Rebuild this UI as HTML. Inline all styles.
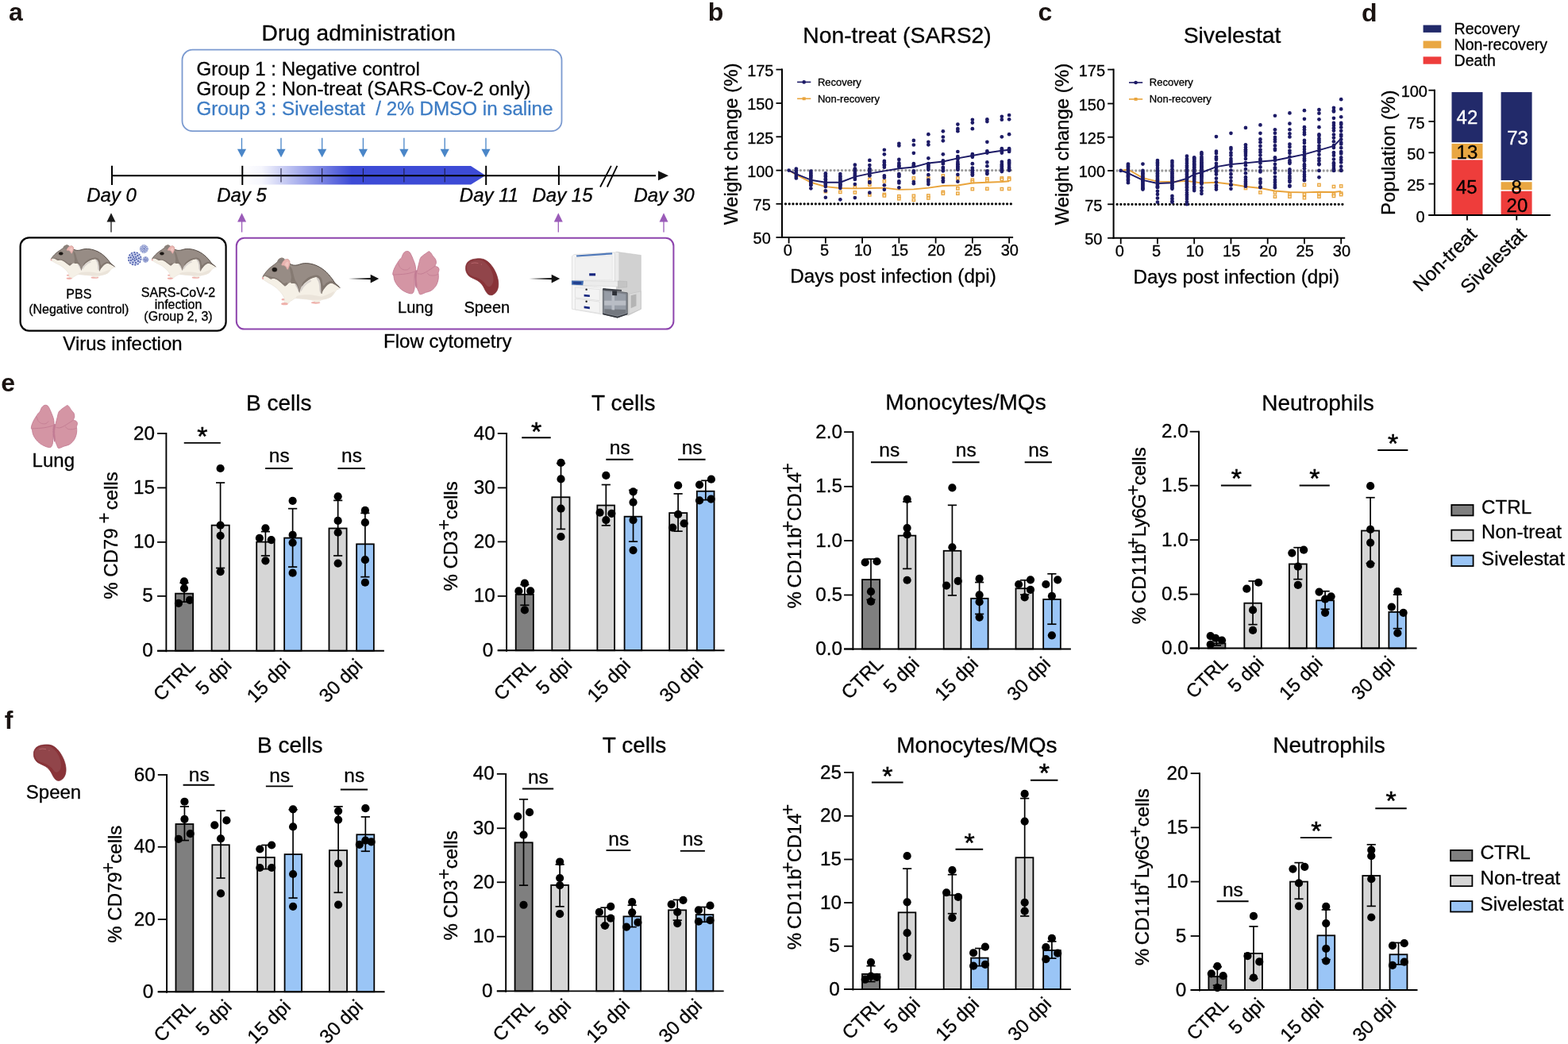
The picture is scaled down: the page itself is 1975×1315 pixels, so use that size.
<!DOCTYPE html>
<html lang="en"><head><meta charset="utf-8"><title>Figure</title>
<style>
html,body{margin:0;padding:0;background:#fff;}
body{width:1975px;height:1315px;overflow:hidden;}
svg{display:block;font-family:'Liberation Sans', Arial, Helvetica, sans-serif;}
</style></head>
<body>
<svg width="1975" height="1315" viewBox="0 0 1975 1315">
<rect width="1975" height="1315" fill="#fff"/>
<g id="panel_a">
<text x="11" y="25.7" font-size="32" font-weight="bold" fill="#1a1311">a</text>
<text x="451.8" y="50.5" font-size="28.2" text-anchor="middle" stroke="#000" stroke-width="0.3">Drug administration</text>
<rect x="229.5" y="62.7" width="478" height="102.5" fill="#fff" stroke="#7b9ad0" stroke-width="1.8" rx="13"/>
<text x="247.5" y="95" font-size="24.1" stroke="#000" stroke-width="0.3">Group 1 : Negative control</text>
<text x="247.5" y="119.5" font-size="24.2" stroke="#000" stroke-width="0.3">Group 2 : Non-treat (SARS-Cov-2 only)</text>
<text x="247.5" y="144.5" font-size="24.2" fill="#3d7cc4" stroke="#3d7cc4" stroke-width="0.3" xml:space="preserve" style="white-space:pre">Group 3 : Sivelestat  / 2% DMSO in saline</text>
<line x1="304.5" y1="173.8" x2="304.5" y2="189" stroke="#4a86c8" stroke-width="1.3"/>
<polygon points="298.9,187.8 310.1,187.8 304.5,198.3" fill="#4a86c8"/>
<line x1="354" y1="173.8" x2="354" y2="189" stroke="#4a86c8" stroke-width="1.3"/>
<polygon points="348.4,187.8 359.6,187.8 354,198.3" fill="#4a86c8"/>
<line x1="405.7" y1="173.8" x2="405.7" y2="189" stroke="#4a86c8" stroke-width="1.3"/>
<polygon points="400.1,187.8 411.3,187.8 405.7,198.3" fill="#4a86c8"/>
<line x1="457.4" y1="173.8" x2="457.4" y2="189" stroke="#4a86c8" stroke-width="1.3"/>
<polygon points="451.8,187.8 463,187.8 457.4,198.3" fill="#4a86c8"/>
<line x1="508.9" y1="173.8" x2="508.9" y2="189" stroke="#4a86c8" stroke-width="1.3"/>
<polygon points="503.3,187.8 514.5,187.8 508.9,198.3" fill="#4a86c8"/>
<line x1="560.2" y1="173.8" x2="560.2" y2="189" stroke="#4a86c8" stroke-width="1.3"/>
<polygon points="554.6,187.8 565.8,187.8 560.2,198.3" fill="#4a86c8"/>
<line x1="612" y1="173.8" x2="612" y2="189" stroke="#4a86c8" stroke-width="1.3"/>
<polygon points="606.4,187.8 617.6,187.8 612,198.3" fill="#4a86c8"/>
<defs><linearGradient id="gb" x1="0" x2="1" y1="0" y2="0"><stop offset="0" stop-color="#3d4bd6" stop-opacity="0"/><stop offset="0.08" stop-color="#3d4bd6" stop-opacity="0.05"/><stop offset="0.45" stop-color="#3d4bd6" stop-opacity="1"/><stop offset="1" stop-color="#3d4bd6" stop-opacity="1"/></linearGradient></defs>
<polygon points="305,209 593,209 611.5,221 593,232.6 305,232.6" fill="url(#gb)"/>
<line x1="140.2" y1="221.2" x2="826" y2="221.2" stroke="#000" stroke-width="2"/>
<polygon points="829,215.3 842,221.2 829,227.2" fill="#111"/>
<line x1="141" y1="208.8" x2="141" y2="233" stroke="#000" stroke-width="2"/>
<line x1="305.3" y1="208.8" x2="305.3" y2="233" stroke="#000" stroke-width="2"/>
<line x1="612.2" y1="208.8" x2="612.2" y2="233" stroke="#000" stroke-width="2"/>
<line x1="703.9" y1="208.8" x2="703.9" y2="233" stroke="#000" stroke-width="2"/>
<line x1="354" y1="212" x2="354" y2="229.5" stroke="#1a1a3a" stroke-width="1"/>
<line x1="405.7" y1="212" x2="405.7" y2="229.5" stroke="#1a1a3a" stroke-width="1"/>
<line x1="457.4" y1="212" x2="457.4" y2="229.5" stroke="#1a1a3a" stroke-width="1"/>
<line x1="508.9" y1="212" x2="508.9" y2="229.5" stroke="#1a1a3a" stroke-width="1"/>
<line x1="560.2" y1="212" x2="560.2" y2="229.5" stroke="#1a1a3a" stroke-width="1"/>
<line x1="756" y1="235.5" x2="769.8" y2="208.8" stroke="#000" stroke-width="1.8"/>
<line x1="764.8" y1="235.5" x2="777.4" y2="208.8" stroke="#000" stroke-width="1.8"/>
<text x="140.5" y="254" font-size="24" text-anchor="middle" font-style="italic" stroke="#000" stroke-width="0.3">Day 0</text>
<text x="304.5" y="254" font-size="24" text-anchor="middle" font-style="italic" stroke="#000" stroke-width="0.3">Day 5</text>
<text x="616" y="254" font-size="24" text-anchor="middle" font-style="italic" stroke="#000" stroke-width="0.3">Day 11</text>
<text x="708.5" y="254" font-size="24" text-anchor="middle" font-style="italic" stroke="#000" stroke-width="0.3">Day 15</text>
<text x="836.5" y="254" font-size="24" text-anchor="middle" font-style="italic" stroke="#000" stroke-width="0.3">Day 30</text>
<line x1="140" y1="278" x2="140" y2="292.5" stroke="#1a1a1a" stroke-width="1.3"/>
<polygon points="134.5,279.5 145.5,279.5 140,268.3" fill="#1a1a1a"/>
<line x1="304.6" y1="278" x2="304.6" y2="292.5" stroke="#9a5bb8" stroke-width="1.3"/>
<polygon points="299.1,279.5 310.1,279.5 304.6,268.3" fill="#9a5bb8"/>
<line x1="703.3" y1="278" x2="703.3" y2="292.5" stroke="#9a5bb8" stroke-width="1.3"/>
<polygon points="697.8,279.5 708.8,279.5 703.3,268.3" fill="#9a5bb8"/>
<line x1="836" y1="278" x2="836" y2="292.5" stroke="#9a5bb8" stroke-width="1.3"/>
<polygon points="830.5,279.5 841.5,279.5 836,268.3" fill="#9a5bb8"/>
<rect x="25.6" y="299.4" width="259" height="117.2" fill="#fff" stroke="#000" stroke-width="2.2" rx="11"/>
<rect x="297.8" y="299.8" width="550.6" height="114.8" fill="#fff" stroke="#8d44ad" stroke-width="2" rx="10"/>
<ellipse cx="85.75" cy="346.76" rx="1.9" ry="0.89" fill="#efb1ab"/>
<ellipse cx="119.34" cy="349.69" rx="4.76" ry="1.07" fill="#efb1ab"/>
<path d="M63.7,327.13 C63.89,326.6 64.74,325.4 65.45,324.47 C66.17,323.53 67.41,321.98 68.46,320.91 C69.51,319.85 71.27,318.29 72.47,317.36 C73.67,316.43 75.43,315.43 76.48,314.7 C77.53,313.96 78.89,313.14 79.49,312.47 C80.09,311.81 79.97,310.82 80.49,310.25 C81.02,309.69 82.25,308.93 83,308.7 C83.75,308.47 84.83,308.5 85.5,308.7 C86.18,308.9 86.76,309.87 87.51,310.03 C88.26,310.2 89.8,309.61 90.52,309.81 C91.23,310.01 91.91,310.73 92.27,311.36 C92.63,312 92.28,313.43 92.92,314.03 C93.56,314.63 95.39,315.19 96.53,315.36 C97.67,315.53 99.19,315.37 100.54,315.14 C101.89,314.91 104.05,314.04 105.55,313.81 C107.06,313.57 109.06,313.52 110.57,313.59 C112.07,313.65 114.07,313.92 115.58,314.25 C117.08,314.58 119.09,315.21 120.59,315.81 C122.09,316.41 124.1,317.35 125.6,318.25 C127.11,319.15 129.26,320.67 130.62,321.8 C131.97,322.93 133.57,324.67 134.63,325.8 C135.68,326.93 136.88,328.42 137.63,329.35 C138.39,330.28 138.89,331.28 139.64,332.02 C140.39,332.75 141.93,333.64 142.65,334.24 C143.36,334.84 144.25,335.61 144.4,336.01 C144.55,336.41 144.06,336.63 143.65,336.9 C143.23,337.17 142.17,337.46 141.64,337.79 C141.12,338.12 140.74,338.45 140.14,339.12 C139.54,339.79 138.31,341.5 137.63,342.23 C136.96,342.96 136.53,343.47 135.63,344.01 C134.73,344.54 132.82,345.38 131.62,345.78 C130.42,346.18 128.66,346.4 127.61,346.67 C126.56,346.94 125.35,347.21 124.6,347.56 C123.85,347.91 123.42,348.75 122.6,348.98 C121.77,349.21 119.95,349.29 119.09,349.11 C118.22,348.93 117.66,348.09 116.83,347.78 C116,347.47 114.51,347.19 113.57,347.03 C112.63,346.86 111.77,346.79 110.57,346.67 C109.36,346.55 107.06,346.36 105.55,346.23 C104.05,346.09 101.67,345.85 100.54,345.78 C99.41,345.72 98.79,345.58 98.04,345.78 C97.28,345.98 96.28,346.7 95.53,347.11 C94.78,347.53 93.66,348.07 93.02,348.54 C92.38,349 91.91,349.92 91.27,350.22 C90.63,350.53 89.39,350.75 88.76,350.58 C88.14,350.41 87.39,349.77 87.11,349.11 C86.83,348.46 87.15,347.13 86.91,346.23 C86.67,345.33 86.17,344.12 85.5,343.12 C84.84,342.12 83.47,340.56 82.5,339.56 C81.52,338.57 80.12,337.32 78.99,336.46 C77.86,335.59 76.26,334.52 74.98,333.79 C73.7,333.06 71.74,332.24 70.47,331.57 C69.19,330.91 67.4,329.88 66.46,329.35 C65.52,328.82 64.61,328.35 64.2,328.02 C63.79,327.69 63.51,327.66 63.7,327.13Z" fill="#f5f0e6" stroke="#e3dbd0" stroke-width="0.5"/>
<ellipse cx="87.11" cy="350.76" rx="3.51" ry="1.15" fill="#efb1ab"/>
<path d="M99.54,344.01 C100.37,343.49 102.88,342.9 105.55,342.67 C108.23,342.45 112.24,342.45 115.58,342.67 C118.92,342.9 122.6,344.23 125.6,344.01 C128.61,343.78 131.45,342.08 133.62,341.34 C135.8,340.6 138.3,339.12 138.64,339.56 C138.97,340.01 136.8,342.97 135.63,344.01 C134.46,345.04 132.95,345.34 131.62,345.78 C130.28,346.23 129.45,346.43 127.61,346.67 C125.77,346.91 123.43,347.2 120.59,347.2 C117.75,347.2 113.91,346.91 110.57,346.67 C107.22,346.43 102.38,346.23 100.54,345.78 C98.7,345.34 98.7,344.52 99.54,344.01Z" fill="#ebe4da"/>
<path d="M98.04,332.02 C98.37,331.72 99.79,331.79 100.54,332.46 C101.29,333.13 102.13,334.68 102.55,336.01 C102.96,337.34 103.21,339.86 103.05,340.45 C102.88,341.05 102.05,340.23 101.54,339.56 C101.04,338.9 100.54,337.34 100.04,336.46 C99.54,335.57 98.87,334.98 98.54,334.24 C98.2,333.5 97.7,332.31 98.04,332.02Z" fill="#cfc9c6"/>
<path d="M103.55,338.23 C103.72,337.42 104.55,335.42 105.55,334.24 C106.56,333.05 108.23,332.02 109.56,331.13 C110.9,330.24 112.74,329.05 113.57,328.91 C114.41,328.76 115.08,329.65 114.58,330.24 C114.07,330.83 111.82,331.57 110.57,332.46 C109.31,333.35 108.06,334.46 107.06,335.57 C106.05,336.68 105.14,338.68 104.55,339.12 C103.97,339.56 103.38,339.05 103.55,338.23Z" fill="#d9d3cf"/>
<path d="M120.09,326.69 C120.17,326.24 121.84,326.91 122.6,327.57 C123.35,328.24 124.14,329.28 124.6,330.68 C125.06,332.09 125.19,334.24 125.35,336.01 C125.52,337.79 125.9,340.75 125.6,341.34 C125.31,341.93 124.02,340.75 123.6,339.56 C123.18,338.38 123.35,335.79 123.1,334.24 C122.85,332.68 122.6,331.5 122.09,330.24 C121.59,328.98 120.01,327.13 120.09,326.69Z" fill="#cfc9c6"/>
<path d="M63.7,327.13 C63.81,326.83 64.74,325.4 65.45,324.47 C66.17,323.53 67.41,321.98 68.46,320.91 C69.51,319.85 71.27,318.29 72.47,317.36 C73.67,316.43 75.43,315.43 76.48,314.7 C77.53,313.96 78.89,313.14 79.49,312.47 C80.09,311.81 79.97,310.82 80.49,310.25 C81.02,309.69 82.25,308.93 83,308.7 C83.75,308.47 84.83,308.5 85.5,308.7 C86.18,308.9 86.76,309.87 87.51,310.03 C88.26,310.2 89.8,309.61 90.52,309.81 C91.23,310.01 91.91,310.73 92.27,311.36 C92.63,312 92.28,313.43 92.92,314.03 C93.56,314.63 95.39,315.19 96.53,315.36 C97.67,315.53 99.19,315.37 100.54,315.14 C101.89,314.91 104.05,314.04 105.55,313.81 C107.06,313.57 109.06,313.52 110.57,313.59 C112.07,313.65 114.07,313.92 115.58,314.25 C117.08,314.58 119.09,315.21 120.59,315.81 C122.09,316.41 124.1,317.35 125.6,318.25 C127.11,319.15 129.26,320.67 130.62,321.8 C131.97,322.93 133.57,324.67 134.63,325.8 C135.68,326.93 136.88,328.42 137.63,329.35 C138.39,330.28 138.89,331.28 139.64,332.02 C140.39,332.75 141.93,333.64 142.65,334.24 C143.36,334.84 144.14,335.75 144.4,336.01 C144.66,336.28 144.66,336.15 144.4,336.01 C144.14,335.88 143.36,335.52 142.65,335.12 C141.93,334.72 140.54,333.81 139.64,333.35 C138.74,332.88 137.46,332.22 136.63,332.02 C135.8,331.82 134.95,331.75 134.12,332.02 C133.3,332.28 131.94,333.13 131.12,333.79 C130.29,334.46 129.29,335.66 128.61,336.46 C127.93,337.26 127.09,338.35 126.61,339.12 C126.12,339.89 125.63,341.76 125.4,341.56 C125.18,341.36 125.18,338.89 125.1,337.79 C125.02,336.69 125,335.37 124.85,334.24 C124.7,333.1 124.44,331.24 124.1,330.24 C123.76,329.24 123.2,328.17 122.6,327.57 C121.99,326.97 120.92,326.38 120.09,326.24 C119.26,326.11 118.06,326.42 117.08,326.69 C116.1,326.95 114.55,327.55 113.57,328.02 C112.6,328.48 111.47,329.2 110.57,329.79 C109.66,330.39 108.39,331.28 107.56,332.02 C106.73,332.75 105.65,333.81 105.05,334.68 C104.45,335.55 103.92,336.91 103.55,337.79 C103.17,338.67 102.81,340.68 102.55,340.54 C102.28,340.41 102.1,337.91 101.79,336.9 C101.49,335.89 100.95,334.52 100.54,333.79 C100.13,333.06 99.64,332.41 99.04,332.02 C98.44,331.62 97.36,331.26 96.53,331.13 C95.7,330.99 94.43,330.93 93.52,331.13 C92.62,331.33 91.34,331.96 90.52,332.46 C89.69,332.96 88.61,334.26 88.01,334.46 C87.41,334.66 87.18,334.22 86.51,333.79 C85.83,333.36 84.4,332.24 83.5,331.57 C82.6,330.91 81.32,329.88 80.49,329.35 C79.66,328.82 78.74,328.28 77.99,328.02 C77.23,327.75 76.23,327.57 75.48,327.57 C74.73,327.57 73.72,328.15 72.97,328.02 C72.22,327.89 71.14,327.02 70.47,326.69 C69.79,326.35 69.14,325.96 68.46,325.8 C67.79,325.63 66.52,325.48 65.96,325.58 C65.39,325.68 65.04,326.23 64.7,326.46 C64.36,326.7 63.59,327.43 63.7,327.13Z" fill="#978c85"/>
<path d="M92.27,316.03 C92.6,315.73 94.32,317.73 95.03,319.14 C95.74,320.54 96.03,322.84 96.53,324.47 C97.03,326.09 97.37,327.57 98.04,328.91 C98.7,330.24 99.87,331.13 100.54,332.46 C101.21,333.79 101.71,335.57 102.05,336.9 C102.38,338.23 102.8,340.75 102.55,340.45 C102.3,340.16 101.21,336.46 100.54,335.12 C99.87,333.79 99.37,332.98 98.54,332.46 C97.7,331.94 96.36,332.16 95.53,332.02 C94.69,331.87 93.77,332.53 93.52,331.57 C93.27,330.61 94.11,328.02 94.03,326.24 C93.94,324.47 93.32,322.62 93.02,320.91 C92.73,319.21 91.94,316.32 92.27,316.03Z" fill="#857a72"/>
<path d="M105.05,334.68 C105.39,334.68 106.64,332.83 107.56,332.02 C108.48,331.2 109.56,330.46 110.57,329.79 C111.57,329.13 112.49,328.54 113.57,328.02 C114.66,327.5 116,326.98 117.08,326.69 C118.17,326.39 119.17,326.09 120.09,326.24 C121.01,326.39 121.93,326.91 122.6,327.57 C123.26,328.24 123.72,329.13 124.1,330.24 C124.48,331.35 124.63,332.35 124.85,334.24 C125.07,336.12 125.11,340.75 125.4,341.56 C125.7,342.38 126.07,339.97 126.61,339.12 C127.14,338.27 127.86,337.34 128.61,336.46 C129.36,335.57 130.2,334.53 131.12,333.79 C132.04,333.05 133.21,332.31 134.12,332.02 C135.04,331.72 135.71,331.79 136.63,332.02 C137.55,332.24 138.34,332.68 139.64,333.35 C140.93,334.01 144.32,336.16 144.4,336.01 C144.48,335.86 141.27,333.42 140.14,332.46 C139.01,331.5 138.55,330.68 137.63,330.24 C136.71,329.79 135.8,329.57 134.63,329.79 C133.46,330.02 131.79,330.83 130.62,331.57 C129.45,332.31 128.28,334.09 127.61,334.24 C126.94,334.38 126.94,333.5 126.61,332.46 C126.27,331.42 126.19,329.2 125.6,328.02 C125.02,326.83 124.02,325.95 123.1,325.35 C122.18,324.76 121.18,324.54 120.09,324.47 C119,324.39 117.83,324.61 116.58,324.91 C115.33,325.21 113.91,325.58 112.57,326.24 C111.23,326.91 109.73,327.94 108.56,328.91 C107.39,329.87 106.14,331.05 105.55,332.02 C104.97,332.98 104.72,334.68 105.05,334.68Z" fill="#82776f"/>
<path d="M64.7,326.46 C64.45,326.61 65.33,325.69 65.96,325.58 C66.58,325.46 67.71,325.61 68.46,325.8 C69.21,325.98 69.71,326.32 70.47,326.69 C71.22,327.06 72.14,327.87 72.97,328.02 C73.81,328.17 74.64,327.57 75.48,327.57 C76.31,327.57 77.15,327.72 77.99,328.02 C78.82,328.31 79.57,328.76 80.49,329.35 C81.41,329.94 82.5,330.83 83.5,331.57 C84.5,332.31 85.75,333.31 86.51,333.79 C87.26,334.27 87.34,334.68 88.01,334.46 C88.68,334.24 90.27,333.01 90.52,332.46 C90.77,331.9 90.18,331.2 89.51,331.13 C88.85,331.05 87.51,332.24 86.51,332.02 C85.5,331.79 84.5,330.5 83.5,329.79 C82.5,329.09 81.49,328.31 80.49,327.8 C79.49,327.28 78.49,326.95 77.48,326.69 C76.48,326.43 75.65,326.46 74.48,326.24 C73.31,326.02 71.64,325.61 70.47,325.35 C69.3,325.09 68.42,324.5 67.46,324.69 C66.5,324.87 64.95,326.32 64.7,326.46Z" fill="#857a72"/>
<path d="M64.7,325.58 C64.83,325.39 64.83,325.24 65.45,324.47 C66.08,323.69 67.29,322.1 68.46,320.91 C69.63,319.73 71.14,318.4 72.47,317.36 C73.81,316.32 75.31,315.51 76.48,314.7 C77.65,313.88 78.99,312.84 79.49,312.47" fill="none" stroke="#5b524d" stroke-width="0.8" stroke-linecap="round"/>
<path d="M92.92,314.25 C93.52,314.44 95.26,315.21 96.53,315.36 C97.8,315.51 99.04,315.4 100.54,315.14 C102.05,314.88 103.88,314.07 105.55,313.81 C107.22,313.55 108.9,313.51 110.57,313.59 C112.24,313.66 113.91,313.88 115.58,314.25 C117.25,314.62 118.92,315.14 120.59,315.81 C122.26,316.47 123.93,317.25 125.6,318.25 C127.27,319.25 129.11,320.54 130.62,321.8 C132.12,323.06 133.46,324.54 134.63,325.8 C135.8,327.06 136.8,328.31 137.63,329.35 C138.47,330.39 138.8,331.2 139.64,332.02 C140.47,332.83 141.85,333.57 142.65,334.24 C143.44,334.9 144.11,335.72 144.4,336.01" fill="none" stroke="#554c47" stroke-width="1" stroke-linecap="round"/>
<path d="M79.49,312.47 C79.32,312.03 79.91,310.88 80.49,310.25 C81.08,309.63 82.16,308.96 83,308.7 C83.83,308.44 84.84,308.51 85.5,308.7 C86.17,308.89 87.01,309.29 87.01,309.81 C87.01,310.33 86.01,311.11 85.5,311.81 C85,312.51 84.67,313.84 84,314.03 C83.33,314.21 82.25,313.18 81.49,312.92 C80.74,312.66 79.66,312.92 79.49,312.47Z" fill="#8a807b"/>
<path d="M84,315.14 C83.83,314.55 84.84,312.88 85.5,312.03 C86.17,311.18 87.17,310.4 88.01,310.03 C88.85,309.66 89.81,309.59 90.52,309.81 C91.23,310.03 91.89,310.77 92.27,311.36 C92.65,311.96 92.81,312.59 92.77,313.36 C92.73,314.14 92.4,315.07 92.02,316.03 C91.64,316.99 90.93,318.69 90.52,319.14 C90.1,319.58 89.85,319.06 89.51,318.69 C89.18,318.32 89.01,317.43 88.51,316.92 C88.01,316.4 87.26,315.88 86.51,315.58 C85.75,315.29 84.17,315.73 84,315.14Z" fill="#e9b4b0" stroke="#d79c9b" stroke-width="0.4"/>
<path d="M87.51,314.7 C87.43,314.03 88.47,312.92 89.01,312.47 C89.56,312.03 90.39,311.73 90.77,312.03 C91.14,312.33 91.31,313.44 91.27,314.25 C91.23,315.07 90.81,316.55 90.52,316.92 C90.22,317.29 90.02,316.84 89.51,316.47 C89.01,316.1 87.59,315.36 87.51,314.7Z" fill="#f0c6c1"/>
<ellipse cx="76.73" cy="319.36" rx="2.91" ry="2.31" fill="#6d635d"/>
<ellipse cx="76.73" cy="319.36" rx="2.51" ry="1.95" fill="#1c1815"/>
<ellipse cx="64.6" cy="327.35" rx="0.9" ry="1.07" fill="#e9a9a9"/>
<ellipse cx="212.95" cy="346.76" rx="1.9" ry="0.89" fill="#efb1ab"/>
<ellipse cx="246.54" cy="349.69" rx="4.76" ry="1.07" fill="#efb1ab"/>
<path d="M190.9,327.13 C191.09,326.6 191.94,325.4 192.65,324.47 C193.37,323.53 194.61,321.98 195.66,320.91 C196.71,319.85 198.47,318.29 199.67,317.36 C200.87,316.43 202.63,315.43 203.68,314.7 C204.73,313.96 206.09,313.14 206.69,312.47 C207.29,311.81 207.17,310.82 207.69,310.25 C208.22,309.69 209.45,308.93 210.2,308.7 C210.95,308.47 212.03,308.5 212.7,308.7 C213.38,308.9 213.96,309.87 214.71,310.03 C215.46,310.2 217,309.61 217.72,309.81 C218.43,310.01 219.11,310.73 219.47,311.36 C219.83,312 219.48,313.43 220.12,314.03 C220.76,314.63 222.59,315.19 223.73,315.36 C224.87,315.53 226.39,315.37 227.74,315.14 C229.09,314.91 231.25,314.04 232.75,313.81 C234.26,313.57 236.26,313.52 237.77,313.59 C239.27,313.65 241.27,313.92 242.78,314.25 C244.28,314.58 246.29,315.21 247.79,315.81 C249.29,316.41 251.3,317.35 252.8,318.25 C254.31,319.15 256.46,320.67 257.82,321.8 C259.17,322.93 260.77,324.67 261.83,325.8 C262.88,326.93 264.08,328.42 264.83,329.35 C265.59,330.28 266.09,331.28 266.84,332.02 C267.59,332.75 269.13,333.64 269.85,334.24 C270.56,334.84 271.45,335.61 271.6,336.01 C271.75,336.41 271.26,336.63 270.85,336.9 C270.43,337.17 269.37,337.46 268.84,337.79 C268.32,338.12 267.94,338.45 267.34,339.12 C266.74,339.79 265.51,341.5 264.83,342.23 C264.16,342.96 263.73,343.47 262.83,344.01 C261.93,344.54 260.02,345.38 258.82,345.78 C257.62,346.18 255.86,346.4 254.81,346.67 C253.76,346.94 252.55,347.21 251.8,347.56 C251.05,347.91 250.62,348.75 249.8,348.98 C248.97,349.21 247.15,349.29 246.29,349.11 C245.42,348.93 244.86,348.09 244.03,347.78 C243.2,347.47 241.71,347.19 240.77,347.03 C239.83,346.86 238.97,346.79 237.77,346.67 C236.56,346.55 234.26,346.36 232.75,346.23 C231.25,346.09 228.87,345.85 227.74,345.78 C226.61,345.72 225.99,345.58 225.24,345.78 C224.48,345.98 223.48,346.7 222.73,347.11 C221.98,347.53 220.86,348.07 220.22,348.54 C219.58,349 219.11,349.92 218.47,350.22 C217.83,350.53 216.59,350.75 215.96,350.58 C215.34,350.41 214.59,349.77 214.31,349.11 C214.03,348.46 214.35,347.13 214.11,346.23 C213.87,345.33 213.37,344.12 212.7,343.12 C212.04,342.12 210.67,340.56 209.7,339.56 C208.72,338.57 207.32,337.32 206.19,336.46 C205.06,335.59 203.46,334.52 202.18,333.79 C200.9,333.06 198.94,332.24 197.67,331.57 C196.39,330.91 194.6,329.88 193.66,329.35 C192.72,328.82 191.81,328.35 191.4,328.02 C190.99,327.69 190.71,327.66 190.9,327.13Z" fill="#f5f0e6" stroke="#e3dbd0" stroke-width="0.5"/>
<ellipse cx="214.31" cy="350.76" rx="3.51" ry="1.15" fill="#efb1ab"/>
<path d="M226.74,344.01 C227.57,343.49 230.08,342.9 232.75,342.67 C235.43,342.45 239.44,342.45 242.78,342.67 C246.12,342.9 249.8,344.23 252.8,344.01 C255.81,343.78 258.65,342.08 260.82,341.34 C263,340.6 265.5,339.12 265.84,339.56 C266.17,340.01 264,342.97 262.83,344.01 C261.66,345.04 260.15,345.34 258.82,345.78 C257.48,346.23 256.65,346.43 254.81,346.67 C252.97,346.91 250.63,347.2 247.79,347.2 C244.95,347.2 241.11,346.91 237.77,346.67 C234.42,346.43 229.58,346.23 227.74,345.78 C225.9,345.34 225.9,344.52 226.74,344.01Z" fill="#ebe4da"/>
<path d="M225.24,332.02 C225.57,331.72 226.99,331.79 227.74,332.46 C228.49,333.13 229.33,334.68 229.75,336.01 C230.16,337.34 230.41,339.86 230.25,340.45 C230.08,341.05 229.25,340.23 228.74,339.56 C228.24,338.9 227.74,337.34 227.24,336.46 C226.74,335.57 226.07,334.98 225.74,334.24 C225.4,333.5 224.9,332.31 225.24,332.02Z" fill="#cfc9c6"/>
<path d="M230.75,338.23 C230.92,337.42 231.75,335.42 232.75,334.24 C233.76,333.05 235.43,332.02 236.76,331.13 C238.1,330.24 239.94,329.05 240.77,328.91 C241.61,328.76 242.28,329.65 241.78,330.24 C241.27,330.83 239.02,331.57 237.77,332.46 C236.51,333.35 235.26,334.46 234.26,335.57 C233.25,336.68 232.34,338.68 231.75,339.12 C231.17,339.56 230.58,339.05 230.75,338.23Z" fill="#d9d3cf"/>
<path d="M247.29,326.69 C247.37,326.24 249.04,326.91 249.8,327.57 C250.55,328.24 251.34,329.28 251.8,330.68 C252.26,332.09 252.39,334.24 252.55,336.01 C252.72,337.79 253.1,340.75 252.8,341.34 C252.51,341.93 251.22,340.75 250.8,339.56 C250.38,338.38 250.55,335.79 250.3,334.24 C250.05,332.68 249.8,331.5 249.29,330.24 C248.79,328.98 247.21,327.13 247.29,326.69Z" fill="#cfc9c6"/>
<path d="M190.9,327.13 C191.01,326.83 191.94,325.4 192.65,324.47 C193.37,323.53 194.61,321.98 195.66,320.91 C196.71,319.85 198.47,318.29 199.67,317.36 C200.87,316.43 202.63,315.43 203.68,314.7 C204.73,313.96 206.09,313.14 206.69,312.47 C207.29,311.81 207.17,310.82 207.69,310.25 C208.22,309.69 209.45,308.93 210.2,308.7 C210.95,308.47 212.03,308.5 212.7,308.7 C213.38,308.9 213.96,309.87 214.71,310.03 C215.46,310.2 217,309.61 217.72,309.81 C218.43,310.01 219.11,310.73 219.47,311.36 C219.83,312 219.48,313.43 220.12,314.03 C220.76,314.63 222.59,315.19 223.73,315.36 C224.87,315.53 226.39,315.37 227.74,315.14 C229.09,314.91 231.25,314.04 232.75,313.81 C234.26,313.57 236.26,313.52 237.77,313.59 C239.27,313.65 241.27,313.92 242.78,314.25 C244.28,314.58 246.29,315.21 247.79,315.81 C249.29,316.41 251.3,317.35 252.8,318.25 C254.31,319.15 256.46,320.67 257.82,321.8 C259.17,322.93 260.77,324.67 261.83,325.8 C262.88,326.93 264.08,328.42 264.83,329.35 C265.59,330.28 266.09,331.28 266.84,332.02 C267.59,332.75 269.13,333.64 269.85,334.24 C270.56,334.84 271.34,335.75 271.6,336.01 C271.86,336.28 271.86,336.15 271.6,336.01 C271.34,335.88 270.56,335.52 269.85,335.12 C269.13,334.72 267.74,333.81 266.84,333.35 C265.94,332.88 264.66,332.22 263.83,332.02 C263,331.82 262.15,331.75 261.32,332.02 C260.5,332.28 259.14,333.13 258.32,333.79 C257.49,334.46 256.49,335.66 255.81,336.46 C255.13,337.26 254.29,338.35 253.81,339.12 C253.32,339.89 252.83,341.76 252.6,341.56 C252.38,341.36 252.38,338.89 252.3,337.79 C252.22,336.69 252.2,335.37 252.05,334.24 C251.9,333.1 251.64,331.24 251.3,330.24 C250.96,329.24 250.4,328.17 249.8,327.57 C249.19,326.97 248.12,326.38 247.29,326.24 C246.46,326.11 245.26,326.42 244.28,326.69 C243.3,326.95 241.75,327.55 240.77,328.02 C239.8,328.48 238.67,329.2 237.77,329.79 C236.86,330.39 235.59,331.28 234.76,332.02 C233.93,332.75 232.85,333.81 232.25,334.68 C231.65,335.55 231.12,336.91 230.75,337.79 C230.37,338.67 230.01,340.68 229.75,340.54 C229.48,340.41 229.3,337.91 228.99,336.9 C228.69,335.89 228.15,334.52 227.74,333.79 C227.33,333.06 226.84,332.41 226.24,332.02 C225.64,331.62 224.56,331.26 223.73,331.13 C222.9,330.99 221.63,330.93 220.72,331.13 C219.82,331.33 218.54,331.96 217.72,332.46 C216.89,332.96 215.81,334.26 215.21,334.46 C214.61,334.66 214.38,334.22 213.71,333.79 C213.03,333.36 211.6,332.24 210.7,331.57 C209.8,330.91 208.52,329.88 207.69,329.35 C206.86,328.82 205.94,328.28 205.19,328.02 C204.43,327.75 203.43,327.57 202.68,327.57 C201.93,327.57 200.92,328.15 200.17,328.02 C199.42,327.89 198.34,327.02 197.67,326.69 C196.99,326.35 196.34,325.96 195.66,325.8 C194.99,325.63 193.72,325.48 193.16,325.58 C192.59,325.68 192.24,326.23 191.9,326.46 C191.56,326.7 190.79,327.43 190.9,327.13Z" fill="#978c85"/>
<path d="M219.47,316.03 C219.8,315.73 221.52,317.73 222.23,319.14 C222.94,320.54 223.23,322.84 223.73,324.47 C224.23,326.09 224.57,327.57 225.24,328.91 C225.9,330.24 227.07,331.13 227.74,332.46 C228.41,333.79 228.91,335.57 229.25,336.9 C229.58,338.23 230,340.75 229.75,340.45 C229.5,340.16 228.41,336.46 227.74,335.12 C227.07,333.79 226.57,332.98 225.74,332.46 C224.9,331.94 223.56,332.16 222.73,332.02 C221.89,331.87 220.97,332.53 220.72,331.57 C220.47,330.61 221.31,328.02 221.23,326.24 C221.14,324.47 220.52,322.62 220.22,320.91 C219.93,319.21 219.14,316.32 219.47,316.03Z" fill="#857a72"/>
<path d="M232.25,334.68 C232.59,334.68 233.84,332.83 234.76,332.02 C235.68,331.2 236.76,330.46 237.77,329.79 C238.77,329.13 239.69,328.54 240.77,328.02 C241.86,327.5 243.2,326.98 244.28,326.69 C245.37,326.39 246.37,326.09 247.29,326.24 C248.21,326.39 249.13,326.91 249.8,327.57 C250.46,328.24 250.92,329.13 251.3,330.24 C251.68,331.35 251.83,332.35 252.05,334.24 C252.27,336.12 252.31,340.75 252.6,341.56 C252.9,342.38 253.27,339.97 253.81,339.12 C254.34,338.27 255.06,337.34 255.81,336.46 C256.56,335.57 257.4,334.53 258.32,333.79 C259.24,333.05 260.41,332.31 261.32,332.02 C262.24,331.72 262.91,331.79 263.83,332.02 C264.75,332.24 265.54,332.68 266.84,333.35 C268.13,334.01 271.52,336.16 271.6,336.01 C271.68,335.86 268.47,333.42 267.34,332.46 C266.21,331.5 265.75,330.68 264.83,330.24 C263.91,329.79 263,329.57 261.83,329.79 C260.66,330.02 258.99,330.83 257.82,331.57 C256.65,332.31 255.48,334.09 254.81,334.24 C254.14,334.38 254.14,333.5 253.81,332.46 C253.47,331.42 253.39,329.2 252.8,328.02 C252.22,326.83 251.22,325.95 250.3,325.35 C249.38,324.76 248.38,324.54 247.29,324.47 C246.2,324.39 245.03,324.61 243.78,324.91 C242.53,325.21 241.11,325.58 239.77,326.24 C238.43,326.91 236.93,327.94 235.76,328.91 C234.59,329.87 233.34,331.05 232.75,332.02 C232.17,332.98 231.92,334.68 232.25,334.68Z" fill="#82776f"/>
<path d="M191.9,326.46 C191.65,326.61 192.53,325.69 193.16,325.58 C193.78,325.46 194.91,325.61 195.66,325.8 C196.41,325.98 196.91,326.32 197.67,326.69 C198.42,327.06 199.34,327.87 200.17,328.02 C201.01,328.17 201.84,327.57 202.68,327.57 C203.51,327.57 204.35,327.72 205.19,328.02 C206.02,328.31 206.77,328.76 207.69,329.35 C208.61,329.94 209.7,330.83 210.7,331.57 C211.7,332.31 212.95,333.31 213.71,333.79 C214.46,334.27 214.54,334.68 215.21,334.46 C215.88,334.24 217.47,333.01 217.72,332.46 C217.97,331.9 217.38,331.2 216.71,331.13 C216.05,331.05 214.71,332.24 213.71,332.02 C212.7,331.79 211.7,330.5 210.7,329.79 C209.7,329.09 208.69,328.31 207.69,327.8 C206.69,327.28 205.69,326.95 204.68,326.69 C203.68,326.43 202.85,326.46 201.68,326.24 C200.51,326.02 198.84,325.61 197.67,325.35 C196.5,325.09 195.62,324.5 194.66,324.69 C193.7,324.87 192.15,326.32 191.9,326.46Z" fill="#857a72"/>
<path d="M191.9,325.58 C192.03,325.39 192.03,325.24 192.65,324.47 C193.28,323.69 194.49,322.1 195.66,320.91 C196.83,319.73 198.34,318.4 199.67,317.36 C201.01,316.32 202.51,315.51 203.68,314.7 C204.85,313.88 206.19,312.84 206.69,312.47" fill="none" stroke="#5b524d" stroke-width="0.8" stroke-linecap="round"/>
<path d="M220.12,314.25 C220.72,314.44 222.46,315.21 223.73,315.36 C225,315.51 226.24,315.4 227.74,315.14 C229.25,314.88 231.08,314.07 232.75,313.81 C234.42,313.55 236.1,313.51 237.77,313.59 C239.44,313.66 241.11,313.88 242.78,314.25 C244.45,314.62 246.12,315.14 247.79,315.81 C249.46,316.47 251.13,317.25 252.8,318.25 C254.47,319.25 256.31,320.54 257.82,321.8 C259.32,323.06 260.66,324.54 261.83,325.8 C263,327.06 264,328.31 264.83,329.35 C265.67,330.39 266,331.2 266.84,332.02 C267.67,332.83 269.05,333.57 269.85,334.24 C270.64,334.9 271.31,335.72 271.6,336.01" fill="none" stroke="#554c47" stroke-width="1" stroke-linecap="round"/>
<path d="M206.69,312.47 C206.52,312.03 207.11,310.88 207.69,310.25 C208.28,309.63 209.36,308.96 210.2,308.7 C211.03,308.44 212.04,308.51 212.7,308.7 C213.37,308.89 214.21,309.29 214.21,309.81 C214.21,310.33 213.21,311.11 212.7,311.81 C212.2,312.51 211.87,313.84 211.2,314.03 C210.53,314.21 209.45,313.18 208.69,312.92 C207.94,312.66 206.86,312.92 206.69,312.47Z" fill="#8a807b"/>
<path d="M211.2,315.14 C211.03,314.55 212.04,312.88 212.7,312.03 C213.37,311.18 214.37,310.4 215.21,310.03 C216.05,309.66 217.01,309.59 217.72,309.81 C218.43,310.03 219.09,310.77 219.47,311.36 C219.85,311.96 220.01,312.59 219.97,313.36 C219.93,314.14 219.6,315.07 219.22,316.03 C218.84,316.99 218.13,318.69 217.72,319.14 C217.3,319.58 217.05,319.06 216.71,318.69 C216.38,318.32 216.21,317.43 215.71,316.92 C215.21,316.4 214.46,315.88 213.71,315.58 C212.95,315.29 211.37,315.73 211.2,315.14Z" fill="#e9b4b0" stroke="#d79c9b" stroke-width="0.4"/>
<path d="M214.71,314.7 C214.63,314.03 215.67,312.92 216.21,312.47 C216.76,312.03 217.59,311.73 217.97,312.03 C218.34,312.33 218.51,313.44 218.47,314.25 C218.43,315.07 218.01,316.55 217.72,316.92 C217.42,317.29 217.22,316.84 216.71,316.47 C216.21,316.1 214.79,315.36 214.71,314.7Z" fill="#f0c6c1"/>
<ellipse cx="203.93" cy="319.36" rx="2.91" ry="2.31" fill="#6d635d"/>
<ellipse cx="203.93" cy="319.36" rx="2.51" ry="1.95" fill="#1c1815"/>
<ellipse cx="191.8" cy="327.35" rx="0.9" ry="1.07" fill="#e9a9a9"/>
<circle cx="169.7" cy="325.8" r="8.5" fill="#c9d0ec"/>
<circle cx="169.7" cy="325.8" r="7.91" fill="none" stroke="#4457a8" stroke-width="1.53" stroke-dasharray="1.87 1.7"/>
<circle cx="173.99" cy="328.86" r="1.02" fill="#3f51a3"/>
<circle cx="171.02" cy="330.9" r="1.02" fill="#3f51a3"/>
<circle cx="167.43" cy="330.56" r="1.02" fill="#3f51a3"/>
<circle cx="164.9" cy="327.98" r="1.02" fill="#3f51a3"/>
<circle cx="164.62" cy="324.39" r="1.02" fill="#3f51a3"/>
<circle cx="166.72" cy="321.46" r="1.02" fill="#3f51a3"/>
<circle cx="170.21" cy="320.55" r="1.02" fill="#3f51a3"/>
<circle cx="173.46" cy="322.11" r="1.02" fill="#3f51a3"/>
<circle cx="174.95" cy="325.39" r="1.02" fill="#3f51a3"/>
<circle cx="172.14" cy="326.55" r="1.02" fill="#3f51a3"/>
<circle cx="169.74" cy="328.35" r="1.02" fill="#3f51a3"/>
<circle cx="167.29" cy="326.62" r="1.02" fill="#3f51a3"/>
<circle cx="168.17" cy="323.76" r="1.02" fill="#3f51a3"/>
<circle cx="171.17" cy="323.72" r="1.02" fill="#3f51a3"/>
<circle cx="169.7" cy="325.8" r="0.85" fill="#3f51a3"/>
<circle cx="181.3" cy="313.5" r="5.2" fill="#c9d0ec"/>
<circle cx="181.3" cy="313.5" r="4.84" fill="none" stroke="#4457a8" stroke-width="0.94" stroke-dasharray="1.14 1.04"/>
<circle cx="183.92" cy="315.37" r="0.62" fill="#3f51a3"/>
<circle cx="182.11" cy="316.62" r="0.62" fill="#3f51a3"/>
<circle cx="179.91" cy="316.41" r="0.62" fill="#3f51a3"/>
<circle cx="178.37" cy="314.84" r="0.62" fill="#3f51a3"/>
<circle cx="178.19" cy="312.64" r="0.62" fill="#3f51a3"/>
<circle cx="179.47" cy="310.84" r="0.62" fill="#3f51a3"/>
<circle cx="181.61" cy="310.29" r="0.62" fill="#3f51a3"/>
<circle cx="183.6" cy="311.24" r="0.62" fill="#3f51a3"/>
<circle cx="184.51" cy="313.25" r="0.62" fill="#3f51a3"/>
<circle cx="182.79" cy="313.96" r="0.62" fill="#3f51a3"/>
<circle cx="181.32" cy="315.06" r="0.62" fill="#3f51a3"/>
<circle cx="179.82" cy="314" r="0.62" fill="#3f51a3"/>
<circle cx="180.37" cy="312.25" r="0.62" fill="#3f51a3"/>
<circle cx="182.2" cy="312.23" r="0.62" fill="#3f51a3"/>
<circle cx="181.3" cy="313.5" r="0.52" fill="#3f51a3"/>
<circle cx="183.4" cy="326.9" r="3.7" fill="#c9d0ec"/>
<circle cx="183.4" cy="326.9" r="3.44" fill="none" stroke="#4457a8" stroke-width="0.67" stroke-dasharray="0.81 0.74"/>
<circle cx="185.27" cy="328.23" r="0.5" fill="#3f51a3"/>
<circle cx="183.97" cy="329.12" r="0.5" fill="#3f51a3"/>
<circle cx="182.41" cy="328.97" r="0.5" fill="#3f51a3"/>
<circle cx="181.31" cy="327.85" r="0.5" fill="#3f51a3"/>
<circle cx="181.19" cy="326.29" r="0.5" fill="#3f51a3"/>
<circle cx="182.1" cy="325.01" r="0.5" fill="#3f51a3"/>
<circle cx="183.62" cy="324.62" r="0.5" fill="#3f51a3"/>
<circle cx="185.04" cy="325.29" r="0.5" fill="#3f51a3"/>
<circle cx="185.69" cy="326.72" r="0.5" fill="#3f51a3"/>
<circle cx="184.46" cy="327.23" r="0.5" fill="#3f51a3"/>
<circle cx="183.42" cy="328.01" r="0.5" fill="#3f51a3"/>
<circle cx="182.35" cy="327.26" r="0.5" fill="#3f51a3"/>
<circle cx="182.73" cy="326.01" r="0.5" fill="#3f51a3"/>
<circle cx="184.04" cy="325.99" r="0.5" fill="#3f51a3"/>
<circle cx="183.4" cy="326.9" r="0.4" fill="#3f51a3"/>
<text x="99.3" y="375.8" font-size="16" text-anchor="middle" stroke="#000" stroke-width="0.3">PBS</text>
<text x="99.3" y="395.3" font-size="16" text-anchor="middle" stroke="#000" stroke-width="0.3">(Negative control)</text>
<text x="224.5" y="373.7" font-size="16" text-anchor="middle" stroke="#000" stroke-width="0.3">SARS-CoV-2</text>
<text x="224.5" y="388.5" font-size="16" text-anchor="middle" stroke="#000" stroke-width="0.3">infection</text>
<text x="224.5" y="403.8" font-size="16" text-anchor="middle" stroke="#000" stroke-width="0.3">(Group 2, 3)</text>
<text x="154.5" y="440.5" font-size="24" text-anchor="middle" stroke="#000" stroke-width="0.3">Virus infection</text>
<text x="563.8" y="438" font-size="24" text-anchor="middle" stroke="#000" stroke-width="0.3">Flow cytometry</text>
<ellipse cx="356.78" cy="377.17" rx="2.31" ry="1.22" fill="#efb1ab"/>
<ellipse cx="397.57" cy="381.18" rx="5.78" ry="1.46" fill="#efb1ab"/>
<path d="M330,350.26 C330.23,349.53 331.26,347.89 332.13,346.61 C333,345.33 334.5,343.2 335.78,341.74 C337.06,340.28 339.19,338.15 340.65,336.87 C342.11,335.59 344.24,334.22 345.52,333.22 C346.8,332.21 348.44,331.09 349.17,330.17 C349.9,329.26 349.75,327.91 350.39,327.13 C351.03,326.35 352.52,325.32 353.43,325 C354.35,324.68 355.66,324.73 356.48,325 C357.3,325.27 358,326.6 358.91,326.83 C359.83,327.05 361.7,326.25 362.57,326.52 C363.43,326.8 364.26,327.78 364.7,328.65 C365.13,329.52 364.71,331.48 365.49,332.3 C366.26,333.13 368.48,333.9 369.87,334.13 C371.26,334.36 373.1,334.15 374.74,333.83 C376.38,333.51 379,332.32 380.83,332 C382.65,331.68 385.09,331.6 386.91,331.7 C388.74,331.79 391.17,332.15 393,332.61 C394.83,333.07 397.26,333.92 399.09,334.74 C400.91,335.56 403.35,336.85 405.17,338.09 C407,339.32 409.62,341.4 411.26,342.96 C412.9,344.51 414.85,346.88 416.13,348.43 C417.41,349.99 418.87,352.03 419.78,353.3 C420.7,354.58 421.3,355.95 422.22,356.96 C423.13,357.96 425,359.18 425.87,360 C426.74,360.82 427.82,361.89 428,362.43 C428.18,362.98 427.59,363.29 427.09,363.65 C426.58,364.02 425.29,364.41 424.65,364.87 C424.01,365.33 423.56,365.78 422.83,366.7 C422.1,367.61 420.6,369.95 419.78,370.96 C418.96,371.96 418.44,372.66 417.35,373.39 C416.25,374.12 413.94,375.28 412.48,375.83 C411.02,376.37 408.89,376.68 407.61,377.04 C406.33,377.41 404.87,377.79 403.96,378.26 C403.04,378.74 402.53,379.89 401.52,380.21 C400.52,380.53 398.31,380.64 397.26,380.39 C396.21,380.14 395.53,378.99 394.52,378.57 C393.52,378.14 391.71,377.76 390.57,377.53 C389.42,377.3 388.37,377.21 386.91,377.04 C385.45,376.88 382.65,376.62 380.83,376.43 C379,376.25 376.11,375.92 374.74,375.83 C373.37,375.73 372.61,375.55 371.7,375.83 C370.78,376.1 369.57,377.09 368.65,377.65 C367.74,378.22 366.38,378.96 365.61,379.6 C364.83,380.24 364.25,381.49 363.48,381.91 C362.7,382.33 361.19,382.63 360.43,382.4 C359.68,382.17 358.76,381.29 358.43,380.39 C358.09,379.5 358.47,377.67 358.18,376.43 C357.89,375.2 357.28,373.54 356.48,372.17 C355.67,370.8 354.01,368.67 352.83,367.3 C351.64,365.93 349.93,364.23 348.57,363.04 C347.2,361.86 345.25,360.4 343.7,359.39 C342.14,358.39 339.77,357.26 338.22,356.35 C336.67,355.43 334.49,354.03 333.35,353.3 C332.21,352.57 331.11,351.93 330.61,351.48 C330.11,351.02 329.77,350.99 330,350.26Z" fill="#f5f0e6" stroke="#e3dbd0" stroke-width="0.5"/>
<ellipse cx="358.43" cy="382.64" rx="4.26" ry="1.58" fill="#efb1ab"/>
<path d="M373.52,373.39 C374.54,372.68 377.58,371.87 380.83,371.57 C384.07,371.26 388.94,371.26 393,371.57 C397.06,371.87 401.52,373.7 405.17,373.39 C408.83,373.09 412.28,370.75 414.91,369.74 C417.55,368.72 420.59,366.7 421,367.3 C421.41,367.91 418.77,371.97 417.35,373.39 C415.93,374.81 414.1,375.22 412.48,375.83 C410.86,376.43 409.84,376.72 407.61,377.04 C405.38,377.37 402.54,377.77 399.09,377.77 C395.64,377.77 390.97,377.37 386.91,377.04 C382.86,376.72 376.97,376.43 374.74,375.83 C372.51,375.22 372.51,374.1 373.52,373.39Z" fill="#ebe4da"/>
<path d="M371.7,356.96 C372.1,356.55 373.83,356.65 374.74,357.57 C375.65,358.48 376.67,360.61 377.17,362.43 C377.68,364.26 377.99,367.71 377.78,368.52 C377.58,369.33 376.57,368.22 375.96,367.3 C375.35,366.39 374.74,364.26 374.13,363.04 C373.52,361.83 372.71,361.01 372.3,360 C371.9,358.99 371.29,357.36 371.7,356.96Z" fill="#cfc9c6"/>
<path d="M378.39,365.48 C378.59,364.36 379.61,361.62 380.83,360 C382.04,358.38 384.07,356.96 385.7,355.74 C387.32,354.52 389.55,352.9 390.57,352.7 C391.58,352.49 392.39,353.71 391.78,354.52 C391.17,355.33 388.43,356.35 386.91,357.57 C385.39,358.78 383.87,360.3 382.65,361.83 C381.43,363.35 380.32,366.09 379.61,366.7 C378.9,367.3 378.19,366.59 378.39,365.48Z" fill="#d9d3cf"/>
<path d="M398.48,349.65 C398.58,349.04 400.61,349.96 401.52,350.87 C402.43,351.78 403.4,353.2 403.96,355.13 C404.51,357.06 404.67,360 404.87,362.43 C405.07,364.87 405.53,368.93 405.17,369.74 C404.82,370.55 403.25,368.93 402.74,367.3 C402.23,365.68 402.43,362.13 402.13,360 C401.83,357.87 401.52,356.25 400.91,354.52 C400.3,352.8 398.38,350.26 398.48,349.65Z" fill="#cfc9c6"/>
<path d="M330,350.26 C330.14,349.85 331.26,347.89 332.13,346.61 C333,345.33 334.5,343.2 335.78,341.74 C337.06,340.28 339.19,338.15 340.65,336.87 C342.11,335.59 344.24,334.22 345.52,333.22 C346.8,332.21 348.44,331.09 349.17,330.17 C349.9,329.26 349.75,327.91 350.39,327.13 C351.03,326.35 352.52,325.32 353.43,325 C354.35,324.68 355.66,324.73 356.48,325 C357.3,325.27 358,326.6 358.91,326.83 C359.83,327.05 361.7,326.25 362.57,326.52 C363.43,326.8 364.26,327.78 364.7,328.65 C365.13,329.52 364.71,331.48 365.49,332.3 C366.26,333.13 368.48,333.9 369.87,334.13 C371.26,334.36 373.1,334.15 374.74,333.83 C376.38,333.51 379,332.32 380.83,332 C382.65,331.68 385.09,331.6 386.91,331.7 C388.74,331.79 391.17,332.15 393,332.61 C394.83,333.07 397.26,333.92 399.09,334.74 C400.91,335.56 403.35,336.85 405.17,338.09 C407,339.32 409.62,341.4 411.26,342.96 C412.9,344.51 414.85,346.88 416.13,348.43 C417.41,349.99 418.87,352.03 419.78,353.3 C420.7,354.58 421.3,355.95 422.22,356.96 C423.13,357.96 425,359.18 425.87,360 C426.74,360.82 427.68,362.07 428,362.43 C428.32,362.8 428.32,362.62 428,362.43 C427.68,362.25 426.74,361.77 425.87,361.22 C425,360.67 423.31,359.42 422.22,358.78 C421.12,358.14 419.57,357.23 418.57,356.96 C417.56,356.68 416.53,356.59 415.52,356.96 C414.52,357.32 412.87,358.48 411.87,359.39 C410.87,360.3 409.65,361.95 408.83,363.04 C408,364.14 406.98,365.65 406.39,366.7 C405.81,367.75 405.2,370.32 404.93,370.04 C404.66,369.77 404.67,366.38 404.57,364.87 C404.46,363.36 404.44,361.55 404.26,360 C404.08,358.45 403.76,355.89 403.35,354.52 C402.94,353.15 402.25,351.69 401.52,350.87 C400.79,350.05 399.48,349.23 398.48,349.04 C397.47,348.86 396.01,349.29 394.83,349.65 C393.64,350.02 391.75,350.84 390.57,351.48 C389.38,352.12 388.01,353.09 386.91,353.91 C385.82,354.73 384.27,355.95 383.26,356.96 C382.26,357.96 380.95,359.42 380.22,360.61 C379.49,361.8 378.85,363.66 378.39,364.87 C377.93,366.07 377.49,368.83 377.17,368.64 C376.85,368.46 376.63,365.04 376.26,363.65 C375.9,362.26 375.24,360.4 374.74,359.39 C374.24,358.39 373.64,357.5 372.91,356.96 C372.18,356.41 370.87,355.92 369.87,355.74 C368.87,355.56 367.31,355.47 366.22,355.74 C365.12,356.01 363.57,356.88 362.57,357.57 C361.56,358.25 360.25,360.03 359.52,360.3 C358.79,360.58 358.52,359.98 357.7,359.39 C356.87,358.8 355.14,357.26 354.04,356.35 C352.95,355.43 351.4,354.03 350.39,353.3 C349.39,352.57 348.26,351.84 347.35,351.48 C346.43,351.11 345.22,350.87 344.3,350.87 C343.39,350.87 342.17,351.66 341.26,351.48 C340.35,351.3 339.04,350.11 338.22,349.65 C337.4,349.2 336.6,348.66 335.78,348.43 C334.96,348.21 333.42,347.99 332.74,348.13 C332.05,348.27 331.63,349.03 331.22,349.35 C330.81,349.67 329.86,350.67 330,350.26Z" fill="#978c85"/>
<path d="M364.7,335.04 C365.1,334.64 367.18,337.38 368.04,339.3 C368.91,341.23 369.26,344.38 369.87,346.61 C370.48,348.84 370.88,350.87 371.7,352.7 C372.51,354.52 373.93,355.74 374.74,357.57 C375.55,359.39 376.16,361.83 376.57,363.65 C376.97,365.48 377.48,368.93 377.17,368.52 C376.87,368.12 375.55,363.04 374.74,361.22 C373.93,359.39 373.32,358.28 372.3,357.57 C371.29,356.86 369.67,357.16 368.65,356.96 C367.64,356.75 366.52,357.67 366.22,356.35 C365.91,355.03 366.93,351.48 366.83,349.04 C366.72,346.61 365.96,344.07 365.61,341.74 C365.25,339.41 364.29,335.45 364.7,335.04Z" fill="#857a72"/>
<path d="M380.22,360.61 C380.62,360.61 382.14,358.07 383.26,356.96 C384.38,355.84 385.7,354.83 386.91,353.91 C388.13,353 389.25,352.19 390.57,351.48 C391.88,350.77 393.51,350.06 394.83,349.65 C396.14,349.25 397.36,348.84 398.48,349.04 C399.59,349.25 400.71,349.96 401.52,350.87 C402.33,351.78 402.89,353 403.35,354.52 C403.8,356.04 404,357.41 404.26,360 C404.52,362.59 404.58,368.93 404.93,370.04 C405.29,371.16 405.74,367.86 406.39,366.7 C407.04,365.53 407.91,364.26 408.83,363.04 C409.74,361.83 410.75,360.41 411.87,359.39 C412.99,358.38 414.41,357.36 415.52,356.96 C416.64,356.55 417.45,356.65 418.57,356.96 C419.68,357.26 420.64,357.87 422.22,358.78 C423.79,359.7 427.9,362.64 428,362.43 C428.1,362.23 424.2,358.88 422.83,357.57 C421.46,356.25 420.9,355.13 419.78,354.52 C418.67,353.91 417.55,353.61 416.13,353.91 C414.71,354.22 412.68,355.33 411.26,356.35 C409.84,357.36 408.42,359.8 407.61,360 C406.8,360.2 406.8,358.99 406.39,357.57 C405.99,356.14 405.88,353.1 405.17,351.48 C404.46,349.86 403.25,348.64 402.13,347.83 C401.01,347.01 399.8,346.71 398.48,346.61 C397.16,346.51 395.74,346.81 394.22,347.22 C392.7,347.62 390.97,348.13 389.35,349.04 C387.72,349.96 385.9,351.38 384.48,352.7 C383.06,354.01 381.54,355.64 380.83,356.96 C380.12,358.28 379.81,360.61 380.22,360.61Z" fill="#82776f"/>
<path d="M331.22,349.35 C330.91,349.55 331.98,348.28 332.74,348.13 C333.5,347.98 334.87,348.18 335.78,348.43 C336.7,348.69 337.3,349.14 338.22,349.65 C339.13,350.16 340.25,351.28 341.26,351.48 C342.28,351.68 343.29,350.87 344.3,350.87 C345.32,350.87 346.33,351.07 347.35,351.48 C348.36,351.88 349.28,352.49 350.39,353.3 C351.51,354.12 352.83,355.33 354.04,356.35 C355.26,357.36 356.78,358.73 357.7,359.39 C358.61,360.05 358.71,360.61 359.52,360.3 C360.33,360 362.26,358.33 362.57,357.57 C362.87,356.8 362.16,355.84 361.35,355.74 C360.54,355.64 358.91,357.26 357.7,356.96 C356.48,356.65 355.26,354.88 354.04,353.91 C352.83,352.95 351.61,351.88 350.39,351.17 C349.17,350.46 347.96,350.01 346.74,349.65 C345.52,349.3 344.51,349.35 343.09,349.04 C341.67,348.74 339.64,348.18 338.22,347.83 C336.8,347.47 335.73,346.66 334.57,346.91 C333.4,347.17 331.52,349.14 331.22,349.35Z" fill="#857a72"/>
<path d="M331.22,348.13 C331.37,347.88 331.37,347.67 332.13,346.61 C332.89,345.54 334.36,343.36 335.78,341.74 C337.2,340.12 339.03,338.29 340.65,336.87 C342.28,335.45 344.1,334.33 345.52,333.22 C346.94,332.1 348.57,330.68 349.17,330.17" fill="none" stroke="#5b524d" stroke-width="0.8" stroke-linecap="round"/>
<path d="M365.49,332.61 C366.22,332.86 368.33,333.93 369.87,334.13 C371.41,334.33 372.91,334.18 374.74,333.83 C376.57,333.47 378.8,332.36 380.83,332 C382.86,331.64 384.88,331.59 386.91,331.7 C388.94,331.8 390.97,332.1 393,332.61 C395.03,333.12 397.06,333.83 399.09,334.74 C401.12,335.65 403.14,336.72 405.17,338.09 C407.2,339.46 409.43,341.23 411.26,342.96 C413.09,344.68 414.71,346.71 416.13,348.43 C417.55,350.16 418.77,351.88 419.78,353.3 C420.8,354.72 421.2,355.84 422.22,356.96 C423.23,358.07 424.91,359.09 425.87,360 C426.83,360.91 427.64,362.03 428,362.43" fill="none" stroke="#554c47" stroke-width="1" stroke-linecap="round"/>
<path d="M349.17,330.17 C348.97,329.57 349.68,327.99 350.39,327.13 C351.1,326.27 352.42,325.36 353.43,325 C354.45,324.64 355.67,324.75 356.48,325 C357.29,325.25 358.3,325.81 358.3,326.52 C358.3,327.23 357.09,328.3 356.48,329.26 C355.87,330.22 355.46,332.05 354.65,332.3 C353.84,332.56 352.52,331.14 351.61,330.78 C350.7,330.43 349.38,330.78 349.17,330.17Z" fill="#8a807b"/>
<path d="M354.65,333.83 C354.45,333.01 355.67,330.73 356.48,329.57 C357.29,328.4 358.51,327.33 359.52,326.83 C360.54,326.32 361.7,326.22 362.57,326.52 C363.43,326.83 364.24,327.84 364.7,328.65 C365.15,329.46 365.36,330.33 365.3,331.39 C365.25,332.46 364.85,333.72 364.39,335.04 C363.93,336.36 363.07,338.7 362.57,339.3 C362.06,339.91 361.75,339.2 361.35,338.7 C360.94,338.19 360.74,336.97 360.13,336.26 C359.52,335.55 358.61,334.84 357.7,334.43 C356.78,334.03 354.86,334.64 354.65,333.83Z" fill="#e9b4b0" stroke="#d79c9b" stroke-width="0.4"/>
<path d="M358.91,333.22 C358.81,332.3 360.08,330.78 360.74,330.17 C361.4,329.57 362.41,329.16 362.87,329.57 C363.33,329.97 363.53,331.49 363.48,332.61 C363.43,333.72 362.92,335.75 362.57,336.26 C362.21,336.77 361.96,336.16 361.35,335.65 C360.74,335.14 359.01,334.13 358.91,333.22Z" fill="#f0c6c1"/>
<ellipse cx="345.83" cy="339.61" rx="3.53" ry="3.17" fill="#6d635d"/>
<ellipse cx="345.83" cy="339.61" rx="3.04" ry="2.68" fill="#1c1815"/>
<ellipse cx="331.1" cy="350.57" rx="1.1" ry="1.46" fill="#e9a9a9"/>
<polygon points="439,351 468.2,350 468.2,352.2" fill="#111"/>
<polygon points="466.7,345.8 477.2,351.1 466.7,356.5" fill="#111"/>
<polygon points="666.5,351 696.2,350 696.2,352.2" fill="#111"/>
<polygon points="694.7,345.8 705.2,351.1 694.7,356.5" fill="#111"/>
<path d="M522.27,340.82 C522.91,339.99 525.31,339.99 525.86,340.82 C526.41,341.65 525.68,343.94 525.56,345.78 C525.43,347.63 525.14,349.6 525.1,351.89 C525.06,354.18 525.45,357.68 525.33,359.53 C525.2,361.37 524.73,362.96 524.33,362.96 C523.94,362.96 523.32,361.37 522.96,359.53 C522.6,357.68 522.35,354.18 522.2,351.89 C522.04,349.6 522.03,347.63 522.04,345.78 C522.06,343.94 521.64,341.65 522.27,340.82Z" fill="#c07a93"/>
<path d="M512.73,316.38 C513.75,316.38 514.89,316.7 515.78,317.53 C516.67,318.35 517.31,319.82 518.07,321.35 C518.84,322.87 519.6,324.78 520.36,326.69 C521.13,328.6 522.12,330.89 522.65,332.8 C523.19,334.71 523.47,336.62 523.57,338.15 C523.67,339.67 523.48,340.69 523.27,341.96 C523.05,343.24 522.48,344.13 522.27,345.78 C522.07,347.44 522.04,349.85 522.04,351.89 C522.04,353.93 522.3,355.96 522.27,358 C522.25,360.04 522.21,362.33 521.89,364.11 C521.57,365.89 521.13,367.74 520.36,368.69 C519.6,369.65 518.71,369.9 517.31,369.84 C515.91,369.77 513.87,369.14 511.96,368.31 C510.05,367.48 507.76,366.34 505.85,364.87 C503.95,363.41 501.97,361.44 500.51,359.53 C499.05,357.62 497.86,355.45 497.07,353.42 C496.28,351.38 496.16,348.58 495.77,347.31 C495.39,346.04 494.86,346.67 494.78,345.78 C494.71,344.89 494.87,343.49 495.32,341.96 C495.76,340.44 496.59,338.4 497.45,336.62 C498.32,334.84 499.43,332.99 500.51,331.27 C501.59,329.55 503.05,327.45 503.95,326.31 C504.84,325.16 505.28,325.35 505.85,324.4 C506.43,323.45 506.75,321.73 507.38,320.58 C508.02,319.44 508.78,318.23 509.67,317.53 C510.56,316.83 511.71,316.38 512.73,316.38Z" fill="#d495a4" stroke="#c47d94" stroke-width="0.9"/>
<path d="M540.22,316.76 C541.11,316.7 541.62,317.27 542.51,318.29 C543.4,319.31 544.55,321.47 545.56,322.87 C546.58,324.27 547.98,325.29 548.62,326.69 C549.25,328.09 549.45,329.87 549.38,331.27 C549.32,332.67 547.85,334.2 548.24,335.09 C548.62,335.98 550.87,335.85 551.67,336.62 C552.47,337.38 552.98,338.53 553.05,339.67 C553.11,340.82 552.18,342.35 552.05,343.49 C551.93,344.64 552.28,345.15 552.28,346.55 C552.28,347.95 552.41,349.98 552.05,351.89 C551.7,353.8 550.97,356.22 550.15,358 C549.32,359.78 548.36,361.18 547.09,362.58 C545.82,363.98 544.29,365.45 542.51,366.4 C540.73,367.35 538.18,367.67 536.4,368.31 C534.62,368.95 533.09,369.84 531.82,370.22 C530.55,370.6 529.53,371.11 528.76,370.6 C528,370.09 527.81,368.5 527.24,367.16 C526.66,365.83 525.71,364.11 525.33,362.58 C524.95,361.05 525.14,359.78 524.95,358 C524.75,356.22 524.25,353.93 524.18,351.89 C524.12,349.85 524.31,347.82 524.56,345.78 C524.82,343.75 525.2,341.96 525.71,339.67 C526.22,337.38 526.98,334.45 527.62,332.04 C528.25,329.62 528.57,326.95 529.53,325.16 C530.48,323.38 532.07,322.43 533.35,321.35 C534.62,320.26 536.02,319.44 537.16,318.67 C538.31,317.91 539.33,316.83 540.22,316.76Z" fill="#d495a4" stroke="#c47d94" stroke-width="0.9"/>
<path d="M501.65,331.27 C502,332.16 502.63,335.22 503.72,336.62 C504.8,338.02 506.52,339.16 508.15,339.67 C509.77,340.18 512.09,340.18 513.49,339.67 C514.89,339.16 516.04,337.13 516.55,336.62" fill="none" stroke="#c27c92" stroke-width="0.8"/>
<path d="M495.01,346.16 C495.93,346.1 498.45,345.91 500.51,345.78 C502.57,345.65 504.96,345.65 507.38,345.4 C509.8,345.15 512.41,344.83 515.02,344.25 C517.63,343.68 521.7,342.35 523.04,341.96" fill="none" stroke="#c27c92" stroke-width="0.9"/>
<path d="M526.09,344.64 C526.92,344.7 529.34,345.34 531.05,345.02 C532.77,344.7 534.49,343.75 536.4,342.73 C538.31,341.71 540.54,340.18 542.51,338.91 C544.48,337.64 547.28,335.73 548.24,335.09" fill="none" stroke="#c27c92" stroke-width="0.9"/>
<path d="M537.93,343.49 C538.44,344 539.45,345.97 540.98,346.55 C542.51,347.12 545.25,347.12 547.09,346.93 C548.94,346.74 551.23,345.65 552.05,345.4" fill="none" stroke="#c27c92" stroke-width="0.8"/>
<path d="M586.59,338.08 C586.61,336.99 586.52,335.58 586.97,334.23 C587.42,332.88 588.13,331.17 589.28,329.99 C590.44,328.81 592.11,327.82 593.9,327.14 C595.7,326.46 598.01,326.11 600.07,325.91 C602.12,325.7 604.3,325.61 606.23,325.91 C608.16,326.2 609.82,326.68 611.62,327.68 C613.42,328.68 615.35,330.18 617.01,331.92 C618.68,333.65 620.29,335.9 621.64,338.08 C622.99,340.26 624.18,342.7 625.1,345.01 C626.03,347.32 626.73,349.76 627.18,351.95 C627.63,354.13 627.83,356.18 627.8,358.11 C627.77,360.04 627.54,361.83 627.03,363.5 C626.52,365.17 625.75,366.84 624.72,368.12 C623.69,369.41 622.15,370.63 620.87,371.21 C619.58,371.78 618.17,371.85 617.01,371.59 C615.86,371.33 614.9,370.63 613.93,369.67 C612.97,368.7 612.07,367.23 611.24,365.81 C610.4,364.4 609.82,362.67 608.93,361.19 C608.03,359.71 607.06,358.24 605.84,356.95 C604.62,355.67 603.21,354.51 601.61,353.49 C600,352.46 597.95,351.69 596.21,350.79 C594.48,349.89 592.56,349.19 591.21,348.09 C589.86,347 588.86,345.46 588.13,344.24 C587.39,343.02 587.07,341.8 586.82,340.78 C586.56,339.75 586.56,339.17 586.59,338.08Z" fill="#893338" stroke="#7a2a30" stroke-width="0.7"/>
<path d="M587.89,337.69 C587.77,335.92 587.96,334.29 588.9,332.84 C589.83,331.39 591.59,329.89 593.52,328.99 C595.44,328.09 598.2,327.6 600.45,327.45 C602.7,327.29 604.95,327.32 607,328.07 C609.05,328.81 611.04,330.31 612.78,331.92 C614.51,333.52 616.12,335.51 617.4,337.69 C618.68,339.88 619.8,342.64 620.48,345.01 C621.16,347.39 621.44,350.02 621.48,351.95 C621.52,353.87 621.17,355.26 620.71,356.57 C620.25,357.88 619.56,359.06 618.71,359.8 C617.86,360.55 616.66,361.14 615.63,361.04 C614.6,360.93 613.57,360.11 612.55,359.19 C611.52,358.26 610.75,356.72 609.47,355.49 C608.18,354.26 606.51,352.82 604.84,351.79 C603.17,350.77 601.3,350.1 599.45,349.33 C597.6,348.56 595.38,348.15 593.75,347.17 C592.12,346.19 590.64,345.05 589.67,343.47 C588.69,341.89 588.02,339.47 587.89,337.69Z" fill="#91454a"/>
<path d="M594.06,331.76 C594.67,331.63 596.43,331.03 597.76,330.99 C599.08,330.95 601.29,331.44 601.99,331.53" fill="none" stroke="#bd6a70" stroke-width="0.9" stroke-linecap="round"/>
<circle cx="606.38" cy="333.07" r="0.7" fill="#b05d63"/>
<text x="523.3" y="393.6" font-size="20" text-anchor="middle" stroke="#000" stroke-width="0.3">Lung</text>
<text x="613.3" y="393.6" font-size="20" text-anchor="middle" stroke="#000" stroke-width="0.3">Speen</text>
<polygon points="776.41,317.24 807.35,321.46 807.35,389.25 791.55,397.15 776.41,395.84" fill="#d1d1d1" stroke="#bdbdbd" stroke-width="0.5" />
<polygon points="772.46,318.16 777.07,317.24 779.7,318.16 779.7,357.66 772.46,358.98" fill="#ebebeb" stroke="#cfcfcf" stroke-width="0.5" />
<polygon points="720.46,322.77 723.09,320.53 772.46,317.9 774.43,319.48 774.43,355.68 720.46,355.68" fill="#f5f5f5" stroke="#c9c9c9" stroke-width="0.5" />
<polygon points="724.41,324.75 771.14,321.85 771.14,352.39 724.41,353.05" fill="#f1f1f1" stroke="#dedede" stroke-width="0.5" />
<polygon points="725.72,321.46 771.14,318.16 771.14,320.4 726.38,323.56" fill="#4f78b8" />
<polygon points="742.18,344.23 750.08,344.23 750.08,347.39 742.18,347.39" fill="#16267f" />
<polygon points="720.06,353.45 789.57,354.37 789.57,361.61 720.06,358.98" fill="#ececec" stroke="#c8c8c8" stroke-width="0.5" />
<polygon points="720.06,353.45 734.94,353.71 734.28,359.24 720.06,358.71" fill="#3f6bb0" />
<polygon points="721.77,354.76 732.31,355.03 732.04,357.92 721.77,357.66" fill="#24408f" />
<polygon points="778.38,353.97 789.57,354.5 789.57,361.87 778.38,362.4" fill="#c4c4c4" stroke="#b0b0b0" stroke-width="0.5" />
<polygon points="720.46,358.98 757.32,362.27 757.32,395.84 720.46,389.25" fill="#f6f6f6" stroke="#c9c9c9" stroke-width="0.5" />
<polygon points="724.41,361.87 755.34,364.51 755.34,378.72 724.41,374.77" fill="#f3f3f3" stroke="#cfcfcf" stroke-width="0.5" />
<polygon points="724.41,376.09 755.34,380.04 755.34,394.52 724.41,389.91" fill="#f3f3f3" stroke="#cfcfcf" stroke-width="0.5" />
<polygon points="735.6,370.82 742.84,371.48 742.84,374.12 735.6,373.46" fill="#16267f" />
<polygon points="735.6,385.57 742.84,386.62 742.84,389.25 735.6,388.2" fill="#16267f" />
<circle cx="738.63" cy="364.64" r="1.2" fill="#222"/>
<circle cx="738.63" cy="379.78" r="1.2" fill="#222"/>
<polygon points="792.21,370.17 807.35,366.87 807.35,389.25 792.21,395.84" fill="#d9d9d9" stroke="#bdbdbd" stroke-width="0.5" />
<polygon points="794.58,372.14 801.42,370.56 801.42,385.31 794.58,388.2" fill="#b4b4b4" />
<polygon points="759.29,364.24 790.23,368.85 790.23,395.84 777.73,400.05 759.29,395.84" fill="#80858d" stroke="#55595f" stroke-width="0.8" />
<polygon points="761.27,366.87 788.26,370.82 788.26,394.52 777.07,397.81 761.27,394.26" fill="#979da7" />
<polygon points="761.27,389.25 788.26,389.91 788.26,394.52 777.07,397.81 761.27,394.26" fill="#74787f" />
<polygon points="761.27,378.72 788.26,378.72 788.26,384.65 761.27,384.65" fill="#b9bdc5" />
<polygon points="770.48,366.87 774.04,367.53 774.04,390.57 770.48,390.31" fill="#b9bdc5" />
<polygon points="759.29,362.93 782.99,364.9 782.99,366.87 759.29,365.56" fill="#3c3f46" />
<polygon points="771.14,366.22 777.07,366.61 777.07,372.14 771.14,371.88" fill="#2e3138" />
<polygon points="759.29,394.52 777.73,398.73 790.23,394.78 790.23,396.1 777.73,400.44 759.29,396.1" fill="#33363c" />
</g>
<g id="panel_bcd">
<text x="891.7" y="25.5" font-size="32" font-weight="bold" fill="#1a1311">b</text>
<text x="1130" y="53.6" font-size="28.3" text-anchor="middle" stroke="#000" stroke-width="0.3">Non-treat (SARS2)</text>
<line x1="989.5" y1="214.6" x2="1274.1" y2="214.6" stroke="#9c9c9c" stroke-width="3.3" stroke-dasharray="0.01 4.72" stroke-linecap="round"/>
<line x1="989.5" y1="256.8" x2="1274.1" y2="256.8" stroke="#000" stroke-width="3.3" stroke-dasharray="0.01 4.72" stroke-linecap="round"/>
<rect x="1038.15" y="239.44" width="3.4" height="3.4" fill="#fbe9c8" stroke="#e9a43c" stroke-width="1.25"/>
<rect x="1056.65" y="240.2" width="3.4" height="3.4" fill="#fbe9c8" stroke="#e9a43c" stroke-width="1.25"/>
<rect x="1075.15" y="234.13" width="3.4" height="3.4" fill="#fbe9c8" stroke="#e9a43c" stroke-width="1.25"/>
<rect x="1075.15" y="240.66" width="3.4" height="3.4" fill="#fbe9c8" stroke="#e9a43c" stroke-width="1.25"/>
<rect x="1093.65" y="224.25" width="3.4" height="3.4" fill="#fbe9c8" stroke="#e9a43c" stroke-width="1.25"/>
<rect x="1093.65" y="231.09" width="3.4" height="3.4" fill="#fbe9c8" stroke="#e9a43c" stroke-width="1.25"/>
<rect x="1093.65" y="243.7" width="3.4" height="3.4" fill="#fbe9c8" stroke="#e9a43c" stroke-width="1.25"/>
<rect x="1112.15" y="226.53" width="3.4" height="3.4" fill="#fbe9c8" stroke="#e9a43c" stroke-width="1.25"/>
<rect x="1112.15" y="243.24" width="3.4" height="3.4" fill="#fbe9c8" stroke="#e9a43c" stroke-width="1.25"/>
<rect x="1112.15" y="244.76" width="3.4" height="3.4" fill="#fbe9c8" stroke="#e9a43c" stroke-width="1.25"/>
<rect x="1130.65" y="245.52" width="3.4" height="3.4" fill="#fbe9c8" stroke="#e9a43c" stroke-width="1.25"/>
<rect x="1130.65" y="248.56" width="3.4" height="3.4" fill="#fbe9c8" stroke="#e9a43c" stroke-width="1.25"/>
<rect x="1149.15" y="222.73" width="3.4" height="3.4" fill="#fbe9c8" stroke="#e9a43c" stroke-width="1.25"/>
<rect x="1149.15" y="245.06" width="3.4" height="3.4" fill="#fbe9c8" stroke="#e9a43c" stroke-width="1.25"/>
<rect x="1149.15" y="250.08" width="3.4" height="3.4" fill="#fbe9c8" stroke="#e9a43c" stroke-width="1.25"/>
<rect x="1167.65" y="222.73" width="3.4" height="3.4" fill="#fbe9c8" stroke="#e9a43c" stroke-width="1.25"/>
<rect x="1167.65" y="244.76" width="3.4" height="3.4" fill="#fbe9c8" stroke="#e9a43c" stroke-width="1.25"/>
<rect x="1167.65" y="247.8" width="3.4" height="3.4" fill="#fbe9c8" stroke="#e9a43c" stroke-width="1.25"/>
<rect x="1186.15" y="219.7" width="3.4" height="3.4" fill="#fbe9c8" stroke="#e9a43c" stroke-width="1.25"/>
<rect x="1186.15" y="240.2" width="3.4" height="3.4" fill="#fbe9c8" stroke="#e9a43c" stroke-width="1.25"/>
<rect x="1186.15" y="242.03" width="3.4" height="3.4" fill="#fbe9c8" stroke="#e9a43c" stroke-width="1.25"/>
<rect x="1204.65" y="222.73" width="3.4" height="3.4" fill="#fbe9c8" stroke="#e9a43c" stroke-width="1.25"/>
<rect x="1204.65" y="235.65" width="3.4" height="3.4" fill="#fbe9c8" stroke="#e9a43c" stroke-width="1.25"/>
<rect x="1204.65" y="242.03" width="3.4" height="3.4" fill="#fbe9c8" stroke="#e9a43c" stroke-width="1.25"/>
<rect x="1223.15" y="225.01" width="3.4" height="3.4" fill="#fbe9c8" stroke="#e9a43c" stroke-width="1.25"/>
<rect x="1223.15" y="227.29" width="3.4" height="3.4" fill="#fbe9c8" stroke="#e9a43c" stroke-width="1.25"/>
<rect x="1223.15" y="236.41" width="3.4" height="3.4" fill="#fbe9c8" stroke="#e9a43c" stroke-width="1.25"/>
<rect x="1241.65" y="223.49" width="3.4" height="3.4" fill="#fbe9c8" stroke="#e9a43c" stroke-width="1.25"/>
<rect x="1241.65" y="225.77" width="3.4" height="3.4" fill="#fbe9c8" stroke="#e9a43c" stroke-width="1.25"/>
<rect x="1241.65" y="236.1" width="3.4" height="3.4" fill="#fbe9c8" stroke="#e9a43c" stroke-width="1.25"/>
<rect x="1260.15" y="222.73" width="3.4" height="3.4" fill="#fbe9c8" stroke="#e9a43c" stroke-width="1.25"/>
<rect x="1260.15" y="224.25" width="3.4" height="3.4" fill="#fbe9c8" stroke="#e9a43c" stroke-width="1.25"/>
<rect x="1260.15" y="236.41" width="3.4" height="3.4" fill="#fbe9c8" stroke="#e9a43c" stroke-width="1.25"/>
<rect x="1269.4" y="222.73" width="3.4" height="3.4" fill="#fbe9c8" stroke="#e9a43c" stroke-width="1.25"/>
<rect x="1269.4" y="224.25" width="3.4" height="3.4" fill="#fbe9c8" stroke="#e9a43c" stroke-width="1.25"/>
<rect x="1269.4" y="236.1" width="3.4" height="3.4" fill="#fbe9c8" stroke="#e9a43c" stroke-width="1.25"/>
<path d="M993.6,214.56 L1002.85,219.88 L1021.35,229.75 L1039.85,235.07 L1058.35,237.04 L1076.85,237.35 L1095.35,237.04 L1113.85,236.59 L1132.35,238.87 L1150.85,238.41 L1169.35,236.59 L1187.85,234 L1206.35,233.55 L1224.85,230.51 L1243.35,229.75 L1261.85,228.99 L1271.1,228.23" fill="none" stroke="#e9a43c" stroke-width="1.9" stroke-linejoin="round"/>
<circle cx="993.6" cy="214.56" r="2.35" fill="#1d1b66"/>
<circle cx="1002.85" cy="212.59" r="2.35" fill="#1d1b66"/>
<circle cx="1002.85" cy="214.24" r="2.35" fill="#1d1b66"/>
<circle cx="1002.85" cy="215.58" r="2.35" fill="#1d1b66"/>
<circle cx="1002.85" cy="217.83" r="2.35" fill="#1d1b66"/>
<circle cx="1002.85" cy="219.02" r="2.35" fill="#1d1b66"/>
<circle cx="1002.85" cy="221.06" r="2.35" fill="#1d1b66"/>
<circle cx="1002.85" cy="222.79" r="2.35" fill="#1d1b66"/>
<circle cx="1002.85" cy="224.43" r="2.35" fill="#1d1b66"/>
<circle cx="1021.35" cy="215.62" r="2.35" fill="#1d1b66"/>
<circle cx="1021.35" cy="217.61" r="2.35" fill="#1d1b66"/>
<circle cx="1021.35" cy="218.74" r="2.35" fill="#1d1b66"/>
<circle cx="1021.35" cy="220.6" r="2.35" fill="#1d1b66"/>
<circle cx="1021.35" cy="221.79" r="2.35" fill="#1d1b66"/>
<circle cx="1021.35" cy="223.02" r="2.35" fill="#1d1b66"/>
<circle cx="1021.35" cy="224.85" r="2.35" fill="#1d1b66"/>
<circle cx="1021.35" cy="227.42" r="2.35" fill="#1d1b66"/>
<circle cx="1021.35" cy="228.71" r="2.35" fill="#1d1b66"/>
<circle cx="1021.35" cy="230.18" r="2.35" fill="#1d1b66"/>
<circle cx="1021.35" cy="232.39" r="2.35" fill="#1d1b66"/>
<circle cx="1021.35" cy="233.24" r="2.35" fill="#1d1b66"/>
<circle cx="1021.35" cy="237.35" r="2.35" fill="#1d1b66"/>
<circle cx="1039.85" cy="218.36" r="2.35" fill="#1d1b66"/>
<circle cx="1039.85" cy="220.47" r="2.35" fill="#1d1b66"/>
<circle cx="1039.85" cy="222.26" r="2.35" fill="#1d1b66"/>
<circle cx="1039.85" cy="225.1" r="2.35" fill="#1d1b66"/>
<circle cx="1039.85" cy="226.25" r="2.35" fill="#1d1b66"/>
<circle cx="1039.85" cy="228.88" r="2.35" fill="#1d1b66"/>
<circle cx="1039.85" cy="230.47" r="2.35" fill="#1d1b66"/>
<circle cx="1039.85" cy="231.8" r="2.35" fill="#1d1b66"/>
<circle cx="1039.85" cy="233.07" r="2.35" fill="#1d1b66"/>
<circle cx="1039.85" cy="235.07" r="2.35" fill="#1d1b66"/>
<circle cx="1039.85" cy="240.38" r="2.35" fill="#1d1b66"/>
<circle cx="1039.85" cy="248.74" r="2.35" fill="#1d1b66"/>
<circle cx="1058.35" cy="219.12" r="2.35" fill="#1d1b66"/>
<circle cx="1058.35" cy="221.67" r="2.35" fill="#1d1b66"/>
<circle cx="1058.35" cy="223.06" r="2.35" fill="#1d1b66"/>
<circle cx="1058.35" cy="225.18" r="2.35" fill="#1d1b66"/>
<circle cx="1058.35" cy="227.41" r="2.35" fill="#1d1b66"/>
<circle cx="1058.35" cy="229.15" r="2.35" fill="#1d1b66"/>
<circle cx="1058.35" cy="231.22" r="2.35" fill="#1d1b66"/>
<circle cx="1058.35" cy="232.39" r="2.35" fill="#1d1b66"/>
<circle cx="1058.35" cy="233.57" r="2.35" fill="#1d1b66"/>
<circle cx="1058.35" cy="235.01" r="2.35" fill="#1d1b66"/>
<circle cx="1058.35" cy="236.89" r="2.35" fill="#1d1b66"/>
<circle cx="1058.35" cy="251.32" r="2.35" fill="#1d1b66"/>
<circle cx="1076.85" cy="207.72" r="2.35" fill="#1d1b66"/>
<circle cx="1076.85" cy="212.28" r="2.35" fill="#1d1b66"/>
<circle cx="1076.85" cy="214.12" r="2.35" fill="#1d1b66"/>
<circle cx="1076.85" cy="215.76" r="2.35" fill="#1d1b66"/>
<circle cx="1076.85" cy="217.89" r="2.35" fill="#1d1b66"/>
<circle cx="1076.85" cy="219.78" r="2.35" fill="#1d1b66"/>
<circle cx="1076.85" cy="221.39" r="2.35" fill="#1d1b66"/>
<circle cx="1076.85" cy="223.9" r="2.35" fill="#1d1b66"/>
<circle cx="1076.85" cy="225.95" r="2.35" fill="#1d1b66"/>
<circle cx="1076.85" cy="232.03" r="2.35" fill="#1d1b66"/>
<circle cx="1076.85" cy="249.04" r="2.35" fill="#1d1b66"/>
<circle cx="1095.35" cy="201.95" r="2.35" fill="#1d1b66"/>
<circle cx="1095.35" cy="208.03" r="2.35" fill="#1d1b66"/>
<circle cx="1095.35" cy="212.28" r="2.35" fill="#1d1b66"/>
<circle cx="1095.35" cy="213.79" r="2.35" fill="#1d1b66"/>
<circle cx="1095.35" cy="215.9" r="2.35" fill="#1d1b66"/>
<circle cx="1095.35" cy="217.92" r="2.35" fill="#1d1b66"/>
<circle cx="1095.35" cy="220.58" r="2.35" fill="#1d1b66"/>
<circle cx="1095.35" cy="221.4" r="2.35" fill="#1d1b66"/>
<circle cx="1095.35" cy="228.99" r="2.35" fill="#1d1b66"/>
<circle cx="1095.35" cy="230.05" r="2.35" fill="#1d1b66"/>
<circle cx="1095.35" cy="242.66" r="2.35" fill="#1d1b66"/>
<circle cx="1113.85" cy="188.74" r="2.35" fill="#1d1b66"/>
<circle cx="1113.85" cy="194.36" r="2.35" fill="#1d1b66"/>
<circle cx="1113.85" cy="202.86" r="2.35" fill="#1d1b66"/>
<circle cx="1113.85" cy="204.45" r="2.35" fill="#1d1b66"/>
<circle cx="1113.85" cy="207.3" r="2.35" fill="#1d1b66"/>
<circle cx="1113.85" cy="208.58" r="2.35" fill="#1d1b66"/>
<circle cx="1113.85" cy="210.76" r="2.35" fill="#1d1b66"/>
<circle cx="1113.85" cy="221.4" r="2.35" fill="#1d1b66"/>
<circle cx="1113.85" cy="223.67" r="2.35" fill="#1d1b66"/>
<circle cx="1113.85" cy="233.24" r="2.35" fill="#1d1b66"/>
<circle cx="1113.85" cy="238.87" r="2.35" fill="#1d1b66"/>
<circle cx="1132.35" cy="180.84" r="2.35" fill="#1d1b66"/>
<circle cx="1132.35" cy="183.42" r="2.35" fill="#1d1b66"/>
<circle cx="1132.35" cy="200.89" r="2.35" fill="#1d1b66"/>
<circle cx="1132.35" cy="205.45" r="2.35" fill="#1d1b66"/>
<circle cx="1132.35" cy="207.89" r="2.35" fill="#1d1b66"/>
<circle cx="1132.35" cy="209.23" r="2.35" fill="#1d1b66"/>
<circle cx="1132.35" cy="210" r="2.35" fill="#1d1b66"/>
<circle cx="1132.35" cy="219.12" r="2.35" fill="#1d1b66"/>
<circle cx="1132.35" cy="220.25" r="2.35" fill="#1d1b66"/>
<circle cx="1132.35" cy="222.16" r="2.35" fill="#1d1b66"/>
<circle cx="1132.35" cy="228.23" r="2.35" fill="#1d1b66"/>
<circle cx="1132.35" cy="230.51" r="2.35" fill="#1d1b66"/>
<circle cx="1132.35" cy="236.28" r="2.35" fill="#1d1b66"/>
<circle cx="1150.85" cy="176.89" r="2.35" fill="#1d1b66"/>
<circle cx="1150.85" cy="182.51" r="2.35" fill="#1d1b66"/>
<circle cx="1150.85" cy="192.84" r="2.35" fill="#1d1b66"/>
<circle cx="1150.85" cy="206.21" r="2.35" fill="#1d1b66"/>
<circle cx="1150.85" cy="208.31" r="2.35" fill="#1d1b66"/>
<circle cx="1150.85" cy="209.24" r="2.35" fill="#1d1b66"/>
<circle cx="1150.85" cy="215.32" r="2.35" fill="#1d1b66"/>
<circle cx="1150.85" cy="216.96" r="2.35" fill="#1d1b66"/>
<circle cx="1150.85" cy="217.6" r="2.35" fill="#1d1b66"/>
<circle cx="1150.85" cy="228.99" r="2.35" fill="#1d1b66"/>
<circle cx="1150.85" cy="231.27" r="2.35" fill="#1d1b66"/>
<circle cx="1169.35" cy="169.14" r="2.35" fill="#1d1b66"/>
<circle cx="1169.35" cy="178.86" r="2.35" fill="#1d1b66"/>
<circle cx="1169.35" cy="182.36" r="2.35" fill="#1d1b66"/>
<circle cx="1169.35" cy="199.37" r="2.35" fill="#1d1b66"/>
<circle cx="1169.35" cy="206.21" r="2.35" fill="#1d1b66"/>
<circle cx="1169.35" cy="208.33" r="2.35" fill="#1d1b66"/>
<circle cx="1169.35" cy="210.22" r="2.35" fill="#1d1b66"/>
<circle cx="1169.35" cy="212.82" r="2.35" fill="#1d1b66"/>
<circle cx="1169.35" cy="213.8" r="2.35" fill="#1d1b66"/>
<circle cx="1169.35" cy="220.18" r="2.35" fill="#1d1b66"/>
<circle cx="1169.35" cy="226.71" r="2.35" fill="#1d1b66"/>
<circle cx="1169.35" cy="228.99" r="2.35" fill="#1d1b66"/>
<circle cx="1169.35" cy="232.03" r="2.35" fill="#1d1b66"/>
<circle cx="1187.85" cy="165.34" r="2.35" fill="#1d1b66"/>
<circle cx="1187.85" cy="172.48" r="2.35" fill="#1d1b66"/>
<circle cx="1187.85" cy="177.34" r="2.35" fill="#1d1b66"/>
<circle cx="1187.85" cy="194.36" r="2.35" fill="#1d1b66"/>
<circle cx="1187.85" cy="202.41" r="2.35" fill="#1d1b66"/>
<circle cx="1187.85" cy="204.34" r="2.35" fill="#1d1b66"/>
<circle cx="1187.85" cy="206.21" r="2.35" fill="#1d1b66"/>
<circle cx="1187.85" cy="210.76" r="2.35" fill="#1d1b66"/>
<circle cx="1187.85" cy="211.94" r="2.35" fill="#1d1b66"/>
<circle cx="1187.85" cy="214.28" r="2.35" fill="#1d1b66"/>
<circle cx="1187.85" cy="215.32" r="2.35" fill="#1d1b66"/>
<circle cx="1187.85" cy="224.43" r="2.35" fill="#1d1b66"/>
<circle cx="1187.85" cy="227.31" r="2.35" fill="#1d1b66"/>
<circle cx="1187.85" cy="228.99" r="2.35" fill="#1d1b66"/>
<circle cx="1206.35" cy="156.53" r="2.35" fill="#1d1b66"/>
<circle cx="1206.35" cy="162.15" r="2.35" fill="#1d1b66"/>
<circle cx="1206.35" cy="165.19" r="2.35" fill="#1d1b66"/>
<circle cx="1206.35" cy="191.01" r="2.35" fill="#1d1b66"/>
<circle cx="1206.35" cy="197.09" r="2.35" fill="#1d1b66"/>
<circle cx="1206.35" cy="198.67" r="2.35" fill="#1d1b66"/>
<circle cx="1206.35" cy="200.13" r="2.35" fill="#1d1b66"/>
<circle cx="1206.35" cy="203.93" r="2.35" fill="#1d1b66"/>
<circle cx="1206.35" cy="206.21" r="2.35" fill="#1d1b66"/>
<circle cx="1206.35" cy="207.31" r="2.35" fill="#1d1b66"/>
<circle cx="1206.35" cy="209.22" r="2.35" fill="#1d1b66"/>
<circle cx="1206.35" cy="210.59" r="2.35" fill="#1d1b66"/>
<circle cx="1206.35" cy="211.86" r="2.35" fill="#1d1b66"/>
<circle cx="1206.35" cy="213.04" r="2.35" fill="#1d1b66"/>
<circle cx="1206.35" cy="213.8" r="2.35" fill="#1d1b66"/>
<circle cx="1206.35" cy="219.88" r="2.35" fill="#1d1b66"/>
<circle cx="1206.35" cy="228.69" r="2.35" fill="#1d1b66"/>
<circle cx="1224.85" cy="150.76" r="2.35" fill="#1d1b66"/>
<circle cx="1224.85" cy="154.56" r="2.35" fill="#1d1b66"/>
<circle cx="1224.85" cy="162.15" r="2.35" fill="#1d1b66"/>
<circle cx="1224.85" cy="194.05" r="2.35" fill="#1d1b66"/>
<circle cx="1224.85" cy="195.35" r="2.35" fill="#1d1b66"/>
<circle cx="1224.85" cy="196.87" r="2.35" fill="#1d1b66"/>
<circle cx="1224.85" cy="197.85" r="2.35" fill="#1d1b66"/>
<circle cx="1224.85" cy="206.21" r="2.35" fill="#1d1b66"/>
<circle cx="1224.85" cy="211.52" r="2.35" fill="#1d1b66"/>
<circle cx="1224.85" cy="214.17" r="2.35" fill="#1d1b66"/>
<circle cx="1224.85" cy="215.38" r="2.35" fill="#1d1b66"/>
<circle cx="1224.85" cy="217.27" r="2.35" fill="#1d1b66"/>
<circle cx="1224.85" cy="219.33" r="2.35" fill="#1d1b66"/>
<circle cx="1224.85" cy="220.64" r="2.35" fill="#1d1b66"/>
<circle cx="1243.35" cy="150.3" r="2.35" fill="#1d1b66"/>
<circle cx="1243.35" cy="153.04" r="2.35" fill="#1d1b66"/>
<circle cx="1243.35" cy="178.86" r="2.35" fill="#1d1b66"/>
<circle cx="1243.35" cy="190.26" r="2.35" fill="#1d1b66"/>
<circle cx="1243.35" cy="192.53" r="2.35" fill="#1d1b66"/>
<circle cx="1243.35" cy="204.38" r="2.35" fill="#1d1b66"/>
<circle cx="1243.35" cy="209.24" r="2.35" fill="#1d1b66"/>
<circle cx="1243.35" cy="215.32" r="2.35" fill="#1d1b66"/>
<circle cx="1243.35" cy="217.96" r="2.35" fill="#1d1b66"/>
<circle cx="1243.35" cy="219.12" r="2.35" fill="#1d1b66"/>
<circle cx="1261.85" cy="146.81" r="2.35" fill="#1d1b66"/>
<circle cx="1261.85" cy="150.76" r="2.35" fill="#1d1b66"/>
<circle cx="1261.85" cy="172.33" r="2.35" fill="#1d1b66"/>
<circle cx="1261.85" cy="187.22" r="2.35" fill="#1d1b66"/>
<circle cx="1261.85" cy="189.04" r="2.35" fill="#1d1b66"/>
<circle cx="1261.85" cy="190.75" r="2.35" fill="#1d1b66"/>
<circle cx="1261.85" cy="192.53" r="2.35" fill="#1d1b66"/>
<circle cx="1261.85" cy="203.93" r="2.35" fill="#1d1b66"/>
<circle cx="1261.85" cy="206.74" r="2.35" fill="#1d1b66"/>
<circle cx="1261.85" cy="208.07" r="2.35" fill="#1d1b66"/>
<circle cx="1261.85" cy="209.46" r="2.35" fill="#1d1b66"/>
<circle cx="1261.85" cy="210.95" r="2.35" fill="#1d1b66"/>
<circle cx="1261.85" cy="212.43" r="2.35" fill="#1d1b66"/>
<circle cx="1261.85" cy="214.38" r="2.35" fill="#1d1b66"/>
<circle cx="1261.85" cy="216.08" r="2.35" fill="#1d1b66"/>
<circle cx="1271.1" cy="144.99" r="2.35" fill="#1d1b66"/>
<circle cx="1271.1" cy="150.3" r="2.35" fill="#1d1b66"/>
<circle cx="1271.1" cy="169.14" r="2.35" fill="#1d1b66"/>
<circle cx="1271.1" cy="187.22" r="2.35" fill="#1d1b66"/>
<circle cx="1271.1" cy="188.76" r="2.35" fill="#1d1b66"/>
<circle cx="1271.1" cy="189.83" r="2.35" fill="#1d1b66"/>
<circle cx="1271.1" cy="191.01" r="2.35" fill="#1d1b66"/>
<circle cx="1271.1" cy="202.41" r="2.35" fill="#1d1b66"/>
<circle cx="1271.1" cy="204.14" r="2.35" fill="#1d1b66"/>
<circle cx="1271.1" cy="206.24" r="2.35" fill="#1d1b66"/>
<circle cx="1271.1" cy="209.04" r="2.35" fill="#1d1b66"/>
<circle cx="1271.1" cy="211.36" r="2.35" fill="#1d1b66"/>
<circle cx="1271.1" cy="213.37" r="2.35" fill="#1d1b66"/>
<circle cx="1271.1" cy="214.56" r="2.35" fill="#1d1b66"/>
<path d="M993.6,214.56 L1002.85,219.12 L1021.35,226.71 L1039.85,229.75 L1058.35,229.75 L1076.85,222.61 L1095.35,218.66 L1113.85,215.32 L1132.35,212.28 L1150.85,210.46 L1169.35,205.45 L1187.85,203.47 L1206.35,199.37 L1224.85,196.03 L1243.35,192.53 L1261.85,189.8 L1271.1,188.74" fill="none" stroke="#1d1b66" stroke-width="1.9" stroke-linejoin="round"/>
<line x1="985" y1="86.6" x2="985" y2="300" stroke="#000" stroke-width="2"/>
<line x1="984" y1="299" x2="1276.1" y2="299" stroke="#000" stroke-width="2"/>
<line x1="977.5" y1="87.6" x2="985" y2="87.6" stroke="#000" stroke-width="1.8"/>
<text x="974.5" y="96" font-size="20" text-anchor="end" stroke="#000" stroke-width="0.3">175</text>
<line x1="977.5" y1="130" x2="985" y2="130" stroke="#000" stroke-width="1.8"/>
<text x="974.5" y="138.4" font-size="20" text-anchor="end" stroke="#000" stroke-width="0.3">150</text>
<line x1="977.5" y1="172.3" x2="985" y2="172.3" stroke="#000" stroke-width="1.8"/>
<text x="974.5" y="180.7" font-size="20" text-anchor="end" stroke="#000" stroke-width="0.3">125</text>
<line x1="977.5" y1="214.6" x2="985" y2="214.6" stroke="#000" stroke-width="1.8"/>
<text x="974.5" y="223" font-size="20" text-anchor="end" stroke="#000" stroke-width="0.3">100</text>
<line x1="977.5" y1="256.8" x2="985" y2="256.8" stroke="#000" stroke-width="1.8"/>
<text x="970.8" y="265.2" font-size="20" text-anchor="end" stroke="#000" stroke-width="0.3">75</text>
<line x1="977.5" y1="299" x2="985" y2="299" stroke="#000" stroke-width="1.8"/>
<text x="970.8" y="307.4" font-size="20" text-anchor="end" stroke="#000" stroke-width="0.3">50</text>
<line x1="993.6" y1="299" x2="993.6" y2="306.5" stroke="#000" stroke-width="1.8"/>
<text x="992.2" y="322" font-size="20" text-anchor="middle" stroke="#000" stroke-width="0.3">0</text>
<line x1="1039.85" y1="299" x2="1039.85" y2="306.5" stroke="#000" stroke-width="1.8"/>
<text x="1038.45" y="322" font-size="20" text-anchor="middle" stroke="#000" stroke-width="0.3">5</text>
<line x1="1086.1" y1="299" x2="1086.1" y2="306.5" stroke="#000" stroke-width="1.8"/>
<text x="1086.8" y="322" font-size="20" text-anchor="middle" stroke="#000" stroke-width="0.3">10</text>
<line x1="1132.35" y1="299" x2="1132.35" y2="306.5" stroke="#000" stroke-width="1.8"/>
<text x="1133.05" y="322" font-size="20" text-anchor="middle" stroke="#000" stroke-width="0.3">15</text>
<line x1="1178.6" y1="299" x2="1178.6" y2="306.5" stroke="#000" stroke-width="1.8"/>
<text x="1179.3" y="322" font-size="20" text-anchor="middle" stroke="#000" stroke-width="0.3">20</text>
<line x1="1224.85" y1="299" x2="1224.85" y2="306.5" stroke="#000" stroke-width="1.8"/>
<text x="1225.55" y="322" font-size="20" text-anchor="middle" stroke="#000" stroke-width="0.3">25</text>
<line x1="1271.1" y1="299" x2="1271.1" y2="306.5" stroke="#000" stroke-width="1.8"/>
<text x="1271.8" y="322" font-size="20" text-anchor="middle" stroke="#000" stroke-width="0.3">30</text>
<text x="1125" y="355.5" font-size="24.2" text-anchor="middle" stroke="#000" stroke-width="0.3">Days post infection (dpi)</text>
<text stroke="#000" stroke-width="0.3" font-size="24" text-anchor="middle" transform="translate(928.8 181.3) rotate(-90)">Weight change (%)</text>
<line x1="1004.1" y1="103.4" x2="1021.3" y2="103.4" stroke="#1d1b66" stroke-width="1.6"/>
<circle cx="1012.7" cy="103.4" r="2.3" fill="#1d1b66"/>
<text x="1029.9" y="107.6" font-size="13" stroke="#000" stroke-width="0.3">Recovery</text>
<line x1="1004.1" y1="124.3" x2="1021.3" y2="124.3" stroke="#e9a43c" stroke-width="1.6"/>
<rect x="1010.7" y="122.4" width="4" height="3.8" fill="#e9a43c"/>
<text x="1029.9" y="128.5" font-size="13" stroke="#000" stroke-width="0.3">Non-recovery</text>
<text x="1307.6" y="25.6" font-size="32" font-weight="bold" fill="#1a1311">c</text>
<text x="1552" y="54" font-size="28.3" text-anchor="middle" stroke="#000" stroke-width="0.3">Sivelestat</text>
<line x1="1407.1" y1="215" x2="1692.2" y2="215" stroke="#9c9c9c" stroke-width="3.3" stroke-dasharray="0.01 4.72" stroke-linecap="round"/>
<line x1="1407.1" y1="257.3" x2="1692.2" y2="257.3" stroke="#000" stroke-width="3.3" stroke-dasharray="0.01 4.72" stroke-linecap="round"/>
<rect x="1567.25" y="235.33" width="3.4" height="3.4" fill="#fbe9c8" stroke="#e9a43c" stroke-width="1.25"/>
<rect x="1585.75" y="240.66" width="3.4" height="3.4" fill="#fbe9c8" stroke="#e9a43c" stroke-width="1.25"/>
<rect x="1604.25" y="240.66" width="3.4" height="3.4" fill="#fbe9c8" stroke="#e9a43c" stroke-width="1.25"/>
<rect x="1604.25" y="245.98" width="3.4" height="3.4" fill="#fbe9c8" stroke="#e9a43c" stroke-width="1.25"/>
<rect x="1622.75" y="242.94" width="3.4" height="3.4" fill="#fbe9c8" stroke="#e9a43c" stroke-width="1.25"/>
<rect x="1622.75" y="245.98" width="3.4" height="3.4" fill="#fbe9c8" stroke="#e9a43c" stroke-width="1.25"/>
<rect x="1641.25" y="231.23" width="3.4" height="3.4" fill="#fbe9c8" stroke="#e9a43c" stroke-width="1.25"/>
<rect x="1641.25" y="242.94" width="3.4" height="3.4" fill="#fbe9c8" stroke="#e9a43c" stroke-width="1.25"/>
<rect x="1641.25" y="247.51" width="3.4" height="3.4" fill="#fbe9c8" stroke="#e9a43c" stroke-width="1.25"/>
<rect x="1659.75" y="231.23" width="3.4" height="3.4" fill="#fbe9c8" stroke="#e9a43c" stroke-width="1.25"/>
<rect x="1659.75" y="242.18" width="3.4" height="3.4" fill="#fbe9c8" stroke="#e9a43c" stroke-width="1.25"/>
<rect x="1659.75" y="245.98" width="3.4" height="3.4" fill="#fbe9c8" stroke="#e9a43c" stroke-width="1.25"/>
<rect x="1678.25" y="233.36" width="3.4" height="3.4" fill="#fbe9c8" stroke="#e9a43c" stroke-width="1.25"/>
<rect x="1678.25" y="242.94" width="3.4" height="3.4" fill="#fbe9c8" stroke="#e9a43c" stroke-width="1.25"/>
<rect x="1678.25" y="245.22" width="3.4" height="3.4" fill="#fbe9c8" stroke="#e9a43c" stroke-width="1.25"/>
<rect x="1687.5" y="232.75" width="3.4" height="3.4" fill="#fbe9c8" stroke="#e9a43c" stroke-width="1.25"/>
<rect x="1687.5" y="241.88" width="3.4" height="3.4" fill="#fbe9c8" stroke="#e9a43c" stroke-width="1.25"/>
<rect x="1687.5" y="243.4" width="3.4" height="3.4" fill="#fbe9c8" stroke="#e9a43c" stroke-width="1.25"/>
<path d="M1411.7,214.97 L1420.95,213.45 L1439.45,224.1 L1457.95,228.67 L1476.45,228.97 L1494.95,227.91 L1513.45,230.49 L1531.95,229.73 L1550.45,232.01 L1568.95,235.06 L1587.45,237.03 L1605.95,240.53 L1624.45,242.06 L1642.95,242.36 L1661.45,241.75 L1679.95,242.06 L1689.2,240.84" fill="none" stroke="#e9a43c" stroke-width="1.9" stroke-linejoin="round"/>
<circle cx="1411.7" cy="214.97" r="2.35" fill="#1d1b66"/>
<circle cx="1420.95" cy="206.61" r="2.35" fill="#1d1b66"/>
<circle cx="1420.95" cy="207.97" r="2.35" fill="#1d1b66"/>
<circle cx="1420.95" cy="209.17" r="2.35" fill="#1d1b66"/>
<circle cx="1420.95" cy="210.83" r="2.35" fill="#1d1b66"/>
<circle cx="1420.95" cy="211.96" r="2.35" fill="#1d1b66"/>
<circle cx="1420.95" cy="213.51" r="2.35" fill="#1d1b66"/>
<circle cx="1420.95" cy="214.91" r="2.35" fill="#1d1b66"/>
<circle cx="1420.95" cy="216.03" r="2.35" fill="#1d1b66"/>
<circle cx="1420.95" cy="217.56" r="2.35" fill="#1d1b66"/>
<circle cx="1420.95" cy="218.66" r="2.35" fill="#1d1b66"/>
<circle cx="1420.95" cy="220.12" r="2.35" fill="#1d1b66"/>
<circle cx="1420.95" cy="221.25" r="2.35" fill="#1d1b66"/>
<circle cx="1420.95" cy="222.4" r="2.35" fill="#1d1b66"/>
<circle cx="1420.95" cy="223.85" r="2.35" fill="#1d1b66"/>
<circle cx="1420.95" cy="225.67" r="2.35" fill="#1d1b66"/>
<circle cx="1420.95" cy="226.85" r="2.35" fill="#1d1b66"/>
<circle cx="1420.95" cy="228.12" r="2.35" fill="#1d1b66"/>
<circle cx="1420.95" cy="230.19" r="2.35" fill="#1d1b66"/>
<circle cx="1439.45" cy="206.61" r="2.35" fill="#1d1b66"/>
<circle cx="1439.45" cy="214.97" r="2.35" fill="#1d1b66"/>
<circle cx="1439.45" cy="216.9" r="2.35" fill="#1d1b66"/>
<circle cx="1439.45" cy="218.5" r="2.35" fill="#1d1b66"/>
<circle cx="1439.45" cy="219.92" r="2.35" fill="#1d1b66"/>
<circle cx="1439.45" cy="221.88" r="2.35" fill="#1d1b66"/>
<circle cx="1439.45" cy="222.99" r="2.35" fill="#1d1b66"/>
<circle cx="1439.45" cy="224.84" r="2.35" fill="#1d1b66"/>
<circle cx="1439.45" cy="226.17" r="2.35" fill="#1d1b66"/>
<circle cx="1439.45" cy="227.36" r="2.35" fill="#1d1b66"/>
<circle cx="1439.45" cy="228.53" r="2.35" fill="#1d1b66"/>
<circle cx="1439.45" cy="229.88" r="2.35" fill="#1d1b66"/>
<circle cx="1439.45" cy="231.69" r="2.35" fill="#1d1b66"/>
<circle cx="1439.45" cy="232.92" r="2.35" fill="#1d1b66"/>
<circle cx="1439.45" cy="234.52" r="2.35" fill="#1d1b66"/>
<circle cx="1439.45" cy="236.16" r="2.35" fill="#1d1b66"/>
<circle cx="1439.45" cy="237.57" r="2.35" fill="#1d1b66"/>
<circle cx="1439.45" cy="238.56" r="2.35" fill="#1d1b66"/>
<circle cx="1457.95" cy="202.04" r="2.35" fill="#1d1b66"/>
<circle cx="1457.95" cy="204.14" r="2.35" fill="#1d1b66"/>
<circle cx="1457.95" cy="206.22" r="2.35" fill="#1d1b66"/>
<circle cx="1457.95" cy="208.58" r="2.35" fill="#1d1b66"/>
<circle cx="1457.95" cy="211.8" r="2.35" fill="#1d1b66"/>
<circle cx="1457.95" cy="214.55" r="2.35" fill="#1d1b66"/>
<circle cx="1457.95" cy="216.5" r="2.35" fill="#1d1b66"/>
<circle cx="1457.95" cy="218.32" r="2.35" fill="#1d1b66"/>
<circle cx="1457.95" cy="219.92" r="2.35" fill="#1d1b66"/>
<circle cx="1457.95" cy="221.4" r="2.35" fill="#1d1b66"/>
<circle cx="1457.95" cy="222.74" r="2.35" fill="#1d1b66"/>
<circle cx="1457.95" cy="224.53" r="2.35" fill="#1d1b66"/>
<circle cx="1457.95" cy="226.23" r="2.35" fill="#1d1b66"/>
<circle cx="1457.95" cy="227.52" r="2.35" fill="#1d1b66"/>
<circle cx="1457.95" cy="229.11" r="2.35" fill="#1d1b66"/>
<circle cx="1457.95" cy="230.65" r="2.35" fill="#1d1b66"/>
<circle cx="1457.95" cy="232.52" r="2.35" fill="#1d1b66"/>
<circle cx="1457.95" cy="234.25" r="2.35" fill="#1d1b66"/>
<circle cx="1457.95" cy="235.58" r="2.35" fill="#1d1b66"/>
<circle cx="1457.95" cy="236.27" r="2.35" fill="#1d1b66"/>
<circle cx="1457.95" cy="240.84" r="2.35" fill="#1d1b66"/>
<circle cx="1457.95" cy="244.81" r="2.35" fill="#1d1b66"/>
<circle cx="1457.95" cy="249.61" r="2.35" fill="#1d1b66"/>
<circle cx="1457.95" cy="254.53" r="2.35" fill="#1d1b66"/>
<circle cx="1476.45" cy="202.8" r="2.35" fill="#1d1b66"/>
<circle cx="1476.45" cy="205.06" r="2.35" fill="#1d1b66"/>
<circle cx="1476.45" cy="207.93" r="2.35" fill="#1d1b66"/>
<circle cx="1476.45" cy="209.98" r="2.35" fill="#1d1b66"/>
<circle cx="1476.45" cy="213.18" r="2.35" fill="#1d1b66"/>
<circle cx="1476.45" cy="216.5" r="2.35" fill="#1d1b66"/>
<circle cx="1476.45" cy="218.32" r="2.35" fill="#1d1b66"/>
<circle cx="1476.45" cy="219.91" r="2.35" fill="#1d1b66"/>
<circle cx="1476.45" cy="221.77" r="2.35" fill="#1d1b66"/>
<circle cx="1476.45" cy="223.13" r="2.35" fill="#1d1b66"/>
<circle cx="1476.45" cy="224.83" r="2.35" fill="#1d1b66"/>
<circle cx="1476.45" cy="226.43" r="2.35" fill="#1d1b66"/>
<circle cx="1476.45" cy="228.03" r="2.35" fill="#1d1b66"/>
<circle cx="1476.45" cy="229.51" r="2.35" fill="#1d1b66"/>
<circle cx="1476.45" cy="231.34" r="2.35" fill="#1d1b66"/>
<circle cx="1476.45" cy="233.27" r="2.35" fill="#1d1b66"/>
<circle cx="1476.45" cy="234.77" r="2.35" fill="#1d1b66"/>
<circle cx="1476.45" cy="236.44" r="2.35" fill="#1d1b66"/>
<circle cx="1476.45" cy="237.8" r="2.35" fill="#1d1b66"/>
<circle cx="1476.45" cy="246.92" r="2.35" fill="#1d1b66"/>
<circle cx="1476.45" cy="250.18" r="2.35" fill="#1d1b66"/>
<circle cx="1476.45" cy="253.34" r="2.35" fill="#1d1b66"/>
<circle cx="1476.45" cy="254.53" r="2.35" fill="#1d1b66"/>
<circle cx="1494.95" cy="196.72" r="2.35" fill="#1d1b66"/>
<circle cx="1494.95" cy="200.2" r="2.35" fill="#1d1b66"/>
<circle cx="1494.95" cy="202.69" r="2.35" fill="#1d1b66"/>
<circle cx="1494.95" cy="205.38" r="2.35" fill="#1d1b66"/>
<circle cx="1494.95" cy="208.57" r="2.35" fill="#1d1b66"/>
<circle cx="1494.95" cy="210.59" r="2.35" fill="#1d1b66"/>
<circle cx="1494.95" cy="213.41" r="2.35" fill="#1d1b66"/>
<circle cx="1494.95" cy="215.7" r="2.35" fill="#1d1b66"/>
<circle cx="1494.95" cy="217.89" r="2.35" fill="#1d1b66"/>
<circle cx="1494.95" cy="219.54" r="2.35" fill="#1d1b66"/>
<circle cx="1494.95" cy="221.06" r="2.35" fill="#1d1b66"/>
<circle cx="1494.95" cy="222.83" r="2.35" fill="#1d1b66"/>
<circle cx="1494.95" cy="224.01" r="2.35" fill="#1d1b66"/>
<circle cx="1494.95" cy="225.3" r="2.35" fill="#1d1b66"/>
<circle cx="1494.95" cy="226.72" r="2.35" fill="#1d1b66"/>
<circle cx="1494.95" cy="228.58" r="2.35" fill="#1d1b66"/>
<circle cx="1494.95" cy="229.72" r="2.35" fill="#1d1b66"/>
<circle cx="1494.95" cy="231.2" r="2.35" fill="#1d1b66"/>
<circle cx="1494.95" cy="232.76" r="2.35" fill="#1d1b66"/>
<circle cx="1494.95" cy="234.63" r="2.35" fill="#1d1b66"/>
<circle cx="1494.95" cy="236.27" r="2.35" fill="#1d1b66"/>
<circle cx="1494.95" cy="239.32" r="2.35" fill="#1d1b66"/>
<circle cx="1494.95" cy="242.87" r="2.35" fill="#1d1b66"/>
<circle cx="1494.95" cy="245.36" r="2.35" fill="#1d1b66"/>
<circle cx="1494.95" cy="248.09" r="2.35" fill="#1d1b66"/>
<circle cx="1494.95" cy="250.73" r="2.35" fill="#1d1b66"/>
<circle cx="1494.95" cy="254.32" r="2.35" fill="#1d1b66"/>
<circle cx="1494.95" cy="257.27" r="2.35" fill="#1d1b66"/>
<circle cx="1504.2" cy="198.24" r="2.35" fill="#1d1b66"/>
<circle cx="1504.2" cy="199.44" r="2.35" fill="#1d1b66"/>
<circle cx="1504.2" cy="200.67" r="2.35" fill="#1d1b66"/>
<circle cx="1504.2" cy="201.95" r="2.35" fill="#1d1b66"/>
<circle cx="1504.2" cy="203.22" r="2.35" fill="#1d1b66"/>
<circle cx="1504.2" cy="204.73" r="2.35" fill="#1d1b66"/>
<circle cx="1504.2" cy="206.33" r="2.35" fill="#1d1b66"/>
<circle cx="1504.2" cy="207.64" r="2.35" fill="#1d1b66"/>
<circle cx="1504.2" cy="208.71" r="2.35" fill="#1d1b66"/>
<circle cx="1504.2" cy="210.15" r="2.35" fill="#1d1b66"/>
<circle cx="1504.2" cy="211.56" r="2.35" fill="#1d1b66"/>
<circle cx="1504.2" cy="213.14" r="2.35" fill="#1d1b66"/>
<circle cx="1504.2" cy="215.07" r="2.35" fill="#1d1b66"/>
<circle cx="1504.2" cy="216.77" r="2.35" fill="#1d1b66"/>
<circle cx="1504.2" cy="218.3" r="2.35" fill="#1d1b66"/>
<circle cx="1504.2" cy="219.93" r="2.35" fill="#1d1b66"/>
<circle cx="1504.2" cy="221.61" r="2.35" fill="#1d1b66"/>
<circle cx="1504.2" cy="222.73" r="2.35" fill="#1d1b66"/>
<circle cx="1504.2" cy="224.62" r="2.35" fill="#1d1b66"/>
<circle cx="1504.2" cy="226.39" r="2.35" fill="#1d1b66"/>
<circle cx="1504.2" cy="228.67" r="2.35" fill="#1d1b66"/>
<circle cx="1504.2" cy="231.71" r="2.35" fill="#1d1b66"/>
<circle cx="1504.2" cy="235.14" r="2.35" fill="#1d1b66"/>
<circle cx="1504.2" cy="237.84" r="2.35" fill="#1d1b66"/>
<circle cx="1504.2" cy="240.08" r="2.35" fill="#1d1b66"/>
<circle cx="1513.45" cy="192.15" r="2.35" fill="#1d1b66"/>
<circle cx="1513.45" cy="194.32" r="2.35" fill="#1d1b66"/>
<circle cx="1513.45" cy="197.46" r="2.35" fill="#1d1b66"/>
<circle cx="1513.45" cy="199.55" r="2.35" fill="#1d1b66"/>
<circle cx="1513.45" cy="201.28" r="2.35" fill="#1d1b66"/>
<circle cx="1513.45" cy="203.11" r="2.35" fill="#1d1b66"/>
<circle cx="1513.45" cy="204.36" r="2.35" fill="#1d1b66"/>
<circle cx="1513.45" cy="205.58" r="2.35" fill="#1d1b66"/>
<circle cx="1513.45" cy="206.95" r="2.35" fill="#1d1b66"/>
<circle cx="1513.45" cy="208.07" r="2.35" fill="#1d1b66"/>
<circle cx="1513.45" cy="209.13" r="2.35" fill="#1d1b66"/>
<circle cx="1513.45" cy="210.33" r="2.35" fill="#1d1b66"/>
<circle cx="1513.45" cy="211.49" r="2.35" fill="#1d1b66"/>
<circle cx="1513.45" cy="212.89" r="2.35" fill="#1d1b66"/>
<circle cx="1513.45" cy="213.98" r="2.35" fill="#1d1b66"/>
<circle cx="1513.45" cy="215.84" r="2.35" fill="#1d1b66"/>
<circle cx="1513.45" cy="217.46" r="2.35" fill="#1d1b66"/>
<circle cx="1513.45" cy="218.67" r="2.35" fill="#1d1b66"/>
<circle cx="1513.45" cy="219.96" r="2.35" fill="#1d1b66"/>
<circle cx="1513.45" cy="221.34" r="2.35" fill="#1d1b66"/>
<circle cx="1513.45" cy="222.74" r="2.35" fill="#1d1b66"/>
<circle cx="1513.45" cy="223.92" r="2.35" fill="#1d1b66"/>
<circle cx="1513.45" cy="225.76" r="2.35" fill="#1d1b66"/>
<circle cx="1513.45" cy="227.73" r="2.35" fill="#1d1b66"/>
<circle cx="1513.45" cy="229.22" r="2.35" fill="#1d1b66"/>
<circle cx="1513.45" cy="230.73" r="2.35" fill="#1d1b66"/>
<circle cx="1513.45" cy="231.71" r="2.35" fill="#1d1b66"/>
<circle cx="1513.45" cy="236.27" r="2.35" fill="#1d1b66"/>
<circle cx="1513.45" cy="240.21" r="2.35" fill="#1d1b66"/>
<circle cx="1513.45" cy="243.88" r="2.35" fill="#1d1b66"/>
<circle cx="1531.95" cy="172.07" r="2.35" fill="#1d1b66"/>
<circle cx="1531.95" cy="190.63" r="2.35" fill="#1d1b66"/>
<circle cx="1531.95" cy="193.01" r="2.35" fill="#1d1b66"/>
<circle cx="1531.95" cy="197.53" r="2.35" fill="#1d1b66"/>
<circle cx="1531.95" cy="199.51" r="2.35" fill="#1d1b66"/>
<circle cx="1531.95" cy="200.97" r="2.35" fill="#1d1b66"/>
<circle cx="1531.95" cy="205.96" r="2.35" fill="#1d1b66"/>
<circle cx="1531.95" cy="209.34" r="2.35" fill="#1d1b66"/>
<circle cx="1531.95" cy="211.26" r="2.35" fill="#1d1b66"/>
<circle cx="1531.95" cy="214.7" r="2.35" fill="#1d1b66"/>
<circle cx="1531.95" cy="216.17" r="2.35" fill="#1d1b66"/>
<circle cx="1531.95" cy="219.55" r="2.35" fill="#1d1b66"/>
<circle cx="1531.95" cy="224.64" r="2.35" fill="#1d1b66"/>
<circle cx="1531.95" cy="229.29" r="2.35" fill="#1d1b66"/>
<circle cx="1531.95" cy="233.31" r="2.35" fill="#1d1b66"/>
<circle cx="1531.95" cy="235.67" r="2.35" fill="#1d1b66"/>
<circle cx="1531.95" cy="238.56" r="2.35" fill="#1d1b66"/>
<circle cx="1550.45" cy="167.81" r="2.35" fill="#1d1b66"/>
<circle cx="1550.45" cy="186.07" r="2.35" fill="#1d1b66"/>
<circle cx="1550.45" cy="188.07" r="2.35" fill="#1d1b66"/>
<circle cx="1550.45" cy="192.38" r="2.35" fill="#1d1b66"/>
<circle cx="1550.45" cy="195.77" r="2.35" fill="#1d1b66"/>
<circle cx="1550.45" cy="200.11" r="2.35" fill="#1d1b66"/>
<circle cx="1550.45" cy="202.73" r="2.35" fill="#1d1b66"/>
<circle cx="1550.45" cy="204.95" r="2.35" fill="#1d1b66"/>
<circle cx="1550.45" cy="209.4" r="2.35" fill="#1d1b66"/>
<circle cx="1550.45" cy="214.52" r="2.35" fill="#1d1b66"/>
<circle cx="1550.45" cy="219.13" r="2.35" fill="#1d1b66"/>
<circle cx="1550.45" cy="223.56" r="2.35" fill="#1d1b66"/>
<circle cx="1550.45" cy="228.05" r="2.35" fill="#1d1b66"/>
<circle cx="1550.45" cy="232.23" r="2.35" fill="#1d1b66"/>
<circle cx="1550.45" cy="233.23" r="2.35" fill="#1d1b66"/>
<circle cx="1550.45" cy="237.8" r="2.35" fill="#1d1b66"/>
<circle cx="1568.95" cy="160.97" r="2.35" fill="#1d1b66"/>
<circle cx="1568.95" cy="182.27" r="2.35" fill="#1d1b66"/>
<circle cx="1568.95" cy="185.6" r="2.35" fill="#1d1b66"/>
<circle cx="1568.95" cy="188.32" r="2.35" fill="#1d1b66"/>
<circle cx="1568.95" cy="189.8" r="2.35" fill="#1d1b66"/>
<circle cx="1568.95" cy="191.28" r="2.35" fill="#1d1b66"/>
<circle cx="1568.95" cy="193.71" r="2.35" fill="#1d1b66"/>
<circle cx="1568.95" cy="196.07" r="2.35" fill="#1d1b66"/>
<circle cx="1568.95" cy="200.07" r="2.35" fill="#1d1b66"/>
<circle cx="1568.95" cy="205.08" r="2.35" fill="#1d1b66"/>
<circle cx="1568.95" cy="208.15" r="2.35" fill="#1d1b66"/>
<circle cx="1568.95" cy="213.08" r="2.35" fill="#1d1b66"/>
<circle cx="1568.95" cy="218.21" r="2.35" fill="#1d1b66"/>
<circle cx="1568.95" cy="223.21" r="2.35" fill="#1d1b66"/>
<circle cx="1568.95" cy="225.97" r="2.35" fill="#1d1b66"/>
<circle cx="1568.95" cy="228.17" r="2.35" fill="#1d1b66"/>
<circle cx="1568.95" cy="230.41" r="2.35" fill="#1d1b66"/>
<circle cx="1568.95" cy="232.52" r="2.35" fill="#1d1b66"/>
<circle cx="1568.95" cy="234.75" r="2.35" fill="#1d1b66"/>
<circle cx="1587.45" cy="157.47" r="2.35" fill="#1d1b66"/>
<circle cx="1587.45" cy="167.81" r="2.35" fill="#1d1b66"/>
<circle cx="1587.45" cy="175.42" r="2.35" fill="#1d1b66"/>
<circle cx="1587.45" cy="179.16" r="2.35" fill="#1d1b66"/>
<circle cx="1587.45" cy="183.96" r="2.35" fill="#1d1b66"/>
<circle cx="1587.45" cy="188.52" r="2.35" fill="#1d1b66"/>
<circle cx="1587.45" cy="191.71" r="2.35" fill="#1d1b66"/>
<circle cx="1587.45" cy="195.57" r="2.35" fill="#1d1b66"/>
<circle cx="1587.45" cy="199.98" r="2.35" fill="#1d1b66"/>
<circle cx="1587.45" cy="201.67" r="2.35" fill="#1d1b66"/>
<circle cx="1587.45" cy="205.55" r="2.35" fill="#1d1b66"/>
<circle cx="1587.45" cy="210.38" r="2.35" fill="#1d1b66"/>
<circle cx="1587.45" cy="214.73" r="2.35" fill="#1d1b66"/>
<circle cx="1587.45" cy="216.5" r="2.35" fill="#1d1b66"/>
<circle cx="1587.45" cy="225.62" r="2.35" fill="#1d1b66"/>
<circle cx="1587.45" cy="228.81" r="2.35" fill="#1d1b66"/>
<circle cx="1587.45" cy="230.86" r="2.35" fill="#1d1b66"/>
<circle cx="1587.45" cy="235.23" r="2.35" fill="#1d1b66"/>
<circle cx="1587.45" cy="236.27" r="2.35" fill="#1d1b66"/>
<circle cx="1605.95" cy="145.75" r="2.35" fill="#1d1b66"/>
<circle cx="1605.95" cy="163.25" r="2.35" fill="#1d1b66"/>
<circle cx="1605.95" cy="167.66" r="2.35" fill="#1d1b66"/>
<circle cx="1605.95" cy="172.73" r="2.35" fill="#1d1b66"/>
<circle cx="1605.95" cy="175.6" r="2.35" fill="#1d1b66"/>
<circle cx="1605.95" cy="178.5" r="2.35" fill="#1d1b66"/>
<circle cx="1605.95" cy="183.47" r="2.35" fill="#1d1b66"/>
<circle cx="1605.95" cy="187.6" r="2.35" fill="#1d1b66"/>
<circle cx="1605.95" cy="189.11" r="2.35" fill="#1d1b66"/>
<circle cx="1605.95" cy="198.24" r="2.35" fill="#1d1b66"/>
<circle cx="1605.95" cy="200.09" r="2.35" fill="#1d1b66"/>
<circle cx="1605.95" cy="202.04" r="2.35" fill="#1d1b66"/>
<circle cx="1605.95" cy="206.85" r="2.35" fill="#1d1b66"/>
<circle cx="1605.95" cy="211.28" r="2.35" fill="#1d1b66"/>
<circle cx="1605.95" cy="213.21" r="2.35" fill="#1d1b66"/>
<circle cx="1605.95" cy="217.72" r="2.35" fill="#1d1b66"/>
<circle cx="1605.95" cy="222.82" r="2.35" fill="#1d1b66"/>
<circle cx="1605.95" cy="226.69" r="2.35" fill="#1d1b66"/>
<circle cx="1605.95" cy="229.39" r="2.35" fill="#1d1b66"/>
<circle cx="1605.95" cy="232.85" r="2.35" fill="#1d1b66"/>
<circle cx="1605.95" cy="234.71" r="2.35" fill="#1d1b66"/>
<circle cx="1605.95" cy="236.27" r="2.35" fill="#1d1b66"/>
<circle cx="1624.45" cy="142.41" r="2.35" fill="#1d1b66"/>
<circle cx="1624.45" cy="155.64" r="2.35" fill="#1d1b66"/>
<circle cx="1624.45" cy="163.25" r="2.35" fill="#1d1b66"/>
<circle cx="1624.45" cy="168.31" r="2.35" fill="#1d1b66"/>
<circle cx="1624.45" cy="172.38" r="2.35" fill="#1d1b66"/>
<circle cx="1624.45" cy="181.5" r="2.35" fill="#1d1b66"/>
<circle cx="1624.45" cy="184.88" r="2.35" fill="#1d1b66"/>
<circle cx="1624.45" cy="189.8" r="2.35" fill="#1d1b66"/>
<circle cx="1624.45" cy="192.82" r="2.35" fill="#1d1b66"/>
<circle cx="1624.45" cy="197.5" r="2.35" fill="#1d1b66"/>
<circle cx="1624.45" cy="202.01" r="2.35" fill="#1d1b66"/>
<circle cx="1624.45" cy="204.18" r="2.35" fill="#1d1b66"/>
<circle cx="1624.45" cy="205.85" r="2.35" fill="#1d1b66"/>
<circle cx="1624.45" cy="213.45" r="2.35" fill="#1d1b66"/>
<circle cx="1624.45" cy="215.94" r="2.35" fill="#1d1b66"/>
<circle cx="1624.45" cy="218.22" r="2.35" fill="#1d1b66"/>
<circle cx="1624.45" cy="221.82" r="2.35" fill="#1d1b66"/>
<circle cx="1624.45" cy="224.18" r="2.35" fill="#1d1b66"/>
<circle cx="1624.45" cy="227.14" r="2.35" fill="#1d1b66"/>
<circle cx="1624.45" cy="229.01" r="2.35" fill="#1d1b66"/>
<circle cx="1624.45" cy="233.84" r="2.35" fill="#1d1b66"/>
<circle cx="1624.45" cy="234.75" r="2.35" fill="#1d1b66"/>
<circle cx="1642.95" cy="139.21" r="2.35" fill="#1d1b66"/>
<circle cx="1642.95" cy="149.86" r="2.35" fill="#1d1b66"/>
<circle cx="1642.95" cy="160.21" r="2.35" fill="#1d1b66"/>
<circle cx="1642.95" cy="163.32" r="2.35" fill="#1d1b66"/>
<circle cx="1642.95" cy="166.91" r="2.35" fill="#1d1b66"/>
<circle cx="1642.95" cy="169.33" r="2.35" fill="#1d1b66"/>
<circle cx="1642.95" cy="176.94" r="2.35" fill="#1d1b66"/>
<circle cx="1642.95" cy="179.91" r="2.35" fill="#1d1b66"/>
<circle cx="1642.95" cy="184.77" r="2.35" fill="#1d1b66"/>
<circle cx="1642.95" cy="188.05" r="2.35" fill="#1d1b66"/>
<circle cx="1642.95" cy="191.44" r="2.35" fill="#1d1b66"/>
<circle cx="1642.95" cy="194.8" r="2.35" fill="#1d1b66"/>
<circle cx="1642.95" cy="196.24" r="2.35" fill="#1d1b66"/>
<circle cx="1642.95" cy="199.28" r="2.35" fill="#1d1b66"/>
<circle cx="1642.95" cy="201.35" r="2.35" fill="#1d1b66"/>
<circle cx="1642.95" cy="202.73" r="2.35" fill="#1d1b66"/>
<circle cx="1642.95" cy="207.14" r="2.35" fill="#1d1b66"/>
<circle cx="1642.95" cy="209.17" r="2.35" fill="#1d1b66"/>
<circle cx="1642.95" cy="212.34" r="2.35" fill="#1d1b66"/>
<circle cx="1642.95" cy="216.46" r="2.35" fill="#1d1b66"/>
<circle cx="1642.95" cy="219.95" r="2.35" fill="#1d1b66"/>
<circle cx="1642.95" cy="222.56" r="2.35" fill="#1d1b66"/>
<circle cx="1642.95" cy="225.9" r="2.35" fill="#1d1b66"/>
<circle cx="1642.95" cy="227.15" r="2.35" fill="#1d1b66"/>
<circle cx="1661.45" cy="138.15" r="2.35" fill="#1d1b66"/>
<circle cx="1661.45" cy="142.71" r="2.35" fill="#1d1b66"/>
<circle cx="1661.45" cy="150.32" r="2.35" fill="#1d1b66"/>
<circle cx="1661.45" cy="160.21" r="2.35" fill="#1d1b66"/>
<circle cx="1661.45" cy="169.33" r="2.35" fill="#1d1b66"/>
<circle cx="1661.45" cy="171.11" r="2.35" fill="#1d1b66"/>
<circle cx="1661.45" cy="174.61" r="2.35" fill="#1d1b66"/>
<circle cx="1661.45" cy="176.92" r="2.35" fill="#1d1b66"/>
<circle cx="1661.45" cy="179.34" r="2.35" fill="#1d1b66"/>
<circle cx="1661.45" cy="183.65" r="2.35" fill="#1d1b66"/>
<circle cx="1661.45" cy="186.95" r="2.35" fill="#1d1b66"/>
<circle cx="1661.45" cy="190.46" r="2.35" fill="#1d1b66"/>
<circle cx="1661.45" cy="194.72" r="2.35" fill="#1d1b66"/>
<circle cx="1661.45" cy="199.56" r="2.35" fill="#1d1b66"/>
<circle cx="1661.45" cy="202.61" r="2.35" fill="#1d1b66"/>
<circle cx="1661.45" cy="206.31" r="2.35" fill="#1d1b66"/>
<circle cx="1661.45" cy="207.37" r="2.35" fill="#1d1b66"/>
<circle cx="1661.45" cy="214.97" r="2.35" fill="#1d1b66"/>
<circle cx="1661.45" cy="223.34" r="2.35" fill="#1d1b66"/>
<circle cx="1679.95" cy="135.86" r="2.35" fill="#1d1b66"/>
<circle cx="1679.95" cy="139.18" r="2.35" fill="#1d1b66"/>
<circle cx="1679.95" cy="140.43" r="2.35" fill="#1d1b66"/>
<circle cx="1679.95" cy="148.8" r="2.35" fill="#1d1b66"/>
<circle cx="1679.95" cy="154.88" r="2.35" fill="#1d1b66"/>
<circle cx="1679.95" cy="157.97" r="2.35" fill="#1d1b66"/>
<circle cx="1679.95" cy="161.37" r="2.35" fill="#1d1b66"/>
<circle cx="1679.95" cy="164.56" r="2.35" fill="#1d1b66"/>
<circle cx="1679.95" cy="169.51" r="2.35" fill="#1d1b66"/>
<circle cx="1679.95" cy="173.53" r="2.35" fill="#1d1b66"/>
<circle cx="1679.95" cy="178.24" r="2.35" fill="#1d1b66"/>
<circle cx="1679.95" cy="183.19" r="2.35" fill="#1d1b66"/>
<circle cx="1679.95" cy="186.07" r="2.35" fill="#1d1b66"/>
<circle cx="1679.95" cy="192.15" r="2.35" fill="#1d1b66"/>
<circle cx="1679.95" cy="195.65" r="2.35" fill="#1d1b66"/>
<circle cx="1679.95" cy="200.61" r="2.35" fill="#1d1b66"/>
<circle cx="1679.95" cy="205.17" r="2.35" fill="#1d1b66"/>
<circle cx="1679.95" cy="207.06" r="2.35" fill="#1d1b66"/>
<circle cx="1679.95" cy="208.9" r="2.35" fill="#1d1b66"/>
<circle cx="1679.95" cy="211.95" r="2.35" fill="#1d1b66"/>
<circle cx="1679.95" cy="213.59" r="2.35" fill="#1d1b66"/>
<circle cx="1679.95" cy="214.97" r="2.35" fill="#1d1b66"/>
<circle cx="1689.2" cy="125.21" r="2.35" fill="#1d1b66"/>
<circle cx="1689.2" cy="137.38" r="2.35" fill="#1d1b66"/>
<circle cx="1689.2" cy="147.27" r="2.35" fill="#1d1b66"/>
<circle cx="1689.2" cy="154.88" r="2.35" fill="#1d1b66"/>
<circle cx="1689.2" cy="156.53" r="2.35" fill="#1d1b66"/>
<circle cx="1689.2" cy="160.44" r="2.35" fill="#1d1b66"/>
<circle cx="1689.2" cy="164.79" r="2.35" fill="#1d1b66"/>
<circle cx="1689.2" cy="169.58" r="2.35" fill="#1d1b66"/>
<circle cx="1689.2" cy="171.53" r="2.35" fill="#1d1b66"/>
<circle cx="1689.2" cy="175.62" r="2.35" fill="#1d1b66"/>
<circle cx="1689.2" cy="179.51" r="2.35" fill="#1d1b66"/>
<circle cx="1689.2" cy="181.42" r="2.35" fill="#1d1b66"/>
<circle cx="1689.2" cy="186.15" r="2.35" fill="#1d1b66"/>
<circle cx="1689.2" cy="191.19" r="2.35" fill="#1d1b66"/>
<circle cx="1689.2" cy="193.4" r="2.35" fill="#1d1b66"/>
<circle cx="1689.2" cy="198.39" r="2.35" fill="#1d1b66"/>
<circle cx="1689.2" cy="201.28" r="2.35" fill="#1d1b66"/>
<circle cx="1689.2" cy="204.5" r="2.35" fill="#1d1b66"/>
<circle cx="1689.2" cy="209.63" r="2.35" fill="#1d1b66"/>
<circle cx="1689.2" cy="214.17" r="2.35" fill="#1d1b66"/>
<circle cx="1689.2" cy="214.97" r="2.35" fill="#1d1b66"/>
<path d="M1411.7,214.97 L1420.95,218.02 L1439.45,226.84 L1457.95,230.95 L1476.45,230.19 L1494.95,224.86 L1504.2,219.54 L1513.45,217.26 L1531.95,210.11 L1550.45,207.06 L1568.95,205.39 L1587.45,203.56 L1605.95,202.04 L1624.45,198.24 L1642.95,194.44 L1661.45,189.11 L1679.95,183.79 L1689.2,174.66" fill="none" stroke="#1d1b66" stroke-width="1.9" stroke-linejoin="round"/>
<line x1="1402.6" y1="86.6" x2="1402.6" y2="300.8" stroke="#000" stroke-width="2"/>
<line x1="1401.6" y1="299.8" x2="1694.2" y2="299.8" stroke="#000" stroke-width="2"/>
<line x1="1395.1" y1="87.6" x2="1402.6" y2="87.6" stroke="#000" stroke-width="1.8"/>
<text x="1392.1" y="96" font-size="20" text-anchor="end" stroke="#000" stroke-width="0.3">175</text>
<line x1="1395.1" y1="130.5" x2="1402.6" y2="130.5" stroke="#000" stroke-width="1.8"/>
<text x="1392.1" y="138.9" font-size="20" text-anchor="end" stroke="#000" stroke-width="0.3">150</text>
<line x1="1395.1" y1="172.7" x2="1402.6" y2="172.7" stroke="#000" stroke-width="1.8"/>
<text x="1392.1" y="181.1" font-size="20" text-anchor="end" stroke="#000" stroke-width="0.3">125</text>
<line x1="1395.1" y1="215" x2="1402.6" y2="215" stroke="#000" stroke-width="1.8"/>
<text x="1392.1" y="223.4" font-size="20" text-anchor="end" stroke="#000" stroke-width="0.3">100</text>
<line x1="1395.1" y1="257.3" x2="1402.6" y2="257.3" stroke="#000" stroke-width="1.8"/>
<text x="1388.4" y="265.7" font-size="20" text-anchor="end" stroke="#000" stroke-width="0.3">75</text>
<line x1="1395.1" y1="299.8" x2="1402.6" y2="299.8" stroke="#000" stroke-width="1.8"/>
<text x="1388.4" y="308.2" font-size="20" text-anchor="end" stroke="#000" stroke-width="0.3">50</text>
<line x1="1411.7" y1="299.8" x2="1411.7" y2="307.3" stroke="#000" stroke-width="1.8"/>
<text x="1410.3" y="322.8" font-size="20" text-anchor="middle" stroke="#000" stroke-width="0.3">0</text>
<line x1="1457.95" y1="299.8" x2="1457.95" y2="307.3" stroke="#000" stroke-width="1.8"/>
<text x="1456.55" y="322.8" font-size="20" text-anchor="middle" stroke="#000" stroke-width="0.3">5</text>
<line x1="1504.2" y1="299.8" x2="1504.2" y2="307.3" stroke="#000" stroke-width="1.8"/>
<text x="1504.9" y="322.8" font-size="20" text-anchor="middle" stroke="#000" stroke-width="0.3">10</text>
<line x1="1550.45" y1="299.8" x2="1550.45" y2="307.3" stroke="#000" stroke-width="1.8"/>
<text x="1551.15" y="322.8" font-size="20" text-anchor="middle" stroke="#000" stroke-width="0.3">15</text>
<line x1="1596.7" y1="299.8" x2="1596.7" y2="307.3" stroke="#000" stroke-width="1.8"/>
<text x="1597.4" y="322.8" font-size="20" text-anchor="middle" stroke="#000" stroke-width="0.3">20</text>
<line x1="1642.95" y1="299.8" x2="1642.95" y2="307.3" stroke="#000" stroke-width="1.8"/>
<text x="1643.65" y="322.8" font-size="20" text-anchor="middle" stroke="#000" stroke-width="0.3">25</text>
<line x1="1689.2" y1="299.8" x2="1689.2" y2="307.3" stroke="#000" stroke-width="1.8"/>
<text x="1689.9" y="322.8" font-size="20" text-anchor="middle" stroke="#000" stroke-width="0.3">30</text>
<text x="1557.3" y="356.6" font-size="24.2" text-anchor="middle" stroke="#000" stroke-width="0.3">Days post infection (dpi)</text>
<text stroke="#000" stroke-width="0.3" font-size="24" text-anchor="middle" transform="translate(1346.4 181.7) rotate(-90)">Weight change (%)</text>
<line x1="1422" y1="104" x2="1439.2" y2="104" stroke="#1d1b66" stroke-width="1.6"/>
<circle cx="1430.6" cy="104" r="2.3" fill="#1d1b66"/>
<text x="1447.8" y="108.2" font-size="13" stroke="#000" stroke-width="0.3">Recovery</text>
<line x1="1422" y1="124.9" x2="1439.2" y2="124.9" stroke="#e9a43c" stroke-width="1.6"/>
<rect x="1428.6" y="123" width="4" height="3.8" fill="#e9a43c"/>
<text x="1447.8" y="129.1" font-size="13" stroke="#000" stroke-width="0.3">Non-recovery</text>
<text x="1715.1" y="26.9" font-size="32" font-weight="bold" fill="#1a1311">d</text>
<rect x="1792.6" y="31.6" width="22.7" height="9.3" fill="#222a6a"/>
<text x="1831.5" y="42.5" font-size="19.6" stroke="#000" stroke-width="0.3">Recovery</text>
<rect x="1792.6" y="51.5" width="22.7" height="9.3" fill="#e9a742"/>
<text x="1831.5" y="62.65" font-size="19.6" stroke="#000" stroke-width="0.3">Non-recovery</text>
<rect x="1792.6" y="71.4" width="22.7" height="9.3" fill="#ee3d3b"/>
<text x="1831.5" y="82.8" font-size="19.6" stroke="#000" stroke-width="0.3">Death</text>
<rect x="1828.5" y="201.42" width="39" height="69.48" fill="#ee3d3b"/>
<rect x="1828.5" y="180.98" width="39" height="18.86" fill="#e9a742"/>
<rect x="1828.5" y="116.06" width="39" height="63.19" fill="#222a6a"/>
<rect x="1890.6" y="240.72" width="39" height="30.18" fill="#ee3d3b"/>
<rect x="1890.6" y="229.24" width="39" height="9.9" fill="#e9a742"/>
<rect x="1890.6" y="116.06" width="39" height="110.98" fill="#222a6a"/>
<text x="1847.9" y="155.9" font-size="24" text-anchor="middle" fill="#fff" stroke="#fff" stroke-width="0.3">42</text>
<text x="1847.9" y="200" font-size="24" text-anchor="middle" fill="#000" stroke="#000" stroke-width="0.3">13</text>
<text x="1847.3" y="244.2" font-size="24" text-anchor="middle" fill="#000" stroke="#000" stroke-width="0.3">45</text>
<text x="1911.5" y="182" font-size="24" text-anchor="middle" fill="#fff" stroke="#fff" stroke-width="0.3">73</text>
<text x="1910.3" y="244.2" font-size="24" text-anchor="middle" fill="#000" stroke="#000" stroke-width="0.3">8</text>
<text x="1910.9" y="267.2" font-size="24" text-anchor="middle" fill="#000" stroke="#000" stroke-width="0.3">20</text>
<line x1="1806.9" y1="112.7" x2="1806.9" y2="271.9" stroke="#000" stroke-width="2"/>
<line x1="1799.4" y1="270.9" x2="1953" y2="270.9" stroke="#000" stroke-width="2"/>
<line x1="1799.4" y1="270.9" x2="1806.9" y2="270.9" stroke="#000" stroke-width="1.8"/>
<text x="1794.6" y="279.5" font-size="20" text-anchor="end" stroke="#000" stroke-width="0.3">0</text>
<line x1="1799.4" y1="231.6" x2="1806.9" y2="231.6" stroke="#000" stroke-width="1.8"/>
<text x="1794.6" y="240.2" font-size="20" text-anchor="end" stroke="#000" stroke-width="0.3">25</text>
<line x1="1799.4" y1="192.3" x2="1806.9" y2="192.3" stroke="#000" stroke-width="1.8"/>
<text x="1794.6" y="200.9" font-size="20" text-anchor="end" stroke="#000" stroke-width="0.3">50</text>
<line x1="1799.4" y1="153" x2="1806.9" y2="153" stroke="#000" stroke-width="1.8"/>
<text x="1794.6" y="161.6" font-size="20" text-anchor="end" stroke="#000" stroke-width="0.3">75</text>
<line x1="1799.4" y1="113.7" x2="1806.9" y2="113.7" stroke="#000" stroke-width="1.8"/>
<text x="1798" y="122.3" font-size="20" text-anchor="end" stroke="#000" stroke-width="0.3">100</text>
<line x1="1847.9" y1="270.9" x2="1847.9" y2="277.4" stroke="#000" stroke-width="1.8"/>
<line x1="1910.3" y1="270.9" x2="1910.3" y2="277.4" stroke="#000" stroke-width="1.8"/>
<text stroke="#000" stroke-width="0.3" font-size="24" text-anchor="middle" transform="translate(1756.5 192.3) rotate(-90)">Population (%)</text>
<text stroke="#000" stroke-width="0.3" font-size="24.3" text-anchor="end" transform="translate(1861.4 296.8) rotate(-45)">Non-treat</text>
<text stroke="#000" stroke-width="0.3" font-size="24.3" text-anchor="end" transform="translate(1924 296.8) rotate(-45)">Sivelestat</text>
</g>
<g id="panel_ef">
<text x="1.3" y="493.3" font-size="32" font-weight="bold" fill="#1a1311">e</text>
<path d="M66.78,534.63 C67.41,533.81 69.81,533.81 70.35,534.63 C70.9,535.46 70.18,537.74 70.05,539.58 C69.92,541.42 69.63,543.39 69.59,545.67 C69.56,547.95 69.95,551.44 69.82,553.28 C69.7,555.12 69.23,556.7 68.83,556.7 C68.44,556.7 67.82,555.12 67.46,553.28 C67.11,551.44 66.85,547.95 66.7,545.67 C66.55,543.39 66.54,541.42 66.55,539.58 C66.56,537.74 66.14,535.46 66.78,534.63Z" fill="#c07a93"/>
<path d="M57.26,510.28 C58.28,510.28 59.42,510.6 60.31,511.42 C61.2,512.25 61.83,513.71 62.59,515.23 C63.35,516.75 64.11,518.65 64.88,520.55 C65.64,522.46 66.63,524.74 67.16,526.64 C67.69,528.55 67.97,530.45 68.07,531.97 C68.17,533.49 67.98,534.51 67.77,535.78 C67.55,537.04 66.98,537.93 66.78,539.58 C66.57,541.23 66.55,543.64 66.55,545.67 C66.55,547.7 66.8,549.73 66.78,551.76 C66.75,553.79 66.71,556.07 66.4,557.85 C66.08,559.62 65.64,561.46 64.88,562.41 C64.11,563.36 63.23,563.62 61.83,563.55 C60.44,563.49 58.41,562.86 56.5,562.03 C54.6,561.21 52.32,560.07 50.42,558.61 C48.51,557.15 46.55,555.18 45.09,553.28 C43.63,551.38 42.45,549.22 41.66,547.19 C40.88,545.16 40.75,542.37 40.37,541.1 C39.99,539.83 39.46,540.47 39.38,539.58 C39.3,538.69 39.47,537.3 39.91,535.78 C40.36,534.25 41.18,532.22 42.04,530.45 C42.91,528.67 44.01,526.83 45.09,525.12 C46.17,523.41 47.63,521.32 48.51,520.17 C49.4,519.03 49.84,519.22 50.42,518.27 C50.99,517.32 51.3,515.61 51.94,514.47 C52.57,513.32 53.33,512.12 54.22,511.42 C55.11,510.72 56.25,510.28 57.26,510.28Z" fill="#d495a4" stroke="#c47d94" stroke-width="0.9"/>
<path d="M84.66,510.66 C85.55,510.6 86.06,511.17 86.95,512.18 C87.83,513.2 88.97,515.35 89.99,516.75 C91,518.14 92.4,519.16 93.03,520.55 C93.67,521.95 93.86,523.73 93.79,525.12 C93.73,526.52 92.27,528.04 92.65,528.93 C93.03,529.81 95.28,529.69 96.08,530.45 C96.88,531.21 97.38,532.35 97.45,533.49 C97.51,534.63 96.59,536.16 96.46,537.3 C96.33,538.44 96.69,538.95 96.69,540.34 C96.69,541.74 96.81,543.77 96.46,545.67 C96.1,547.57 95.38,549.98 94.56,551.76 C93.73,553.53 92.78,554.93 91.51,556.32 C90.24,557.72 88.72,559.18 86.95,560.13 C85.17,561.08 82.63,561.4 80.86,562.03 C79.08,562.67 77.56,563.55 76.29,563.93 C75.02,564.31 74.01,564.82 73.25,564.31 C72.49,563.81 72.3,562.22 71.72,560.89 C71.15,559.56 70.2,557.85 69.82,556.32 C69.44,554.8 69.63,553.53 69.44,551.76 C69.25,549.98 68.74,547.7 68.68,545.67 C68.62,543.64 68.81,541.61 69.06,539.58 C69.31,537.55 69.7,535.78 70.2,533.49 C70.71,531.21 71.47,528.29 72.11,525.88 C72.74,523.47 73.06,520.81 74.01,519.03 C74.96,517.26 76.54,516.31 77.81,515.23 C79.08,514.15 80.48,513.32 81.62,512.56 C82.76,511.8 83.77,510.72 84.66,510.66Z" fill="#d495a4" stroke="#c47d94" stroke-width="0.9"/>
<path d="M46.23,525.12 C46.57,526.01 47.21,529.05 48.28,530.45 C49.36,531.84 51.08,532.98 52.7,533.49 C54.32,534 56.63,534 58.03,533.49 C59.42,532.98 60.56,530.96 61.07,530.45" fill="none" stroke="#c27c92" stroke-width="0.8"/>
<path d="M39.61,539.96 C40.52,539.9 43.03,539.71 45.09,539.58 C47.14,539.45 49.53,539.45 51.94,539.2 C54.35,538.95 56.95,538.63 59.55,538.06 C62.15,537.49 66.21,536.16 67.54,535.78" fill="none" stroke="#c27c92" stroke-width="0.9"/>
<path d="M70.58,538.44 C71.41,538.5 73.82,539.14 75.53,538.82 C77.24,538.5 78.95,537.55 80.86,536.54 C82.76,535.52 84.98,534 86.95,532.73 C88.91,531.46 91.7,529.56 92.65,528.93" fill="none" stroke="#c27c92" stroke-width="0.9"/>
<path d="M82.38,537.3 C82.89,537.8 83.9,539.77 85.42,540.34 C86.95,540.91 89.67,540.91 91.51,540.72 C93.35,540.53 95.63,539.45 96.46,539.2" fill="none" stroke="#c27c92" stroke-width="0.8"/>
<text x="67.3" y="587.7" font-size="24" text-anchor="middle" stroke="#000" stroke-width="0.3">Lung</text>
<text x="351.2" y="516.8" font-size="28" text-anchor="middle" stroke="#000" stroke-width="0.3">B cells</text>
<rect x="221.01" y="747.63" width="22.15" height="72.1" fill="#7f7f7f" stroke="#000" stroke-width="1.8"/>
<rect x="266.64" y="661.62" width="22.15" height="158.11" fill="#d6d6d6" stroke="#000" stroke-width="1.8"/>
<rect x="323.22" y="682.61" width="22.38" height="137.12" fill="#d6d6d6" stroke="#000" stroke-width="1.8"/>
<rect x="358.13" y="677.59" width="21.47" height="142.14" fill="#9ac5f6" stroke="#000" stroke-width="1.8"/>
<rect x="414.48" y="665.5" width="22.15" height="154.23" fill="#d6d6d6" stroke="#000" stroke-width="1.8"/>
<rect x="449.15" y="685.35" width="21.7" height="134.39" fill="#9ac5f6" stroke="#000" stroke-width="1.8"/>
<line x1="231.98" y1="734.18" x2="231.98" y2="758.14" stroke="#000" stroke-width="1.7"/>
<line x1="226.38" y1="734.18" x2="237.58" y2="734.18" stroke="#000" stroke-width="1.7"/>
<line x1="226.38" y1="758.14" x2="237.58" y2="758.14" stroke="#000" stroke-width="1.7"/>
<line x1="277.61" y1="608.02" x2="277.61" y2="715.48" stroke="#000" stroke-width="1.7"/>
<line x1="272.01" y1="608.02" x2="283.21" y2="608.02" stroke="#000" stroke-width="1.7"/>
<line x1="272.01" y1="715.48" x2="283.21" y2="715.48" stroke="#000" stroke-width="1.7"/>
<line x1="334.41" y1="669.62" x2="334.41" y2="699.96" stroke="#000" stroke-width="1.7"/>
<line x1="328.81" y1="669.62" x2="340.01" y2="669.62" stroke="#000" stroke-width="1.7"/>
<line x1="328.81" y1="699.96" x2="340.01" y2="699.96" stroke="#000" stroke-width="1.7"/>
<line x1="368.63" y1="640.65" x2="368.63" y2="714.11" stroke="#000" stroke-width="1.7"/>
<line x1="363.03" y1="640.65" x2="374.23" y2="640.65" stroke="#000" stroke-width="1.7"/>
<line x1="363.03" y1="714.11" x2="374.23" y2="714.11" stroke="#000" stroke-width="1.7"/>
<line x1="425.67" y1="630.38" x2="425.67" y2="699.96" stroke="#000" stroke-width="1.7"/>
<line x1="420.07" y1="630.38" x2="431.27" y2="630.38" stroke="#000" stroke-width="1.7"/>
<line x1="420.07" y1="699.96" x2="431.27" y2="699.96" stroke="#000" stroke-width="1.7"/>
<line x1="459.89" y1="646.35" x2="459.89" y2="726.66" stroke="#000" stroke-width="1.7"/>
<line x1="454.29" y1="646.35" x2="465.49" y2="646.35" stroke="#000" stroke-width="1.7"/>
<line x1="454.29" y1="726.66" x2="465.49" y2="726.66" stroke="#000" stroke-width="1.7"/>
<circle cx="231.98" cy="732.36" r="5.1" fill="#000"/>
<circle cx="231.98" cy="741.03" r="5.1" fill="#000"/>
<circle cx="224.91" cy="759.96" r="5.1" fill="#000"/>
<circle cx="239.05" cy="755.86" r="5.1" fill="#000"/>
<circle cx="277.61" cy="590" r="5.1" fill="#000"/>
<circle cx="277.61" cy="661.64" r="5.1" fill="#000"/>
<circle cx="277.61" cy="674.87" r="5.1" fill="#000"/>
<circle cx="277.61" cy="720.04" r="5.1" fill="#000"/>
<circle cx="334.41" cy="665.29" r="5.1" fill="#000"/>
<circle cx="326.88" cy="677.83" r="5.1" fill="#000"/>
<circle cx="341.71" cy="680.12" r="5.1" fill="#000"/>
<circle cx="334.41" cy="706.35" r="5.1" fill="#000"/>
<circle cx="368.63" cy="630.84" r="5.1" fill="#000"/>
<circle cx="368.63" cy="673.73" r="5.1" fill="#000"/>
<circle cx="368.63" cy="683.54" r="5.1" fill="#000"/>
<circle cx="368.63" cy="721.64" r="5.1" fill="#000"/>
<circle cx="425.67" cy="625.36" r="5.1" fill="#000"/>
<circle cx="425.67" cy="655.93" r="5.1" fill="#000"/>
<circle cx="425.67" cy="670.76" r="5.1" fill="#000"/>
<circle cx="425.67" cy="709.55" r="5.1" fill="#000"/>
<circle cx="459.89" cy="642.93" r="5.1" fill="#000"/>
<circle cx="459.89" cy="658.21" r="5.1" fill="#000"/>
<circle cx="459.89" cy="705.21" r="5.1" fill="#000"/>
<circle cx="459.89" cy="733.73" r="5.1" fill="#000"/>
<line x1="209.39" y1="545.07" x2="209.39" y2="821.24" stroke="#000" stroke-width="1.9"/>
<line x1="198.09" y1="819.74" x2="483.89" y2="819.74" stroke="#000" stroke-width="1.9"/>
<line x1="198.09" y1="545.97" x2="209.39" y2="545.97" stroke="#000" stroke-width="1.8"/>
<text x="194.99" y="553.57" font-size="24.3" text-anchor="end" stroke="#000" stroke-width="0.3">20</text>
<line x1="198.09" y1="614.41" x2="209.39" y2="614.41" stroke="#000" stroke-width="1.8"/>
<text x="194.99" y="622.01" font-size="24.3" text-anchor="end" stroke="#000" stroke-width="0.3">15</text>
<line x1="198.09" y1="682.85" x2="209.39" y2="682.85" stroke="#000" stroke-width="1.8"/>
<text x="194.99" y="690.45" font-size="24.3" text-anchor="end" stroke="#000" stroke-width="0.3">10</text>
<line x1="198.09" y1="750.84" x2="209.39" y2="750.84" stroke="#000" stroke-width="1.8"/>
<text x="192.69" y="758.44" font-size="24.3" text-anchor="end" stroke="#000" stroke-width="0.3">5</text>
<line x1="198.09" y1="819.74" x2="209.39" y2="819.74" stroke="#000" stroke-width="1.8"/>
<text x="192.69" y="827.34" font-size="24.3" text-anchor="end" stroke="#000" stroke-width="0.3">0</text>
<text stroke="#000" stroke-width="0.3" font-size="24" text-anchor="end" transform="translate(247.39 839.94) rotate(-45)">CTRL</text>
<text stroke="#000" stroke-width="0.3" font-size="24" text-anchor="end" transform="translate(293.02 839.94) rotate(-45)">5 dpi</text>
<text stroke="#000" stroke-width="0.3" font-size="24" text-anchor="end" transform="translate(366.94 839.94) rotate(-45)">15 dpi</text>
<text stroke="#000" stroke-width="0.3" font-size="24" text-anchor="end" transform="translate(458.08 839.94) rotate(-45)">30 dpi</text>
<line x1="231.75" y1="557.83" x2="277.83" y2="557.83" stroke="#000" stroke-width="1.9"/>
<text x="254.99" y="561.11" font-size="34" text-anchor="middle" stroke="#000" stroke-width="0.5">*</text>
<line x1="334.18" y1="590" x2="368.63" y2="590" stroke="#000" stroke-width="1.9"/>
<text x="351.71" y="582.33" font-size="24.5" text-anchor="middle" stroke="#000" stroke-width="0.3">ns</text>
<line x1="425.44" y1="590" x2="459.89" y2="590" stroke="#000" stroke-width="1.9"/>
<text x="442.96" y="582.33" font-size="24.5" text-anchor="middle" stroke="#000" stroke-width="0.3">ns</text>
<text stroke="#000" stroke-width="0.3" font-size="24" transform="translate(148 754.8) rotate(-90)">% CD79<tspan dx="5.9" dy="-8.8">+</tspan><tspan dx="3.2" dy="8.8">cells</tspan></text>
<text x="785.3" y="516.8" font-size="28" text-anchor="middle" stroke="#000" stroke-width="0.3">T cells</text>
<rect x="649.7" y="748.77" width="22.15" height="70.51" fill="#7f7f7f" stroke="#000" stroke-width="1.8"/>
<rect x="695.33" y="626.26" width="22.15" height="193.02" fill="#d6d6d6" stroke="#000" stroke-width="1.8"/>
<rect x="752.36" y="636.53" width="21.7" height="182.75" fill="#d6d6d6" stroke="#000" stroke-width="1.8"/>
<rect x="786.58" y="650.67" width="21.7" height="168.61" fill="#9ac5f6" stroke="#000" stroke-width="1.8"/>
<rect x="843.16" y="646.11" width="22.15" height="173.17" fill="#d6d6d6" stroke="#000" stroke-width="1.8"/>
<rect x="877.84" y="618.73" width="21.7" height="200.55" fill="#9ac5f6" stroke="#000" stroke-width="1.8"/>
<line x1="660.89" y1="736.47" x2="660.89" y2="762.25" stroke="#000" stroke-width="1.7"/>
<line x1="655.29" y1="736.47" x2="666.49" y2="736.47" stroke="#000" stroke-width="1.7"/>
<line x1="655.29" y1="762.25" x2="666.49" y2="762.25" stroke="#000" stroke-width="1.7"/>
<line x1="706.52" y1="583.61" x2="706.52" y2="666.43" stroke="#000" stroke-width="1.7"/>
<line x1="700.92" y1="583.61" x2="712.12" y2="583.61" stroke="#000" stroke-width="1.7"/>
<line x1="700.92" y1="666.43" x2="712.12" y2="666.43" stroke="#000" stroke-width="1.7"/>
<line x1="763.32" y1="610.53" x2="763.32" y2="661.86" stroke="#000" stroke-width="1.7"/>
<line x1="757.72" y1="610.53" x2="768.92" y2="610.53" stroke="#000" stroke-width="1.7"/>
<line x1="757.72" y1="661.86" x2="768.92" y2="661.86" stroke="#000" stroke-width="1.7"/>
<line x1="797.55" y1="617.38" x2="797.55" y2="682.17" stroke="#000" stroke-width="1.7"/>
<line x1="791.95" y1="617.38" x2="803.15" y2="617.38" stroke="#000" stroke-width="1.7"/>
<line x1="791.95" y1="682.17" x2="803.15" y2="682.17" stroke="#000" stroke-width="1.7"/>
<line x1="854.12" y1="621.94" x2="854.12" y2="669.16" stroke="#000" stroke-width="1.7"/>
<line x1="848.52" y1="621.94" x2="859.72" y2="621.94" stroke="#000" stroke-width="1.7"/>
<line x1="848.52" y1="669.16" x2="859.72" y2="669.16" stroke="#000" stroke-width="1.7"/>
<line x1="888.8" y1="605.29" x2="888.8" y2="629.7" stroke="#000" stroke-width="1.7"/>
<line x1="883.2" y1="605.29" x2="894.4" y2="605.29" stroke="#000" stroke-width="1.7"/>
<line x1="883.2" y1="629.7" x2="894.4" y2="629.7" stroke="#000" stroke-width="1.7"/>
<circle cx="660.89" cy="734.64" r="5.1" fill="#000"/>
<circle cx="653.36" cy="744.45" r="5.1" fill="#000"/>
<circle cx="668.19" cy="744.45" r="5.1" fill="#000"/>
<circle cx="660.89" cy="768.4" r="5.1" fill="#000"/>
<circle cx="706.52" cy="582.93" r="5.1" fill="#000"/>
<circle cx="706.52" cy="603.46" r="5.1" fill="#000"/>
<circle cx="706.52" cy="640.65" r="5.1" fill="#000"/>
<circle cx="706.52" cy="676.01" r="5.1" fill="#000"/>
<circle cx="763.32" cy="598.9" r="5.1" fill="#000"/>
<circle cx="755.57" cy="645.67" r="5.1" fill="#000"/>
<circle cx="770.4" cy="646.81" r="5.1" fill="#000"/>
<circle cx="763.32" cy="655.02" r="5.1" fill="#000"/>
<circle cx="797.55" cy="619.43" r="5.1" fill="#000"/>
<circle cx="797.55" cy="632.66" r="5.1" fill="#000"/>
<circle cx="797.55" cy="655.02" r="5.1" fill="#000"/>
<circle cx="797.55" cy="693.12" r="5.1" fill="#000"/>
<circle cx="854.12" cy="611.45" r="5.1" fill="#000"/>
<circle cx="854.12" cy="647.95" r="5.1" fill="#000"/>
<circle cx="861.65" cy="659.35" r="5.1" fill="#000"/>
<circle cx="847.28" cy="664.6" r="5.1" fill="#000"/>
<circle cx="895.87" cy="603.69" r="5.1" fill="#000"/>
<circle cx="881.04" cy="610.53" r="5.1" fill="#000"/>
<circle cx="881.04" cy="630.38" r="5.1" fill="#000"/>
<circle cx="895.64" cy="628.56" r="5.1" fill="#000"/>
<line x1="638.08" y1="545.07" x2="638.08" y2="820.78" stroke="#000" stroke-width="1.9"/>
<line x1="626.78" y1="819.28" x2="912.58" y2="819.28" stroke="#000" stroke-width="1.9"/>
<line x1="626.78" y1="545.97" x2="638.08" y2="545.97" stroke="#000" stroke-width="1.8"/>
<text x="623.68" y="553.57" font-size="24.3" text-anchor="end" stroke="#000" stroke-width="0.3">40</text>
<line x1="626.78" y1="614.41" x2="638.08" y2="614.41" stroke="#000" stroke-width="1.8"/>
<text x="623.68" y="622.01" font-size="24.3" text-anchor="end" stroke="#000" stroke-width="0.3">30</text>
<line x1="626.78" y1="682.4" x2="638.08" y2="682.4" stroke="#000" stroke-width="1.8"/>
<text x="623.68" y="690" font-size="24.3" text-anchor="end" stroke="#000" stroke-width="0.3">20</text>
<line x1="626.78" y1="750.84" x2="638.08" y2="750.84" stroke="#000" stroke-width="1.8"/>
<text x="623.68" y="758.44" font-size="24.3" text-anchor="end" stroke="#000" stroke-width="0.3">10</text>
<line x1="626.78" y1="819.28" x2="638.08" y2="819.28" stroke="#000" stroke-width="1.8"/>
<text x="621.38" y="826.88" font-size="24.3" text-anchor="end" stroke="#000" stroke-width="0.3">0</text>
<text stroke="#000" stroke-width="0.3" font-size="24" text-anchor="end" transform="translate(676.08 839.48) rotate(-45)">CTRL</text>
<text stroke="#000" stroke-width="0.3" font-size="24" text-anchor="end" transform="translate(721.7 839.48) rotate(-45)">5 dpi</text>
<text stroke="#000" stroke-width="0.3" font-size="24" text-anchor="end" transform="translate(795.62 839.48) rotate(-45)">15 dpi</text>
<text stroke="#000" stroke-width="0.3" font-size="24" text-anchor="end" transform="translate(886.76 839.48) rotate(-45)">30 dpi</text>
<line x1="657.24" y1="551.22" x2="693.74" y2="551.22" stroke="#000" stroke-width="1.9"/>
<text x="675.69" y="554.73" font-size="34" text-anchor="middle" stroke="#000" stroke-width="0.5">*</text>
<line x1="763.32" y1="578.82" x2="797.55" y2="578.82" stroke="#000" stroke-width="1.9"/>
<text x="780.73" y="572.06" font-size="24.5" text-anchor="middle" stroke="#000" stroke-width="0.3">ns</text>
<line x1="854.12" y1="578.82" x2="888.57" y2="578.82" stroke="#000" stroke-width="1.9"/>
<text x="871.65" y="572.06" font-size="24.5" text-anchor="middle" stroke="#000" stroke-width="0.3">ns</text>
<text stroke="#000" stroke-width="0.3" font-size="24" transform="translate(575.9 744.5) rotate(-90)">% CD3<tspan dx="0.4" dy="-8.8">+</tspan><tspan dx="-0.3" dy="8.8">cells</tspan></text>
<text x="1216.5" y="515.8" font-size="28" text-anchor="middle" stroke="#000" stroke-width="0.3">Monocytes/MQs</text>
<rect x="1086.01" y="730.07" width="22.15" height="87.39" fill="#7f7f7f" stroke="#000" stroke-width="1.8"/>
<rect x="1131.64" y="674.63" width="21.7" height="142.83" fill="#d6d6d6" stroke="#000" stroke-width="1.8"/>
<rect x="1188.68" y="693.79" width="21.7" height="123.66" fill="#d6d6d6" stroke="#000" stroke-width="1.8"/>
<rect x="1223.13" y="753.79" width="21.47" height="63.66" fill="#9ac5f6" stroke="#000" stroke-width="1.8"/>
<rect x="1279.48" y="741.24" width="21.7" height="76.21" fill="#d6d6d6" stroke="#000" stroke-width="1.8"/>
<rect x="1314.15" y="754.93" width="21.7" height="62.52" fill="#9ac5f6" stroke="#000" stroke-width="1.8"/>
<line x1="1096.98" y1="704.07" x2="1096.98" y2="755.4" stroke="#000" stroke-width="1.7"/>
<line x1="1091.38" y1="704.07" x2="1102.58" y2="704.07" stroke="#000" stroke-width="1.7"/>
<line x1="1091.38" y1="755.4" x2="1102.58" y2="755.4" stroke="#000" stroke-width="1.7"/>
<line x1="1142.61" y1="631.98" x2="1142.61" y2="716.39" stroke="#000" stroke-width="1.7"/>
<line x1="1137.01" y1="631.98" x2="1148.21" y2="631.98" stroke="#000" stroke-width="1.7"/>
<line x1="1137.01" y1="716.39" x2="1148.21" y2="716.39" stroke="#000" stroke-width="1.7"/>
<line x1="1199.41" y1="636.31" x2="1199.41" y2="749.93" stroke="#000" stroke-width="1.7"/>
<line x1="1193.81" y1="636.31" x2="1205.01" y2="636.31" stroke="#000" stroke-width="1.7"/>
<line x1="1193.81" y1="749.93" x2="1205.01" y2="749.93" stroke="#000" stroke-width="1.7"/>
<line x1="1233.63" y1="733.5" x2="1233.63" y2="773.42" stroke="#000" stroke-width="1.7"/>
<line x1="1228.03" y1="733.5" x2="1239.23" y2="733.5" stroke="#000" stroke-width="1.7"/>
<line x1="1228.03" y1="773.42" x2="1239.23" y2="773.42" stroke="#000" stroke-width="1.7"/>
<line x1="1290.67" y1="730.76" x2="1290.67" y2="749.01" stroke="#000" stroke-width="1.7"/>
<line x1="1285.07" y1="730.76" x2="1296.27" y2="730.76" stroke="#000" stroke-width="1.7"/>
<line x1="1285.07" y1="749.01" x2="1296.27" y2="749.01" stroke="#000" stroke-width="1.7"/>
<line x1="1324.89" y1="722.78" x2="1324.89" y2="786.2" stroke="#000" stroke-width="1.7"/>
<line x1="1319.29" y1="722.78" x2="1330.49" y2="722.78" stroke="#000" stroke-width="1.7"/>
<line x1="1319.29" y1="786.2" x2="1330.49" y2="786.2" stroke="#000" stroke-width="1.7"/>
<circle cx="1089.68" cy="708.4" r="5.1" fill="#000"/>
<circle cx="1104.51" cy="707.26" r="5.1" fill="#000"/>
<circle cx="1096.98" cy="745.13" r="5.1" fill="#000"/>
<circle cx="1096.98" cy="757.68" r="5.1" fill="#000"/>
<circle cx="1142.61" cy="628.78" r="5.1" fill="#000"/>
<circle cx="1142.61" cy="665.06" r="5.1" fill="#000"/>
<circle cx="1142.61" cy="673.27" r="5.1" fill="#000"/>
<circle cx="1142.61" cy="730.76" r="5.1" fill="#000"/>
<circle cx="1199.41" cy="614.41" r="5.1" fill="#000"/>
<circle cx="1199.41" cy="689.24" r="5.1" fill="#000"/>
<circle cx="1206.71" cy="731.9" r="5.1" fill="#000"/>
<circle cx="1192.11" cy="737.61" r="5.1" fill="#000"/>
<circle cx="1233.63" cy="728.94" r="5.1" fill="#000"/>
<circle cx="1233.63" cy="749.47" r="5.1" fill="#000"/>
<circle cx="1233.63" cy="758.14" r="5.1" fill="#000"/>
<circle cx="1233.63" cy="777.53" r="5.1" fill="#000"/>
<circle cx="1297.97" cy="730.31" r="5.1" fill="#000"/>
<circle cx="1283.14" cy="736.01" r="5.1" fill="#000"/>
<circle cx="1297.97" cy="742.85" r="5.1" fill="#000"/>
<circle cx="1290.67" cy="752.44" r="5.1" fill="#000"/>
<circle cx="1332.19" cy="730.31" r="5.1" fill="#000"/>
<circle cx="1317.36" cy="736.01" r="5.1" fill="#000"/>
<circle cx="1324.89" cy="750.84" r="5.1" fill="#000"/>
<circle cx="1324.89" cy="800.34" r="5.1" fill="#000"/>
<line x1="1074.39" y1="543.24" x2="1074.39" y2="818.95" stroke="#000" stroke-width="1.9"/>
<line x1="1063.09" y1="817.45" x2="1348.89" y2="817.45" stroke="#000" stroke-width="1.9"/>
<line x1="1063.09" y1="544.14" x2="1074.39" y2="544.14" stroke="#000" stroke-width="1.8"/>
<text x="1061.09" y="551.74" font-size="24.3" text-anchor="end" stroke="#000" stroke-width="0.3">2.0</text>
<line x1="1063.09" y1="612.81" x2="1074.39" y2="612.81" stroke="#000" stroke-width="1.8"/>
<text x="1061.09" y="620.41" font-size="24.3" text-anchor="end" stroke="#000" stroke-width="0.3">1.5</text>
<line x1="1063.09" y1="681.03" x2="1074.39" y2="681.03" stroke="#000" stroke-width="1.8"/>
<text x="1061.09" y="688.63" font-size="24.3" text-anchor="end" stroke="#000" stroke-width="0.3">1.0</text>
<line x1="1063.09" y1="749.47" x2="1074.39" y2="749.47" stroke="#000" stroke-width="1.8"/>
<text x="1061.09" y="757.07" font-size="24.3" text-anchor="end" stroke="#000" stroke-width="0.3">0.5</text>
<line x1="1063.09" y1="817.45" x2="1074.39" y2="817.45" stroke="#000" stroke-width="1.8"/>
<text x="1061.09" y="825.05" font-size="24.3" text-anchor="end" stroke="#000" stroke-width="0.3">0.0</text>
<text stroke="#000" stroke-width="0.3" font-size="24" text-anchor="end" transform="translate(1113.89 837.65) rotate(-45)">CTRL</text>
<text stroke="#000" stroke-width="0.3" font-size="24" text-anchor="end" transform="translate(1159.29 837.65) rotate(-45)">5 dpi</text>
<text stroke="#000" stroke-width="0.3" font-size="24" text-anchor="end" transform="translate(1233.49 837.65) rotate(-45)">15 dpi</text>
<text stroke="#000" stroke-width="0.3" font-size="24" text-anchor="end" transform="translate(1324.46 837.65) rotate(-45)">30 dpi</text>
<line x1="1096.98" y1="582.24" x2="1142.83" y2="582.24" stroke="#000" stroke-width="1.9"/>
<text x="1120.21" y="574.8" font-size="24.5" text-anchor="middle" stroke="#000" stroke-width="0.3">ns</text>
<line x1="1199.41" y1="582.24" x2="1233.63" y2="582.24" stroke="#000" stroke-width="1.9"/>
<text x="1216.82" y="574.8" font-size="24.5" text-anchor="middle" stroke="#000" stroke-width="0.3">ns</text>
<line x1="1290.67" y1="582.24" x2="1324.89" y2="582.24" stroke="#000" stroke-width="1.9"/>
<text x="1308.08" y="574.8" font-size="24.5" text-anchor="middle" stroke="#000" stroke-width="0.3">ns</text>
<text stroke="#000" stroke-width="0.3" font-size="24" transform="translate(1008.6 766.4) rotate(-90)">% <tspan dx="-2" letter-spacing="0.3" style="font-kerning:none">CD11b</tspan><tspan dx="-5.5" dy="-8.8">+</tspan><tspan dx="-0.5" dy="8.8">CD14</tspan><tspan dx="-2.2" dy="-8.8">+</tspan></text>
<text x="1660" y="516.8" font-size="28" text-anchor="middle" stroke="#000" stroke-width="0.3">Neutrophils</text>
<rect x="1521.7" y="810.37" width="21.7" height="6.17" fill="#7f7f7f" stroke="#000" stroke-width="1.8"/>
<rect x="1567.33" y="759.72" width="21.47" height="56.82" fill="#d6d6d6" stroke="#000" stroke-width="1.8"/>
<rect x="1623.9" y="710.45" width="21.93" height="106.1" fill="#d6d6d6" stroke="#000" stroke-width="1.8"/>
<rect x="1658.13" y="756.3" width="21.93" height="60.24" fill="#9ac5f6" stroke="#000" stroke-width="1.8"/>
<rect x="1714.93" y="668.47" width="22.15" height="148.07" fill="#d6d6d6" stroke="#000" stroke-width="1.8"/>
<rect x="1749.38" y="770.9" width="21.47" height="45.64" fill="#9ac5f6" stroke="#000" stroke-width="1.8"/>
<line x1="1532.43" y1="804.91" x2="1532.43" y2="812.89" stroke="#000" stroke-width="1.7"/>
<line x1="1526.83" y1="804.91" x2="1538.03" y2="804.91" stroke="#000" stroke-width="1.7"/>
<line x1="1526.83" y1="812.89" x2="1538.03" y2="812.89" stroke="#000" stroke-width="1.7"/>
<line x1="1578.06" y1="731.9" x2="1578.06" y2="786.66" stroke="#000" stroke-width="1.7"/>
<line x1="1572.46" y1="731.9" x2="1583.66" y2="731.9" stroke="#000" stroke-width="1.7"/>
<line x1="1572.46" y1="786.66" x2="1583.66" y2="786.66" stroke="#000" stroke-width="1.7"/>
<line x1="1634.87" y1="689.7" x2="1634.87" y2="729.62" stroke="#000" stroke-width="1.7"/>
<line x1="1629.27" y1="689.7" x2="1640.47" y2="689.7" stroke="#000" stroke-width="1.7"/>
<line x1="1629.27" y1="729.62" x2="1640.47" y2="729.62" stroke="#000" stroke-width="1.7"/>
<line x1="1669.09" y1="744.68" x2="1669.09" y2="767.26" stroke="#000" stroke-width="1.7"/>
<line x1="1663.49" y1="744.68" x2="1674.69" y2="744.68" stroke="#000" stroke-width="1.7"/>
<line x1="1663.49" y1="767.26" x2="1674.69" y2="767.26" stroke="#000" stroke-width="1.7"/>
<line x1="1726.12" y1="626.73" x2="1726.12" y2="709.55" stroke="#000" stroke-width="1.7"/>
<line x1="1720.52" y1="626.73" x2="1731.72" y2="626.73" stroke="#000" stroke-width="1.7"/>
<line x1="1720.52" y1="709.55" x2="1731.72" y2="709.55" stroke="#000" stroke-width="1.7"/>
<line x1="1760.34" y1="749.01" x2="1760.34" y2="791.67" stroke="#000" stroke-width="1.7"/>
<line x1="1754.74" y1="749.01" x2="1765.94" y2="749.01" stroke="#000" stroke-width="1.7"/>
<line x1="1754.74" y1="791.67" x2="1765.94" y2="791.67" stroke="#000" stroke-width="1.7"/>
<circle cx="1524.68" cy="801.03" r="5.1" fill="#000"/>
<circle cx="1531.06" cy="803.77" r="5.1" fill="#000"/>
<circle cx="1539.05" cy="806.5" r="5.1" fill="#000"/>
<circle cx="1524.68" cy="811.75" r="5.1" fill="#000"/>
<circle cx="1585.13" cy="733.73" r="5.1" fill="#000"/>
<circle cx="1570.3" cy="741.71" r="5.1" fill="#000"/>
<circle cx="1578.06" cy="768.4" r="5.1" fill="#000"/>
<circle cx="1578.06" cy="793.96" r="5.1" fill="#000"/>
<circle cx="1642.17" cy="692.66" r="5.1" fill="#000"/>
<circle cx="1627.34" cy="696.54" r="5.1" fill="#000"/>
<circle cx="1634.87" cy="713.65" r="5.1" fill="#000"/>
<circle cx="1634.87" cy="736.92" r="5.1" fill="#000"/>
<circle cx="1661.56" cy="745.59" r="5.1" fill="#000"/>
<circle cx="1676.62" cy="751.29" r="5.1" fill="#000"/>
<circle cx="1669.09" cy="754.72" r="5.1" fill="#000"/>
<circle cx="1669.09" cy="771.83" r="5.1" fill="#000"/>
<circle cx="1726.12" cy="612.13" r="5.1" fill="#000"/>
<circle cx="1726.12" cy="666.88" r="5.1" fill="#000"/>
<circle cx="1726.12" cy="683.54" r="5.1" fill="#000"/>
<circle cx="1726.12" cy="710.69" r="5.1" fill="#000"/>
<circle cx="1760.34" cy="745.13" r="5.1" fill="#000"/>
<circle cx="1752.82" cy="764.53" r="5.1" fill="#000"/>
<circle cx="1767.64" cy="771.83" r="5.1" fill="#000"/>
<circle cx="1760.34" cy="797.38" r="5.1" fill="#000"/>
<line x1="1510.08" y1="542.79" x2="1510.08" y2="818.04" stroke="#000" stroke-width="1.9"/>
<line x1="1498.78" y1="816.54" x2="1784.58" y2="816.54" stroke="#000" stroke-width="1.9"/>
<line x1="1498.78" y1="543.69" x2="1510.08" y2="543.69" stroke="#000" stroke-width="1.8"/>
<text x="1496.78" y="551.29" font-size="24.3" text-anchor="end" stroke="#000" stroke-width="0.3">2.0</text>
<line x1="1498.78" y1="611.67" x2="1510.08" y2="611.67" stroke="#000" stroke-width="1.8"/>
<text x="1496.78" y="619.27" font-size="24.3" text-anchor="end" stroke="#000" stroke-width="0.3">1.5</text>
<line x1="1498.78" y1="680.12" x2="1510.08" y2="680.12" stroke="#000" stroke-width="1.8"/>
<text x="1496.78" y="687.72" font-size="24.3" text-anchor="end" stroke="#000" stroke-width="0.3">1.0</text>
<line x1="1498.78" y1="748.56" x2="1510.08" y2="748.56" stroke="#000" stroke-width="1.8"/>
<text x="1496.78" y="756.16" font-size="24.3" text-anchor="end" stroke="#000" stroke-width="0.3">0.5</text>
<line x1="1498.78" y1="816.54" x2="1510.08" y2="816.54" stroke="#000" stroke-width="1.8"/>
<text x="1496.78" y="824.14" font-size="24.3" text-anchor="end" stroke="#000" stroke-width="0.3">0.0</text>
<text stroke="#000" stroke-width="0.3" font-size="24" text-anchor="end" transform="translate(1547.85 836.74) rotate(-45)">CTRL</text>
<text stroke="#000" stroke-width="0.3" font-size="24" text-anchor="end" transform="translate(1593.36 836.74) rotate(-45)">5 dpi</text>
<text stroke="#000" stroke-width="0.3" font-size="24" text-anchor="end" transform="translate(1667.28 836.74) rotate(-45)">15 dpi</text>
<text stroke="#000" stroke-width="0.3" font-size="24" text-anchor="end" transform="translate(1758.36 836.74) rotate(-45)">30 dpi</text>
<line x1="1537.91" y1="611.45" x2="1576.24" y2="611.45" stroke="#000" stroke-width="1.9"/>
<text x="1557.27" y="614.04" font-size="34" text-anchor="middle" stroke="#000" stroke-width="0.5">*</text>
<line x1="1636.69" y1="611.45" x2="1674.79" y2="611.45" stroke="#000" stroke-width="1.9"/>
<text x="1655.94" y="614.04" font-size="34" text-anchor="middle" stroke="#000" stroke-width="0.5">*</text>
<line x1="1735.25" y1="566.96" x2="1773.35" y2="566.96" stroke="#000" stroke-width="1.9"/>
<text x="1754.5" y="570.01" font-size="34" text-anchor="middle" stroke="#000" stroke-width="0.5">*</text>
<text stroke="#000" stroke-width="0.3" font-size="24" transform="translate(1443.4 786.2) rotate(-90)">% <tspan dx="-2" letter-spacing="0.2" style="font-kerning:none">CD11b</tspan><tspan dx="-6" dy="-8.8">+</tspan><tspan dx="0.3" dy="8.8" letter-spacing="-0.8">Ly6G</tspan><tspan dx="-1.5" dy="-8.8">+</tspan><tspan dx="-1" dy="8.8">cells</tspan></text>
<rect x="1828.3" y="636" width="27.3" height="13.4" fill="#7f7f7f" stroke="#000" stroke-width="1.8"/>
<text x="1866.1" y="646.6" font-size="24.2" stroke="#000" stroke-width="0.3">CTRL</text>
<rect x="1828.3" y="667.6" width="27.3" height="13.4" fill="#d6d6d6" stroke="#000" stroke-width="1.8"/>
<text x="1866.1" y="678.4" font-size="24.2" stroke="#000" stroke-width="0.3">Non-treat</text>
<rect x="1828.3" y="699.6" width="27.3" height="13.4" fill="#9ac5f6" stroke="#000" stroke-width="1.8"/>
<text x="1866.1" y="712" font-size="24.2" stroke="#000" stroke-width="0.3">Sivelestat</text>
<text x="5.8" y="917.7" font-size="32" font-weight="bold" fill="#1a1311">f</text>
<path d="M42.38,950.13 C42.41,949.05 42.32,947.66 42.76,946.32 C43.21,944.99 43.9,943.31 45.04,942.14 C46.19,940.97 47.84,939.99 49.61,939.32 C51.39,938.65 53.67,938.31 55.7,938.1 C57.73,937.9 59.89,937.81 61.79,938.1 C63.69,938.4 65.34,938.87 67.12,939.85 C68.89,940.84 70.8,942.33 72.44,944.04 C74.09,945.75 75.68,947.97 77.01,950.13 C78.34,952.29 79.52,954.7 80.44,956.98 C81.35,959.26 82.05,961.67 82.49,963.83 C82.94,965.99 83.13,968.02 83.1,969.92 C83.07,971.82 82.85,973.6 82.34,975.25 C81.83,976.9 81.07,978.54 80.06,979.81 C79.04,981.08 77.52,982.29 76.25,982.86 C74.98,983.43 73.59,983.49 72.44,983.24 C71.3,982.98 70.35,982.29 69.4,981.34 C68.45,980.38 67.56,978.93 66.74,977.53 C65.91,976.13 65.34,974.42 64.45,972.96 C63.56,971.5 62.61,970.05 61.41,968.78 C60.2,967.51 58.81,966.37 57.22,965.35 C55.64,964.34 53.61,963.58 51.89,962.69 C50.18,961.8 48.28,961.1 46.95,960.02 C45.62,958.95 44.63,957.42 43.9,956.22 C43.18,955.01 42.86,953.81 42.61,952.79 C42.36,951.78 42.36,951.21 42.38,950.13Z" fill="#893338" stroke="#7a2a30" stroke-width="0.7"/>
<path d="M43.67,949.75 C43.55,948 43.74,946.39 44.66,944.95 C45.59,943.52 47.33,942.04 49.23,941.15 C51.13,940.26 53.86,939.78 56.08,939.63 C58.3,939.47 60.52,939.5 62.55,940.24 C64.58,940.97 66.55,942.46 68.26,944.04 C69.97,945.63 71.56,947.59 72.83,949.75 C74.09,951.91 75.2,954.63 75.87,956.98 C76.54,959.33 76.82,961.93 76.86,963.83 C76.9,965.73 76.55,967.1 76.1,968.4 C75.64,969.69 74.96,970.86 74.12,971.59 C73.28,972.33 72.09,972.91 71.07,972.81 C70.06,972.71 69.04,971.9 68.03,970.98 C67.02,970.07 66.25,968.55 64.99,967.33 C63.72,966.11 62.07,964.69 60.42,963.68 C58.77,962.66 56.92,962 55.09,961.24 C53.26,960.48 51.07,960.08 49.46,959.11 C47.85,958.15 46.39,957.02 45.42,955.46 C44.46,953.9 43.8,951.5 43.67,949.75Z" fill="#91454a"/>
<path d="M49.76,943.89 C50.37,943.76 52.11,943.17 53.42,943.13 C54.72,943.09 56.91,943.57 57.6,943.66" fill="none" stroke="#bd6a70" stroke-width="0.9" stroke-linecap="round"/>
<circle cx="61.94" cy="945.18" r="0.7" fill="#b05d63"/>
<text x="67.5" y="1005.7" font-size="24" text-anchor="middle" stroke="#000" stroke-width="0.3">Speen</text>
<text x="365.2" y="948.2" font-size="28" text-anchor="middle" stroke="#000" stroke-width="0.3">B cells</text>
<rect x="221.47" y="1038.01" width="21.93" height="211.27" fill="#7f7f7f" stroke="#000" stroke-width="1.8"/>
<rect x="267.33" y="1064.25" width="21.47" height="185.03" fill="#d6d6d6" stroke="#000" stroke-width="1.8"/>
<rect x="324.13" y="1079.99" width="21.7" height="169.29" fill="#d6d6d6" stroke="#000" stroke-width="1.8"/>
<rect x="358.58" y="1076.11" width="21.47" height="173.17" fill="#9ac5f6" stroke="#000" stroke-width="1.8"/>
<rect x="414.93" y="1071.09" width="22.15" height="178.19" fill="#d6d6d6" stroke="#000" stroke-width="1.8"/>
<rect x="449.38" y="1051.24" width="21.93" height="198.04" fill="#9ac5f6" stroke="#000" stroke-width="1.8"/>
<line x1="232.43" y1="1015.89" x2="232.43" y2="1058.56" stroke="#000" stroke-width="1.7"/>
<line x1="226.83" y1="1015.89" x2="238.03" y2="1015.89" stroke="#000" stroke-width="1.7"/>
<line x1="226.83" y1="1058.56" x2="238.03" y2="1058.56" stroke="#000" stroke-width="1.7"/>
<line x1="278.06" y1="1021.14" x2="278.06" y2="1106.01" stroke="#000" stroke-width="1.7"/>
<line x1="272.46" y1="1021.14" x2="283.66" y2="1021.14" stroke="#000" stroke-width="1.7"/>
<line x1="272.46" y1="1106.01" x2="283.66" y2="1106.01" stroke="#000" stroke-width="1.7"/>
<line x1="334.87" y1="1064.49" x2="334.87" y2="1094.6" stroke="#000" stroke-width="1.7"/>
<line x1="329.27" y1="1064.49" x2="340.47" y2="1064.49" stroke="#000" stroke-width="1.7"/>
<line x1="329.27" y1="1094.6" x2="340.47" y2="1094.6" stroke="#000" stroke-width="1.7"/>
<line x1="369.09" y1="1019.77" x2="369.09" y2="1131.1" stroke="#000" stroke-width="1.7"/>
<line x1="363.49" y1="1019.77" x2="374.69" y2="1019.77" stroke="#000" stroke-width="1.7"/>
<line x1="363.49" y1="1131.1" x2="374.69" y2="1131.1" stroke="#000" stroke-width="1.7"/>
<line x1="426.12" y1="1015.89" x2="426.12" y2="1124.26" stroke="#000" stroke-width="1.7"/>
<line x1="420.52" y1="1015.89" x2="431.72" y2="1015.89" stroke="#000" stroke-width="1.7"/>
<line x1="420.52" y1="1124.26" x2="431.72" y2="1124.26" stroke="#000" stroke-width="1.7"/>
<line x1="460.34" y1="1028.9" x2="460.34" y2="1072.24" stroke="#000" stroke-width="1.7"/>
<line x1="454.74" y1="1028.9" x2="465.94" y2="1028.9" stroke="#000" stroke-width="1.7"/>
<line x1="454.74" y1="1072.24" x2="465.94" y2="1072.24" stroke="#000" stroke-width="1.7"/>
<circle cx="232.43" cy="1009.73" r="5.1" fill="#000"/>
<circle cx="232.43" cy="1031.86" r="5.1" fill="#000"/>
<circle cx="239.73" cy="1050.11" r="5.1" fill="#000"/>
<circle cx="224.91" cy="1056.96" r="5.1" fill="#000"/>
<circle cx="285.36" cy="1033.46" r="5.1" fill="#000"/>
<circle cx="270.3" cy="1039.39" r="5.1" fill="#000"/>
<circle cx="278.06" cy="1056.27" r="5.1" fill="#000"/>
<circle cx="278.06" cy="1125.4" r="5.1" fill="#000"/>
<circle cx="342.17" cy="1064.49" r="5.1" fill="#000"/>
<circle cx="327.34" cy="1069.51" r="5.1" fill="#000"/>
<circle cx="327.34" cy="1093" r="5.1" fill="#000"/>
<circle cx="342.17" cy="1093" r="5.1" fill="#000"/>
<circle cx="369.09" cy="1019.32" r="5.1" fill="#000"/>
<circle cx="369.09" cy="1041.45" r="5.1" fill="#000"/>
<circle cx="369.09" cy="1100.99" r="5.1" fill="#000"/>
<circle cx="369.09" cy="1141.83" r="5.1" fill="#000"/>
<circle cx="426.12" cy="1021.6" r="5.1" fill="#000"/>
<circle cx="426.12" cy="1032.55" r="5.1" fill="#000"/>
<circle cx="426.12" cy="1087.76" r="5.1" fill="#000"/>
<circle cx="426.12" cy="1139.55" r="5.1" fill="#000"/>
<circle cx="460.34" cy="1018.18" r="5.1" fill="#000"/>
<circle cx="460.34" cy="1058.56" r="5.1" fill="#000"/>
<circle cx="452.82" cy="1063.8" r="5.1" fill="#000"/>
<circle cx="467.64" cy="1060.38" r="5.1" fill="#000"/>
<line x1="210.08" y1="975.07" x2="210.08" y2="1250.78" stroke="#000" stroke-width="1.9"/>
<line x1="198.78" y1="1249.28" x2="484.58" y2="1249.28" stroke="#000" stroke-width="1.9"/>
<line x1="198.78" y1="975.97" x2="210.08" y2="975.97" stroke="#000" stroke-width="1.8"/>
<text x="195.68" y="983.57" font-size="24.3" text-anchor="end" stroke="#000" stroke-width="0.3">60</text>
<line x1="198.78" y1="1066.77" x2="210.08" y2="1066.77" stroke="#000" stroke-width="1.8"/>
<text x="195.68" y="1074.37" font-size="24.3" text-anchor="end" stroke="#000" stroke-width="0.3">40</text>
<line x1="198.78" y1="1158.02" x2="210.08" y2="1158.02" stroke="#000" stroke-width="1.8"/>
<text x="195.68" y="1165.62" font-size="24.3" text-anchor="end" stroke="#000" stroke-width="0.3">20</text>
<line x1="198.78" y1="1249.28" x2="210.08" y2="1249.28" stroke="#000" stroke-width="1.8"/>
<text x="193.38" y="1256.88" font-size="24.3" text-anchor="end" stroke="#000" stroke-width="0.3">0</text>
<text stroke="#000" stroke-width="0.3" font-size="24" text-anchor="end" transform="translate(247.73 1269.48) rotate(-45)">CTRL</text>
<text stroke="#000" stroke-width="0.3" font-size="24" text-anchor="end" transform="translate(293.36 1269.48) rotate(-45)">5 dpi</text>
<text stroke="#000" stroke-width="0.3" font-size="24" text-anchor="end" transform="translate(367.45 1269.48) rotate(-45)">15 dpi</text>
<text stroke="#000" stroke-width="0.3" font-size="24" text-anchor="end" transform="translate(458.48 1269.48) rotate(-45)">30 dpi</text>
<line x1="230.61" y1="988.75" x2="270.3" y2="988.75" stroke="#000" stroke-width="1.9"/>
<text x="250.76" y="983.81" font-size="24.5" text-anchor="middle" stroke="#000" stroke-width="0.3">ns</text>
<line x1="334.87" y1="990.34" x2="369.09" y2="990.34" stroke="#000" stroke-width="1.9"/>
<text x="352.28" y="985.41" font-size="24.5" text-anchor="middle" stroke="#000" stroke-width="0.3">ns</text>
<line x1="428.86" y1="994.45" x2="463.08" y2="994.45" stroke="#000" stroke-width="1.9"/>
<text x="446.27" y="985.41" font-size="24.5" text-anchor="middle" stroke="#000" stroke-width="0.3">ns</text>
<text stroke="#000" stroke-width="0.3" font-size="24" transform="translate(152.6 1187.7) rotate(-90)">% CD79<tspan dx="-1.6" dy="-8.8">+</tspan><tspan dx="-1.8" dy="8.8">cells</tspan></text>
<text x="799" y="948.2" font-size="28" text-anchor="middle" stroke="#000" stroke-width="0.3">T cells</text>
<rect x="648.56" y="1061.28" width="22.15" height="187.09" fill="#7f7f7f" stroke="#000" stroke-width="1.8"/>
<rect x="694.19" y="1114.89" width="21.93" height="133.47" fill="#d6d6d6" stroke="#000" stroke-width="1.8"/>
<rect x="751.22" y="1154.36" width="21.7" height="94.01" fill="#d6d6d6" stroke="#000" stroke-width="1.8"/>
<rect x="785.44" y="1154.36" width="21.7" height="94.01" fill="#9ac5f6" stroke="#000" stroke-width="1.8"/>
<rect x="842.02" y="1146.38" width="22.15" height="101.99" fill="#d6d6d6" stroke="#000" stroke-width="1.8"/>
<rect x="876.7" y="1152.08" width="21.7" height="96.29" fill="#9ac5f6" stroke="#000" stroke-width="1.8"/>
<line x1="659.52" y1="1006.77" x2="659.52" y2="1115.13" stroke="#000" stroke-width="1.7"/>
<line x1="653.92" y1="1006.77" x2="665.12" y2="1006.77" stroke="#000" stroke-width="1.7"/>
<line x1="653.92" y1="1115.13" x2="665.12" y2="1115.13" stroke="#000" stroke-width="1.7"/>
<line x1="705.15" y1="1088.9" x2="705.15" y2="1141.83" stroke="#000" stroke-width="1.7"/>
<line x1="699.55" y1="1088.9" x2="710.75" y2="1088.9" stroke="#000" stroke-width="1.7"/>
<line x1="699.55" y1="1141.83" x2="710.75" y2="1141.83" stroke="#000" stroke-width="1.7"/>
<line x1="761.96" y1="1143.2" x2="761.96" y2="1165.32" stroke="#000" stroke-width="1.7"/>
<line x1="756.36" y1="1143.2" x2="767.56" y2="1143.2" stroke="#000" stroke-width="1.7"/>
<line x1="756.36" y1="1165.32" x2="767.56" y2="1165.32" stroke="#000" stroke-width="1.7"/>
<line x1="796.18" y1="1140.23" x2="796.18" y2="1167.61" stroke="#000" stroke-width="1.7"/>
<line x1="790.58" y1="1140.23" x2="801.78" y2="1140.23" stroke="#000" stroke-width="1.7"/>
<line x1="790.58" y1="1167.61" x2="801.78" y2="1167.61" stroke="#000" stroke-width="1.7"/>
<line x1="853.21" y1="1133.39" x2="853.21" y2="1159.17" stroke="#000" stroke-width="1.7"/>
<line x1="847.61" y1="1133.39" x2="858.81" y2="1133.39" stroke="#000" stroke-width="1.7"/>
<line x1="847.61" y1="1159.17" x2="858.81" y2="1159.17" stroke="#000" stroke-width="1.7"/>
<line x1="887.43" y1="1142.51" x2="887.43" y2="1161.22" stroke="#000" stroke-width="1.7"/>
<line x1="881.83" y1="1142.51" x2="893.03" y2="1142.51" stroke="#000" stroke-width="1.7"/>
<line x1="881.83" y1="1161.22" x2="893.03" y2="1161.22" stroke="#000" stroke-width="1.7"/>
<circle cx="667.05" cy="1023.19" r="5.1" fill="#000"/>
<circle cx="652.22" cy="1028.44" r="5.1" fill="#000"/>
<circle cx="659.52" cy="1051.71" r="5.1" fill="#000"/>
<circle cx="659.52" cy="1139.77" r="5.1" fill="#000"/>
<circle cx="705.15" cy="1085.48" r="5.1" fill="#000"/>
<circle cx="705.15" cy="1106.01" r="5.1" fill="#000"/>
<circle cx="705.15" cy="1115.13" r="5.1" fill="#000"/>
<circle cx="705.15" cy="1151.18" r="5.1" fill="#000"/>
<circle cx="769.26" cy="1141.83" r="5.1" fill="#000"/>
<circle cx="754.88" cy="1148.9" r="5.1" fill="#000"/>
<circle cx="769.26" cy="1156.66" r="5.1" fill="#000"/>
<circle cx="761.96" cy="1166.01" r="5.1" fill="#000"/>
<circle cx="796.18" cy="1136.12" r="5.1" fill="#000"/>
<circle cx="796.18" cy="1149.36" r="5.1" fill="#000"/>
<circle cx="803.48" cy="1161.9" r="5.1" fill="#000"/>
<circle cx="789.1" cy="1167.61" r="5.1" fill="#000"/>
<circle cx="860.51" cy="1133.84" r="5.1" fill="#000"/>
<circle cx="845.68" cy="1139.09" r="5.1" fill="#000"/>
<circle cx="853.21" cy="1148.9" r="5.1" fill="#000"/>
<circle cx="853.21" cy="1163.04" r="5.1" fill="#000"/>
<circle cx="894.5" cy="1140.69" r="5.1" fill="#000"/>
<circle cx="879.9" cy="1146.39" r="5.1" fill="#000"/>
<circle cx="879.9" cy="1160.76" r="5.1" fill="#000"/>
<circle cx="894.5" cy="1159.17" r="5.1" fill="#000"/>
<line x1="637.16" y1="973.93" x2="637.16" y2="1249.87" stroke="#000" stroke-width="1.9"/>
<line x1="625.86" y1="1248.37" x2="911.66" y2="1248.37" stroke="#000" stroke-width="1.9"/>
<line x1="625.86" y1="974.83" x2="637.16" y2="974.83" stroke="#000" stroke-width="1.8"/>
<text x="622.76" y="982.43" font-size="24.3" text-anchor="end" stroke="#000" stroke-width="0.3">40</text>
<line x1="625.86" y1="1043.27" x2="637.16" y2="1043.27" stroke="#000" stroke-width="1.8"/>
<text x="622.76" y="1050.87" font-size="24.3" text-anchor="end" stroke="#000" stroke-width="0.3">30</text>
<line x1="625.86" y1="1111.26" x2="637.16" y2="1111.26" stroke="#000" stroke-width="1.8"/>
<text x="622.76" y="1118.86" font-size="24.3" text-anchor="end" stroke="#000" stroke-width="0.3">20</text>
<line x1="625.86" y1="1179.7" x2="637.16" y2="1179.7" stroke="#000" stroke-width="1.8"/>
<text x="622.76" y="1187.3" font-size="24.3" text-anchor="end" stroke="#000" stroke-width="0.3">10</text>
<line x1="625.86" y1="1248.37" x2="637.16" y2="1248.37" stroke="#000" stroke-width="1.8"/>
<text x="620.46" y="1255.97" font-size="24.3" text-anchor="end" stroke="#000" stroke-width="0.3">0</text>
<text stroke="#000" stroke-width="0.3" font-size="24" text-anchor="end" transform="translate(674.94 1268.57) rotate(-45)">CTRL</text>
<text stroke="#000" stroke-width="0.3" font-size="24" text-anchor="end" transform="translate(720.45 1268.57) rotate(-45)">5 dpi</text>
<text stroke="#000" stroke-width="0.3" font-size="24" text-anchor="end" transform="translate(794.48 1268.57) rotate(-45)">15 dpi</text>
<text stroke="#000" stroke-width="0.3" font-size="24" text-anchor="end" transform="translate(885.62 1268.57) rotate(-45)">30 dpi</text>
<line x1="657.92" y1="993.54" x2="697.16" y2="993.54" stroke="#000" stroke-width="1.9"/>
<text x="677.84" y="986.78" font-size="24.5" text-anchor="middle" stroke="#000" stroke-width="0.3">ns</text>
<line x1="763.55" y1="1071.1" x2="794.35" y2="1071.1" stroke="#000" stroke-width="1.9"/>
<text x="779.25" y="1064.8" font-size="24.5" text-anchor="middle" stroke="#000" stroke-width="0.3">ns</text>
<line x1="856.86" y1="1071.79" x2="887.89" y2="1071.79" stroke="#000" stroke-width="1.9"/>
<text x="872.67" y="1064.8" font-size="24.5" text-anchor="middle" stroke="#000" stroke-width="0.3">ns</text>
<text stroke="#000" stroke-width="0.3" font-size="24" transform="translate(575.9 1184.5) rotate(-90)">% CD3<tspan dx="0.4" dy="-8.8">+</tspan><tspan dx="-0.3" dy="8.8">cells</tspan></text>
<text x="1230.4" y="948.2" font-size="28" text-anchor="middle" stroke="#000" stroke-width="0.3">Monocytes/MQs</text>
<rect x="1086.01" y="1226.91" width="22.15" height="19.18" fill="#7f7f7f" stroke="#000" stroke-width="1.8"/>
<rect x="1131.64" y="1149.34" width="21.7" height="96.74" fill="#d6d6d6" stroke="#000" stroke-width="1.8"/>
<rect x="1188.68" y="1127.44" width="21.7" height="118.64" fill="#d6d6d6" stroke="#000" stroke-width="1.8"/>
<rect x="1223.13" y="1206.61" width="21.47" height="39.48" fill="#9ac5f6" stroke="#000" stroke-width="1.8"/>
<rect x="1279.48" y="1080.22" width="21.93" height="165.87" fill="#d6d6d6" stroke="#000" stroke-width="1.8"/>
<rect x="1314.15" y="1197.02" width="21.7" height="49.06" fill="#9ac5f6" stroke="#000" stroke-width="1.8"/>
<line x1="1096.98" y1="1216.66" x2="1096.98" y2="1236.5" stroke="#000" stroke-width="1.7"/>
<line x1="1091.38" y1="1216.66" x2="1102.58" y2="1216.66" stroke="#000" stroke-width="1.7"/>
<line x1="1091.38" y1="1236.5" x2="1102.58" y2="1236.5" stroke="#000" stroke-width="1.7"/>
<line x1="1142.61" y1="1094.15" x2="1142.61" y2="1203.42" stroke="#000" stroke-width="1.7"/>
<line x1="1137.01" y1="1094.15" x2="1148.21" y2="1094.15" stroke="#000" stroke-width="1.7"/>
<line x1="1137.01" y1="1203.42" x2="1148.21" y2="1203.42" stroke="#000" stroke-width="1.7"/>
<line x1="1199.41" y1="1101.67" x2="1199.41" y2="1150.72" stroke="#000" stroke-width="1.7"/>
<line x1="1193.81" y1="1101.67" x2="1205.01" y2="1101.67" stroke="#000" stroke-width="1.7"/>
<line x1="1193.81" y1="1150.72" x2="1205.01" y2="1150.72" stroke="#000" stroke-width="1.7"/>
<line x1="1233.63" y1="1194.53" x2="1233.63" y2="1216.66" stroke="#000" stroke-width="1.7"/>
<line x1="1228.03" y1="1194.53" x2="1239.23" y2="1194.53" stroke="#000" stroke-width="1.7"/>
<line x1="1228.03" y1="1216.66" x2="1239.23" y2="1216.66" stroke="#000" stroke-width="1.7"/>
<line x1="1290.67" y1="1005.63" x2="1290.67" y2="1153.92" stroke="#000" stroke-width="1.7"/>
<line x1="1285.07" y1="1005.63" x2="1296.27" y2="1005.63" stroke="#000" stroke-width="1.7"/>
<line x1="1285.07" y1="1153.92" x2="1296.27" y2="1153.92" stroke="#000" stroke-width="1.7"/>
<line x1="1324.89" y1="1185.86" x2="1324.89" y2="1207.07" stroke="#000" stroke-width="1.7"/>
<line x1="1319.29" y1="1185.86" x2="1330.49" y2="1185.86" stroke="#000" stroke-width="1.7"/>
<line x1="1319.29" y1="1207.07" x2="1330.49" y2="1207.07" stroke="#000" stroke-width="1.7"/>
<circle cx="1096.98" cy="1212.09" r="5.1" fill="#000"/>
<circle cx="1089.68" cy="1233.77" r="5.1" fill="#000"/>
<circle cx="1096.98" cy="1229.66" r="5.1" fill="#000"/>
<circle cx="1104.51" cy="1230.8" r="5.1" fill="#000"/>
<circle cx="1142.61" cy="1078.18" r="5.1" fill="#000"/>
<circle cx="1142.61" cy="1136.35" r="5.1" fill="#000"/>
<circle cx="1142.61" cy="1175.13" r="5.1" fill="#000"/>
<circle cx="1142.61" cy="1204.79" r="5.1" fill="#000"/>
<circle cx="1199.41" cy="1096.2" r="5.1" fill="#000"/>
<circle cx="1192.11" cy="1124.26" r="5.1" fill="#000"/>
<circle cx="1206.94" cy="1129.96" r="5.1" fill="#000"/>
<circle cx="1199.41" cy="1156.2" r="5.1" fill="#000"/>
<circle cx="1240.93" cy="1192.7" r="5.1" fill="#000"/>
<circle cx="1226.1" cy="1200.23" r="5.1" fill="#000"/>
<circle cx="1226.1" cy="1216.66" r="5.1" fill="#000"/>
<circle cx="1240.93" cy="1214.83" r="5.1" fill="#000"/>
<circle cx="1290.67" cy="999.92" r="5.1" fill="#000"/>
<circle cx="1290.67" cy="1034.6" r="5.1" fill="#000"/>
<circle cx="1290.67" cy="1136.81" r="5.1" fill="#000"/>
<circle cx="1290.67" cy="1147.53" r="5.1" fill="#000"/>
<circle cx="1324.89" cy="1181.75" r="5.1" fill="#000"/>
<circle cx="1317.36" cy="1193.16" r="5.1" fill="#000"/>
<circle cx="1332.19" cy="1200.69" r="5.1" fill="#000"/>
<circle cx="1317.36" cy="1208.21" r="5.1" fill="#000"/>
<line x1="1074.39" y1="972.1" x2="1074.39" y2="1247.59" stroke="#000" stroke-width="1.9"/>
<line x1="1063.09" y1="1246.09" x2="1348.89" y2="1246.09" stroke="#000" stroke-width="1.9"/>
<line x1="1063.09" y1="973" x2="1074.39" y2="973" stroke="#000" stroke-width="1.8"/>
<text x="1059.99" y="980.6" font-size="24.3" text-anchor="end" stroke="#000" stroke-width="0.3">25</text>
<line x1="1063.09" y1="1027.76" x2="1074.39" y2="1027.76" stroke="#000" stroke-width="1.8"/>
<text x="1059.99" y="1035.36" font-size="24.3" text-anchor="end" stroke="#000" stroke-width="0.3">20</text>
<line x1="1063.09" y1="1082.51" x2="1074.39" y2="1082.51" stroke="#000" stroke-width="1.8"/>
<text x="1059.99" y="1090.11" font-size="24.3" text-anchor="end" stroke="#000" stroke-width="0.3">15</text>
<line x1="1063.09" y1="1137.04" x2="1074.39" y2="1137.04" stroke="#000" stroke-width="1.8"/>
<text x="1059.99" y="1144.64" font-size="24.3" text-anchor="end" stroke="#000" stroke-width="0.3">10</text>
<line x1="1063.09" y1="1191.79" x2="1074.39" y2="1191.79" stroke="#000" stroke-width="1.8"/>
<text x="1057.69" y="1199.39" font-size="24.3" text-anchor="end" stroke="#000" stroke-width="0.3">5</text>
<line x1="1063.09" y1="1246.09" x2="1074.39" y2="1246.09" stroke="#000" stroke-width="1.8"/>
<text x="1057.69" y="1253.69" font-size="24.3" text-anchor="end" stroke="#000" stroke-width="0.3">0</text>
<text stroke="#000" stroke-width="0.3" font-size="24" text-anchor="end" transform="translate(1114.89 1266.29) rotate(-45)">CTRL</text>
<text stroke="#000" stroke-width="0.3" font-size="24" text-anchor="end" transform="translate(1160.29 1266.29) rotate(-45)">5 dpi</text>
<text stroke="#000" stroke-width="0.3" font-size="24" text-anchor="end" transform="translate(1234.49 1266.29) rotate(-45)">15 dpi</text>
<text stroke="#000" stroke-width="0.3" font-size="24" text-anchor="end" transform="translate(1325.52 1266.29) rotate(-45)">30 dpi</text>
<line x1="1097.89" y1="985.55" x2="1137.59" y2="985.55" stroke="#000" stroke-width="1.9"/>
<text x="1117.94" y="989.29" font-size="34" text-anchor="middle" stroke="#000" stroke-width="0.5">*</text>
<line x1="1203.52" y1="1069.73" x2="1238.2" y2="1069.73" stroke="#000" stroke-width="1.9"/>
<text x="1221.06" y="1073.24" font-size="34" text-anchor="middle" stroke="#000" stroke-width="0.5">*</text>
<line x1="1297.97" y1="982.81" x2="1332.42" y2="982.81" stroke="#000" stroke-width="1.9"/>
<text x="1315.39" y="985.18" font-size="34" text-anchor="middle" stroke="#000" stroke-width="0.5">*</text>
<text stroke="#000" stroke-width="0.3" font-size="24" transform="translate(1008.6 1196.2) rotate(-90)">% <tspan dx="-2" letter-spacing="0.3" style="font-kerning:none">CD11b</tspan><tspan dx="-5.5" dy="-8.8">+</tspan><tspan dx="-0.5" dy="8.8">CD14</tspan><tspan dx="-2.2" dy="-8.8">+</tspan></text>
<text x="1674" y="948.2" font-size="28" text-anchor="middle" stroke="#000" stroke-width="0.3">Neutrophils</text>
<rect x="1522.38" y="1230.1" width="22.15" height="16.89" fill="#7f7f7f" stroke="#000" stroke-width="1.8"/>
<rect x="1568.01" y="1200.9" width="21.93" height="46.1" fill="#d6d6d6" stroke="#000" stroke-width="1.8"/>
<rect x="1625.05" y="1110.56" width="21.93" height="136.44" fill="#d6d6d6" stroke="#000" stroke-width="1.8"/>
<rect x="1659.49" y="1178.32" width="21.7" height="68.68" fill="#9ac5f6" stroke="#000" stroke-width="1.8"/>
<rect x="1716.3" y="1103.03" width="21.93" height="143.97" fill="#d6d6d6" stroke="#000" stroke-width="1.8"/>
<rect x="1750.52" y="1202.27" width="21.93" height="44.73" fill="#9ac5f6" stroke="#000" stroke-width="1.8"/>
<line x1="1533.35" y1="1217.8" x2="1533.35" y2="1241.07" stroke="#000" stroke-width="1.7"/>
<line x1="1527.75" y1="1217.8" x2="1538.95" y2="1217.8" stroke="#000" stroke-width="1.7"/>
<line x1="1527.75" y1="1241.07" x2="1538.95" y2="1241.07" stroke="#000" stroke-width="1.7"/>
<line x1="1578.97" y1="1166.92" x2="1578.97" y2="1232.63" stroke="#000" stroke-width="1.7"/>
<line x1="1573.37" y1="1166.92" x2="1584.57" y2="1166.92" stroke="#000" stroke-width="1.7"/>
<line x1="1573.37" y1="1232.63" x2="1584.57" y2="1232.63" stroke="#000" stroke-width="1.7"/>
<line x1="1636.01" y1="1086.62" x2="1636.01" y2="1132.24" stroke="#000" stroke-width="1.7"/>
<line x1="1630.41" y1="1086.62" x2="1641.61" y2="1086.62" stroke="#000" stroke-width="1.7"/>
<line x1="1630.41" y1="1132.24" x2="1641.61" y2="1132.24" stroke="#000" stroke-width="1.7"/>
<line x1="1670.23" y1="1145.93" x2="1670.23" y2="1208.67" stroke="#000" stroke-width="1.7"/>
<line x1="1664.63" y1="1145.93" x2="1675.83" y2="1145.93" stroke="#000" stroke-width="1.7"/>
<line x1="1664.63" y1="1208.67" x2="1675.83" y2="1208.67" stroke="#000" stroke-width="1.7"/>
<line x1="1727.26" y1="1063.8" x2="1727.26" y2="1141.37" stroke="#000" stroke-width="1.7"/>
<line x1="1721.66" y1="1063.8" x2="1732.86" y2="1063.8" stroke="#000" stroke-width="1.7"/>
<line x1="1721.66" y1="1141.37" x2="1732.86" y2="1141.37" stroke="#000" stroke-width="1.7"/>
<line x1="1761.48" y1="1187.45" x2="1761.48" y2="1214.83" stroke="#000" stroke-width="1.7"/>
<line x1="1755.88" y1="1187.45" x2="1767.08" y2="1187.45" stroke="#000" stroke-width="1.7"/>
<line x1="1755.88" y1="1214.83" x2="1767.08" y2="1214.83" stroke="#000" stroke-width="1.7"/>
<circle cx="1533.35" cy="1217.11" r="5.1" fill="#000"/>
<circle cx="1525.82" cy="1226.47" r="5.1" fill="#000"/>
<circle cx="1540.65" cy="1229.2" r="5.1" fill="#000"/>
<circle cx="1533.35" cy="1244.03" r="5.1" fill="#000"/>
<circle cx="1578.97" cy="1153.92" r="5.1" fill="#000"/>
<circle cx="1571.45" cy="1204.11" r="5.1" fill="#000"/>
<circle cx="1586.27" cy="1211.41" r="5.1" fill="#000"/>
<circle cx="1578.97" cy="1231.48" r="5.1" fill="#000"/>
<circle cx="1643.31" cy="1091.86" r="5.1" fill="#000"/>
<circle cx="1628.48" cy="1094.6" r="5.1" fill="#000"/>
<circle cx="1636.01" cy="1112.4" r="5.1" fill="#000"/>
<circle cx="1636.01" cy="1141.37" r="5.1" fill="#000"/>
<circle cx="1670.23" cy="1141.83" r="5.1" fill="#000"/>
<circle cx="1670.23" cy="1163.04" r="5.1" fill="#000"/>
<circle cx="1670.23" cy="1194.98" r="5.1" fill="#000"/>
<circle cx="1670.23" cy="1210.5" r="5.1" fill="#000"/>
<circle cx="1727.26" cy="1070.65" r="5.1" fill="#000"/>
<circle cx="1727.26" cy="1078.18" r="5.1" fill="#000"/>
<circle cx="1727.26" cy="1107.15" r="5.1" fill="#000"/>
<circle cx="1727.26" cy="1155.51" r="5.1" fill="#000"/>
<circle cx="1768.79" cy="1188.14" r="5.1" fill="#000"/>
<circle cx="1753.96" cy="1191.1" r="5.1" fill="#000"/>
<circle cx="1768.79" cy="1211.64" r="5.1" fill="#000"/>
<circle cx="1753.96" cy="1215.97" r="5.1" fill="#000"/>
<line x1="1510.99" y1="973.24" x2="1510.99" y2="1248.5" stroke="#000" stroke-width="1.9"/>
<line x1="1499.69" y1="1247" x2="1785.49" y2="1247" stroke="#000" stroke-width="1.9"/>
<line x1="1499.69" y1="974.14" x2="1510.99" y2="974.14" stroke="#000" stroke-width="1.8"/>
<text x="1496.59" y="981.74" font-size="24.3" text-anchor="end" stroke="#000" stroke-width="0.3">20</text>
<line x1="1499.69" y1="1042.36" x2="1510.99" y2="1042.36" stroke="#000" stroke-width="1.8"/>
<text x="1496.59" y="1049.96" font-size="24.3" text-anchor="end" stroke="#000" stroke-width="0.3">15</text>
<line x1="1499.69" y1="1110.57" x2="1510.99" y2="1110.57" stroke="#000" stroke-width="1.8"/>
<text x="1496.59" y="1118.17" font-size="24.3" text-anchor="end" stroke="#000" stroke-width="0.3">10</text>
<line x1="1499.69" y1="1179.01" x2="1510.99" y2="1179.01" stroke="#000" stroke-width="1.8"/>
<text x="1494.29" y="1186.61" font-size="24.3" text-anchor="end" stroke="#000" stroke-width="0.3">5</text>
<line x1="1499.69" y1="1247" x2="1510.99" y2="1247" stroke="#000" stroke-width="1.8"/>
<text x="1494.29" y="1254.6" font-size="24.3" text-anchor="end" stroke="#000" stroke-width="0.3">0</text>
<text stroke="#000" stroke-width="0.3" font-size="24" text-anchor="end" transform="translate(1548.76 1267.2) rotate(-45)">CTRL</text>
<text stroke="#000" stroke-width="0.3" font-size="24" text-anchor="end" transform="translate(1594.27 1267.2) rotate(-45)">5 dpi</text>
<text stroke="#000" stroke-width="0.3" font-size="24" text-anchor="end" transform="translate(1668.48 1267.2) rotate(-45)">15 dpi</text>
<text stroke="#000" stroke-width="0.3" font-size="24" text-anchor="end" transform="translate(1759.67 1267.2) rotate(-45)">30 dpi</text>
<line x1="1532.66" y1="1135.21" x2="1572.59" y2="1135.21" stroke="#000" stroke-width="1.9"/>
<text x="1552.92" y="1129.37" font-size="24.5" text-anchor="middle" stroke="#000" stroke-width="0.3">ns</text>
<line x1="1637.83" y1="1055.13" x2="1677.53" y2="1055.13" stroke="#000" stroke-width="1.9"/>
<text x="1657.88" y="1057.73" font-size="34" text-anchor="middle" stroke="#000" stroke-width="0.5">*</text>
<line x1="1732.28" y1="1018.18" x2="1771.75" y2="1018.18" stroke="#000" stroke-width="1.9"/>
<text x="1752.22" y="1020.09" font-size="34" text-anchor="middle" stroke="#000" stroke-width="0.5">*</text>
<text stroke="#000" stroke-width="0.3" font-size="24" transform="translate(1447 1216.2) rotate(-90)">% <tspan dx="-2" letter-spacing="0.2" style="font-kerning:none">CD11b</tspan><tspan dx="-6" dy="-8.8">+</tspan><tspan dx="0.3" dy="8.8" letter-spacing="-0.8">Ly6G</tspan><tspan dx="-1.5" dy="-8.8">+</tspan><tspan dx="-1" dy="8.8">cells</tspan></text>
<rect x="1827.1" y="1070.9" width="27.3" height="13.4" fill="#7f7f7f" stroke="#000" stroke-width="1.8"/>
<text x="1864.5" y="1081.9" font-size="24.2" stroke="#000" stroke-width="0.3">CTRL</text>
<rect x="1827.1" y="1102.8" width="27.3" height="13.4" fill="#d6d6d6" stroke="#000" stroke-width="1.8"/>
<text x="1864.5" y="1113.5" font-size="24.2" stroke="#000" stroke-width="0.3">Non-treat</text>
<rect x="1827.1" y="1135.1" width="27.3" height="13.4" fill="#9ac5f6" stroke="#000" stroke-width="1.8"/>
<text x="1864.5" y="1147.3" font-size="24.2" stroke="#000" stroke-width="0.3">Sivelestat</text>
</g>
</svg>
</body></html>
